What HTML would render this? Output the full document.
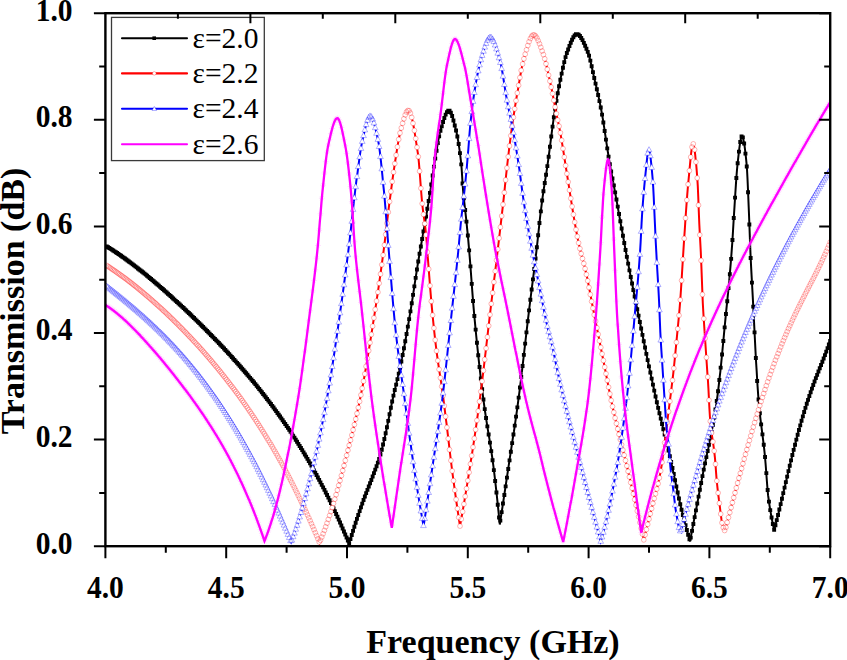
<!DOCTYPE html>
<html><head><meta charset="utf-8"><style>
html,body{margin:0;padding:0;background:#fff;}
body{width:847px;height:660px;overflow:hidden;font-family:"Liberation Serif",serif;}
svg{display:block;}
</style></head><body>
<svg width="847" height="660" viewBox="0 0 847 660">
<defs><clipPath id="c"><rect x="105.4" y="9.2" width="724.8" height="537.0"/></clipPath></defs>
<g clip-path="url(#c)">
<path d="M105.5,245.7 L106.0,246.0 L106.5,246.3 L107.0,246.6 L107.5,246.9 L108.0,247.2 L108.5,247.5 L109.0,247.8 L109.5,248.1 L110.0,248.4 L110.5,248.8 L111.0,249.1 L111.5,249.4 L112.0,249.7 L112.5,250.0 L113.0,250.4 L113.5,250.7 L114.0,251.0 L114.5,251.4 L115.0,251.7 L115.5,252.0 L116.0,252.4 L116.5,252.7 L117.0,253.0 L117.5,253.4 L118.0,253.7 L118.5,254.0 L119.0,254.4 L119.5,254.7 L120.0,255.1 L120.5,255.4 L121.0,255.8 L121.5,256.1 L122.0,256.5 L122.5,256.8 L123.0,257.2 L123.5,257.6 L124.0,257.9 L124.5,258.3 L125.0,258.6 L125.5,259.0 L126.1,259.4 L126.6,259.7 L127.1,260.1 L127.6,260.5 L128.1,260.8 L128.6,261.2 L129.1,261.6 L129.6,261.9 L130.1,262.3 L130.6,262.7 L131.1,263.1 L131.6,263.4 L132.1,263.8 L132.6,264.2 L133.1,264.6 L133.6,265.0 L134.1,265.4 L134.6,265.7 L135.1,266.1 L135.6,266.5 L136.1,266.9 L136.6,267.3 L137.1,267.7 L137.6,268.1 L138.1,268.5 L138.6,268.9 L139.1,269.3 L139.6,269.7 L140.1,270.1 L140.6,270.5 L141.1,270.9 L141.6,271.3 L142.1,271.7 L142.6,272.1 L143.1,272.5 L143.6,272.9 L144.1,273.3 L144.6,273.7 L145.1,274.1 L145.6,274.5 L146.1,274.9 L146.6,275.3 L147.1,275.7 L147.6,276.2 L148.1,276.6 L148.6,277.0 L149.1,277.4 L149.6,277.8 L150.1,278.2 L150.6,278.7 L151.1,279.1 L151.6,279.5 L152.1,279.9 L152.6,280.3 L153.1,280.8 L153.6,281.2 L154.1,281.6 L154.6,282.0 L155.1,282.5 L155.6,282.9 L156.1,283.3 L156.6,283.8 L157.1,284.2 L157.6,284.6 L158.1,285.1 L158.6,285.5 L159.1,285.9 L159.6,286.4 L160.1,286.8 L160.6,287.2 L161.1,287.7 L161.6,288.1 L162.1,288.6 L162.6,289.0 L163.1,289.4 L163.6,289.9 L164.1,290.3 L164.6,290.8 L165.1,291.2 L165.6,291.6 L166.1,292.1 L166.7,292.5 L167.2,293.0 L167.7,293.4 L168.2,293.9 L168.7,294.3 L169.2,294.8 L169.7,295.2 L170.2,295.7 L170.7,296.1 L171.2,296.6 L171.7,297.0 L172.2,297.5 L172.7,298.0 L173.2,298.4 L173.7,298.9 L174.2,299.3 L174.7,299.8 L175.2,300.3 L175.7,300.7 L176.2,301.2 L176.7,301.6 L177.2,302.1 L177.7,302.6 L178.2,303.0 L178.7,303.5 L179.2,304.0 L179.7,304.4 L180.2,304.9 L180.7,305.4 L181.2,305.8 L181.7,306.3 L182.2,306.8 L182.7,307.2 L183.2,307.7 L183.7,308.2 L184.2,308.6 L184.7,309.1 L185.2,309.6 L185.7,310.1 L186.2,310.5 L186.7,311.0 L187.2,311.5 L187.7,312.0 L188.2,312.4 L188.7,312.9 L189.2,313.4 L189.7,313.9 L190.2,314.4 L190.7,314.8 L191.2,315.3 L191.7,315.8 L192.2,316.3 L192.7,316.8 L193.2,317.3 L193.7,317.8 L194.2,318.2 L194.7,318.7 L195.2,319.2 L195.7,319.7 L196.2,320.2 L196.7,320.7 L197.2,321.2 L197.7,321.7 L198.2,322.2 L198.7,322.7 L199.2,323.1 L199.7,323.6 L200.2,324.1 L200.7,324.6 L201.2,325.1 L201.7,325.6 L202.2,326.1 L202.7,326.6 L203.2,327.1 L203.7,327.6 L204.2,328.1 L204.7,328.6 L205.2,329.1 L205.7,329.6 L206.2,330.1 L206.7,330.6 L207.3,331.1 L207.8,331.7 L208.3,332.2 L208.8,332.7 L209.3,333.2 L209.8,333.7 L210.3,334.2 L210.8,334.7 L211.3,335.2 L211.8,335.7 L212.3,336.3 L212.8,336.8 L213.3,337.3 L213.8,337.8 L214.3,338.3 L214.8,338.8 L215.3,339.4 L215.8,339.9 L216.3,340.4 L216.8,340.9 L217.3,341.4 L217.8,342.0 L218.3,342.5 L218.8,343.0 L219.3,343.5 L219.8,344.1 L220.3,344.6 L220.8,345.1 L221.3,345.6 L221.8,346.2 L222.3,346.7 L222.8,347.2 L223.3,347.8 L223.8,348.3 L224.3,348.8 L224.8,349.4 L225.3,349.9 L225.8,350.5 L226.3,351.0 L226.8,351.5 L227.3,352.1 L227.8,352.6 L228.3,353.2 L228.8,353.7 L229.3,354.3 L229.8,354.8 L230.3,355.3 L230.8,355.9 L231.3,356.4 L231.8,357.0 L232.3,357.5 L232.8,358.1 L233.3,358.7 L233.8,359.2 L234.3,359.8 L234.8,360.3 L235.3,360.9 L235.8,361.4 L236.3,362.0 L236.8,362.6 L237.3,363.1 L237.8,363.7 L238.3,364.2 L238.8,364.8 L239.3,365.4 L239.8,366.0 L240.3,366.5 L240.8,367.1 L241.3,367.7 L241.8,368.2 L242.3,368.8 L242.8,369.4 L243.3,370.0 L243.8,370.5 L244.3,371.1 L244.8,371.7 L245.3,372.3 L245.8,372.9 L246.3,373.5 L246.8,374.0 L247.3,374.6 L247.9,375.2 L248.4,375.8 L248.9,376.4 L249.4,377.0 L249.9,377.6 L250.4,378.2 L250.9,378.8 L251.4,379.4 L251.9,380.0 L252.4,380.6 L252.9,381.2 L253.4,381.8 L253.9,382.4 L254.4,383.0 L254.9,383.6 L255.4,384.2 L255.9,384.8 L256.4,385.5 L256.9,386.1 L257.4,386.7 L257.9,387.3 L258.4,387.9 L258.9,388.6 L259.4,389.2 L259.9,389.8 L260.4,390.4 L260.9,391.1 L261.4,391.7 L261.9,392.3 L262.4,393.0 L262.9,393.6 L263.4,394.2 L263.9,394.9 L264.4,395.5 L264.9,396.1 L265.4,396.8 L265.9,397.4 L266.4,398.1 L266.9,398.7 L267.4,399.4 L267.9,400.0 L268.4,400.7 L268.9,401.4 L269.4,402.0 L269.9,402.7 L270.4,403.3 L270.9,404.0 L271.4,404.7 L271.9,405.3 L272.4,406.0 L272.9,406.7 L273.4,407.4 L273.9,408.0 L274.4,408.7 L274.9,409.4 L275.4,410.1 L275.9,410.8 L276.4,411.5 L276.9,412.1 L277.4,412.8 L277.9,413.5 L278.4,414.2 L278.9,414.9 L279.4,415.6 L279.9,416.3 L280.4,417.0 L280.9,417.7 L281.4,418.5 L281.9,419.2 L282.4,419.9 L282.9,420.6 L283.4,421.3 L283.9,422.0 L284.4,422.8 L284.9,423.5 L285.4,424.2 L285.9,424.9 L286.4,425.7 L286.9,426.4 L287.4,427.2 L287.9,427.9 L288.5,428.6 L289.0,429.4 L289.5,430.1 L290.0,430.9 L290.5,431.6 L291.0,432.4 L291.5,433.2 L292.0,433.9 L292.5,434.7 L293.0,435.4 L293.5,436.2 L294.0,437.0 L294.5,437.8 L295.0,438.5 L295.5,439.3 L296.0,440.1 L296.5,440.9 L297.0,441.7 L297.5,442.5 L298.0,443.3 L298.5,444.1 L299.0,444.9 L299.5,445.7 L300.0,446.5 L300.5,447.3 L301.0,448.1 L301.5,448.9 L302.0,449.7 L302.5,450.6 L303.0,451.4 L303.5,452.2 L304.0,453.1 L304.5,453.9 L305.0,454.7 L305.5,455.6 L306.0,456.4 L306.5,457.3 L307.0,458.1 L307.5,459.0 L308.0,459.8 L308.5,460.7 L309.0,461.5 L309.5,462.4 L310.0,463.3 L310.5,464.2 L311.0,465.0 L311.5,465.9 L312.0,466.8 L312.5,467.7 L313.0,468.6 L313.5,469.5 L314.0,470.4 L314.5,471.3 L315.0,472.2 L315.5,473.1 L316.0,474.0 L316.5,474.9 L317.0,475.8 L317.5,476.8 L318.0,477.7 L318.5,478.6 L319.0,479.6 L319.5,480.5 L320.0,481.4 L320.5,482.4 L321.0,483.3 L321.5,484.3 L322.0,485.3 L322.5,486.2 L323.0,487.2 L323.5,488.2 L324.0,489.1 L324.5,490.1 L325.0,491.1 L325.5,492.1 L326.0,493.1 L326.5,494.1 L327.0,495.1 L327.5,496.1 L328.0,497.1 L328.5,498.1 L329.1,499.1 L329.6,500.1 L330.1,501.2 L330.6,502.2 L331.1,503.2 L331.6,504.3 L332.1,505.3 L332.6,506.4 L333.1,507.4 L333.6,508.5 L334.1,509.5 L334.6,510.6 L335.1,511.7 L335.6,512.7 L336.1,513.8 L336.6,514.9 L337.1,516.0 L337.6,517.1 L338.1,518.2 L338.6,519.3 L339.1,520.4 L339.6,521.5 L340.1,522.6 L340.6,523.7 L341.1,524.9 L341.6,526.0 L342.1,527.1 L342.6,528.3 L343.1,529.4 L343.6,530.6 L344.1,531.7 L344.6,532.9 L345.1,534.1 L345.6,535.2 L346.1,536.4 L346.6,537.6 L347.1,538.8 L347.6,540.0 L348.1,541.2 L348.6,542.4 L349.1,543.6 L349.6,542.0 L350.1,540.3 L350.6,538.7 L351.1,537.1 L351.6,535.5 L352.1,533.9 L352.6,532.3 L353.1,530.7 L353.6,529.1 L354.1,527.6 L354.6,526.0 L355.1,524.5 L355.6,522.9 L356.1,521.4 L356.6,519.9 L357.1,518.4 L357.6,516.9 L358.1,515.4 L358.6,513.9 L359.1,512.5 L359.6,511.0 L360.2,509.5 L360.7,508.1 L361.2,506.7 L361.7,505.2 L362.2,503.8 L362.7,502.4 L363.2,501.0 L363.7,499.6 L364.2,498.3 L364.7,496.9 L365.2,495.6 L365.7,494.3 L366.2,493.0 L366.7,491.7 L367.2,490.4 L367.7,489.2 L368.2,487.9 L368.7,486.6 L369.2,485.4 L369.7,484.1 L370.2,482.8 L370.7,481.6 L371.2,480.3 L371.7,479.0 L372.2,477.7 L372.7,476.4 L373.2,475.1 L373.7,473.7 L374.2,472.4 L374.7,471.0 L375.2,469.7 L375.7,468.4 L376.2,467.1 L376.7,465.8 L377.2,464.4 L377.7,463.0 L378.2,461.6 L378.7,460.1 L379.2,458.6 L379.7,457.0 L380.2,455.3 L380.7,453.5 L381.2,451.7 L381.8,449.8 L382.3,447.8 L382.8,445.7 L383.3,443.7 L383.8,441.5 L384.3,439.4 L384.8,437.2 L385.3,435.0 L385.8,432.8 L386.3,430.5 L386.8,428.2 L387.3,425.8 L387.8,423.3 L388.3,420.8 L388.8,418.3 L389.3,415.7 L389.8,413.2 L390.3,410.7 L390.8,408.2 L391.3,405.7 L391.8,403.3 L392.3,401.0 L392.8,398.7 L393.3,396.5 L393.8,394.3 L394.3,392.1 L394.8,390.0 L395.3,387.9 L395.8,385.8 L396.3,383.7 L396.8,381.6 L397.3,379.5 L397.8,377.4 L398.3,375.3 L398.8,373.1 L399.3,370.9 L399.8,368.6 L400.3,366.3 L400.8,363.9 L401.3,361.4 L401.8,359.0 L402.3,356.4 L402.8,353.9 L403.4,351.3 L403.9,348.6 L404.4,346.0 L404.9,343.2 L405.4,340.5 L405.9,337.7 L406.4,334.9 L406.9,332.1 L407.4,329.3 L407.9,326.4 L408.4,323.5 L408.9,320.6 L409.4,317.7 L409.9,314.7 L410.4,311.7 L410.9,308.6 L411.4,305.5 L411.9,302.3 L412.4,299.1 L412.9,295.9 L413.4,292.6 L413.9,289.3 L414.4,286.0 L414.9,282.7 L415.4,279.4 L415.9,276.2 L416.4,273.0 L416.9,269.8 L417.4,266.6 L417.9,263.5 L418.4,260.5 L418.9,257.5 L419.4,254.6 L419.9,251.7 L420.4,248.9 L420.9,246.0 L421.4,243.2 L421.9,240.4 L422.4,237.6 L422.9,234.7 L423.4,231.8 L423.9,228.9 L424.5,225.9 L425.0,223.0 L425.5,220.1 L426.0,217.2 L426.5,214.2 L427.0,211.3 L427.5,208.3 L428.0,205.3 L428.5,202.3 L429.0,199.2 L429.5,196.1 L430.0,193.0 L430.5,189.8 L431.0,186.6 L431.5,183.3 L432.0,179.8 L432.5,176.2 L433.0,172.7 L433.5,169.4 L434.0,166.1 L434.5,163.1 L435.0,160.0 L435.5,156.9 L436.0,153.8 L436.5,150.8 L437.0,147.8 L437.5,144.9 L438.0,142.1 L438.5,139.4 L439.0,136.9 L439.5,134.5 L440.0,132.3 L440.5,130.4 L441.0,128.7 L441.5,127.0 L442.0,125.4 L442.5,123.7 L443.0,122.1 L443.5,120.5 L444.0,119.0 L444.5,117.5 L445.0,116.1 L445.5,114.9 L446.1,113.8 L446.6,112.8 L447.1,111.9 L447.6,111.3 L448.1,110.8 L448.6,110.6 L449.1,110.5 L449.6,110.8 L450.1,111.3 L450.6,112.1 L451.1,113.2 L451.6,114.4 L452.1,115.8 L452.6,117.4 L453.1,119.1 L453.6,120.9 L454.1,122.8 L454.6,124.8 L455.1,126.7 L455.6,128.7 L456.1,130.7 L456.6,132.8 L457.1,135.2 L457.6,137.7 L458.1,140.5 L458.6,143.5 L459.1,146.8 L459.6,150.3 L460.1,154.2 L460.6,158.4 L461.1,162.8 L461.6,168.1 L462.1,175.8 L462.6,184.1 L463.1,190.5 L463.6,195.8 L464.1,200.6 L464.6,205.1 L465.1,209.4 L465.6,213.8 L466.1,218.3 L466.6,223.1 L467.1,228.4 L467.7,233.8 L468.2,239.4 L468.7,245.1 L469.2,251.0 L469.7,256.9 L470.2,263.2 L470.7,269.8 L471.2,276.5 L471.7,283.3 L472.2,290.0 L472.7,296.6 L473.2,303.0 L473.7,308.9 L474.2,314.5 L474.7,319.9 L475.2,325.2 L475.7,330.4 L476.2,335.5 L476.7,340.5 L477.2,345.4 L477.7,350.2 L478.2,354.9 L478.7,359.6 L479.2,364.1 L479.7,368.6 L480.2,373.0 L480.7,377.3 L481.2,381.6 L481.7,385.8 L482.2,389.9 L482.7,393.9 L483.2,397.9 L483.7,401.7 L484.2,405.5 L484.7,409.0 L485.2,412.5 L485.7,415.9 L486.2,419.2 L486.7,422.4 L487.2,425.6 L487.7,428.7 L488.2,431.9 L488.7,435.0 L489.3,438.1 L489.8,441.3 L490.3,444.5 L490.8,447.7 L491.3,451.1 L491.8,454.5 L492.3,458.0 L492.8,461.7 L493.3,465.4 L493.8,469.4 L494.3,473.4 L494.8,477.6 L495.3,481.9 L495.8,486.3 L496.3,490.8 L496.8,495.4 L497.3,500.1 L497.8,504.8 L498.3,509.7 L498.8,514.6 L499.3,519.5 L499.8,524.5 L500.3,521.2 L500.8,517.9 L501.3,514.7 L501.8,511.4 L502.3,508.1 L502.8,504.8 L503.3,501.5 L503.8,498.2 L504.3,494.8 L504.8,491.5 L505.3,488.2 L505.8,484.9 L506.3,481.5 L506.8,478.2 L507.3,474.8 L507.8,471.5 L508.3,468.1 L508.8,464.8 L509.3,461.5 L509.8,458.2 L510.3,454.9 L510.8,451.6 L511.3,448.3 L511.8,445.0 L512.3,441.7 L512.8,438.4 L513.3,435.0 L513.9,431.7 L514.4,428.3 L514.9,424.8 L515.4,421.4 L515.9,417.9 L516.4,414.3 L516.9,410.8 L517.4,407.1 L517.9,403.5 L518.4,399.7 L518.9,395.9 L519.4,392.1 L519.9,388.1 L520.4,384.1 L520.9,380.0 L521.4,375.9 L521.9,371.7 L522.4,367.4 L522.9,363.2 L523.4,358.9 L523.9,354.6 L524.4,350.2 L524.9,345.9 L525.4,341.6 L525.9,337.2 L526.4,332.9 L526.9,328.6 L527.4,324.3 L527.9,320.1 L528.4,315.8 L528.9,311.7 L529.4,307.5 L529.9,303.5 L530.4,299.5 L530.9,295.5 L531.4,291.5 L531.9,287.6 L532.4,283.7 L532.9,279.8 L533.4,275.8 L533.9,271.9 L534.4,267.9 L534.9,263.8 L535.4,259.7 L535.9,255.6 L536.4,251.3 L536.9,246.8 L537.4,242.3 L537.9,237.7 L538.4,233.0 L538.9,228.3 L539.4,223.6 L539.9,219.0 L540.4,214.4 L541.0,210.0 L541.5,205.8 L542.0,201.7 L542.5,197.9 L543.0,194.3 L543.5,190.9 L544.0,187.7 L544.5,184.5 L545.0,181.4 L545.5,178.2 L546.0,175.1 L546.5,171.9 L547.0,168.5 L547.5,165.1 L548.0,161.5 L548.5,157.8 L549.0,154.0 L549.5,150.2 L550.0,146.3 L550.5,142.4 L551.0,138.5 L551.5,134.6 L552.0,130.7 L552.5,127.0 L553.0,123.3 L553.5,119.6 L554.0,116.2 L554.5,112.8 L555.0,109.6 L555.5,106.5 L556.0,103.4 L556.5,100.4 L557.0,97.5 L557.5,94.6 L558.0,91.8 L558.5,89.1 L559.0,86.4 L559.5,83.9 L560.0,81.4 L560.5,79.0 L561.0,76.6 L561.5,74.3 L562.0,72.0 L562.5,69.7 L563.0,67.4 L563.5,65.2 L564.0,63.1 L564.5,61.1 L565.0,59.1 L565.5,57.3 L566.0,55.5 L566.5,53.9 L567.0,52.5 L567.5,51.1 L568.1,49.8 L568.6,48.5 L569.1,47.2 L569.6,45.9 L570.1,44.6 L570.6,43.3 L571.1,42.1 L571.6,40.9 L572.1,39.8 L572.6,38.8 L573.1,37.8 L573.6,37.0 L574.1,36.2 L574.6,35.5 L575.1,35.0 L575.6,34.5 L576.1,34.3 L576.6,34.1 L577.1,34.1 L577.6,34.2 L578.1,34.5 L578.6,34.8 L579.1,35.2 L579.6,35.7 L580.1,36.3 L580.6,37.0 L581.1,37.7 L581.6,38.5 L582.1,39.4 L582.6,40.4 L583.1,41.3 L583.6,42.4 L584.1,43.4 L584.6,44.6 L585.1,45.7 L585.6,46.8 L586.1,48.0 L586.6,49.2 L587.1,50.4 L587.6,51.6 L588.1,52.9 L588.6,54.4 L589.1,56.0 L589.6,57.8 L590.1,59.8 L590.6,61.8 L591.1,64.0 L591.6,66.2 L592.1,68.5 L592.6,70.8 L593.1,73.1 L593.6,75.3 L594.1,77.6 L594.6,79.7 L595.2,81.9 L595.7,84.0 L596.2,86.2 L596.7,88.4 L597.2,90.6 L597.7,92.8 L598.2,95.1 L598.7,97.4 L599.2,99.7 L599.7,102.1 L600.2,104.6 L600.7,107.1 L601.2,109.7 L601.7,112.4 L602.2,115.2 L602.7,118.2 L603.2,121.2 L603.7,124.4 L604.2,127.7 L604.7,131.0 L605.2,134.3 L605.7,137.7 L606.2,141.1 L606.7,144.4 L607.2,147.7 L607.7,151.0 L608.2,154.2 L608.7,157.3 L609.2,160.3 L609.7,163.2 L610.2,166.1 L610.7,168.9 L611.2,171.6 L611.7,174.3 L612.2,177.0 L612.7,179.6 L613.2,182.3 L613.7,184.9 L614.2,187.6 L614.7,190.3 L615.2,193.0 L615.7,195.7 L616.2,198.4 L616.7,201.2 L617.2,204.0 L617.7,206.8 L618.2,209.6 L618.7,212.4 L619.2,215.2 L619.7,218.0 L620.2,220.8 L620.7,223.6 L621.2,226.4 L621.7,229.2 L622.3,232.0 L622.8,234.8 L623.3,237.6 L623.8,240.3 L624.3,243.1 L624.8,245.8 L625.3,248.5 L625.8,251.2 L626.3,253.8 L626.8,256.5 L627.3,259.1 L627.8,261.7 L628.3,264.3 L628.8,266.9 L629.3,269.4 L629.8,272.0 L630.3,274.5 L630.8,277.1 L631.3,279.6 L631.8,282.1 L632.3,284.7 L632.8,287.2 L633.3,289.7 L633.8,292.2 L634.3,294.6 L634.8,297.1 L635.3,299.6 L635.8,302.1 L636.3,304.5 L636.8,307.0 L637.3,309.5 L637.8,311.9 L638.3,314.4 L638.8,316.9 L639.3,319.3 L639.8,321.8 L640.3,324.2 L640.8,326.7 L641.3,329.2 L641.8,331.6 L642.3,334.1 L642.8,336.5 L643.3,339.0 L643.8,341.4 L644.3,343.9 L644.8,346.3 L645.3,348.8 L645.8,351.2 L646.3,353.6 L646.8,356.0 L647.3,358.5 L647.8,360.9 L648.3,363.3 L648.8,365.7 L649.4,368.0 L649.9,370.4 L650.4,372.8 L650.9,375.1 L651.4,377.5 L651.9,379.8 L652.4,382.1 L652.9,384.4 L653.4,386.7 L653.9,389.0 L654.4,391.3 L654.9,393.6 L655.4,395.8 L655.9,398.1 L656.4,400.3 L656.9,402.5 L657.4,404.6 L657.9,406.8 L658.4,408.9 L658.9,411.0 L659.4,413.1 L659.9,415.2 L660.4,417.3 L660.9,419.3 L661.4,421.4 L661.9,423.4 L662.4,425.4 L662.9,427.4 L663.4,429.5 L663.9,431.5 L664.4,433.5 L664.9,435.5 L665.4,437.6 L665.9,439.6 L666.4,441.7 L666.9,443.7 L667.4,445.8 L667.9,447.9 L668.4,450.0 L668.9,452.2 L669.4,454.3 L669.9,456.5 L670.4,458.7 L670.9,460.9 L671.4,463.2 L671.9,465.5 L672.4,467.8 L672.9,470.2 L673.4,472.5 L673.9,474.9 L674.4,477.3 L674.9,479.7 L675.4,482.0 L675.9,484.4 L676.5,486.8 L677.0,489.2 L677.5,491.5 L678.0,493.8 L678.5,496.2 L679.0,498.4 L679.5,500.7 L680.0,502.9 L680.5,505.1 L681.0,507.2 L681.5,509.3 L682.0,511.3 L682.5,513.4 L683.0,515.4 L683.5,517.4 L684.0,519.3 L684.5,521.3 L685.0,523.2 L685.5,525.1 L686.0,527.0 L686.5,528.9 L687.0,530.7 L687.5,532.6 L688.0,534.4 L688.5,536.2 L689.0,537.9 L689.5,539.7 L690.0,541.4 L690.5,538.8 L691.0,536.1 L691.5,533.5 L692.0,530.8 L692.5,528.2 L693.0,525.5 L693.5,522.9 L694.0,520.3 L694.5,517.6 L695.0,515.0 L695.5,512.3 L696.1,509.7 L696.6,507.0 L697.1,504.4 L697.6,501.7 L698.1,499.1 L698.6,496.5 L699.1,493.8 L699.6,491.2 L700.1,488.5 L700.6,485.9 L701.1,483.2 L701.6,480.6 L702.1,477.9 L702.6,475.3 L703.1,472.8 L703.6,470.3 L704.1,467.8 L704.6,465.4 L705.1,463.0 L705.6,460.6 L706.1,458.2 L706.6,455.9 L707.1,453.5 L707.6,451.1 L708.2,448.7 L708.7,446.4 L709.2,443.9 L709.7,441.5 L710.2,439.0 L710.7,436.5 L711.2,434.0 L711.7,431.4 L712.2,428.7 L712.7,426.0 L713.2,423.2 L713.7,420.4 L714.2,417.4 L714.7,414.4 L715.2,411.3 L715.7,408.1 L716.2,404.8 L716.7,401.4 L717.2,397.9 L717.7,394.1 L718.2,390.1 L718.7,385.9 L719.2,381.4 L719.7,376.8 L720.3,372.0 L720.8,367.1 L721.3,362.1 L721.8,357.0 L722.3,351.8 L722.8,346.5 L723.3,341.3 L723.8,336.0 L724.3,330.7 L724.8,325.5 L725.3,320.3 L725.8,315.2 L726.3,310.2 L726.8,305.2 L727.3,300.3 L727.8,295.3 L728.3,290.2 L728.8,285.1 L729.3,279.7 L729.8,274.2 L730.3,268.4 L730.8,262.4 L731.3,256.0 L731.8,249.1 L732.4,241.2 L732.9,232.8 L733.4,224.2 L733.9,215.9 L734.4,208.2 L734.9,200.3 L735.4,192.3 L735.9,184.6 L736.4,177.3 L736.9,170.9 L737.4,165.5 L737.9,160.9 L738.4,156.4 L738.9,152.0 L739.4,147.9 L739.9,144.1 L740.4,141.0 L740.9,138.5 L741.4,136.8 L741.9,136.1 L742.4,136.4 L742.9,137.6 L743.4,139.6 L743.9,142.3 L744.5,145.5 L745.0,149.3 L745.5,153.6 L746.0,158.2 L746.5,163.2 L747.0,169.3 L747.5,178.7 L748.0,190.0 L748.5,202.4 L749.0,214.5 L749.5,227.7 L750.0,241.6 L750.5,254.1 L751.0,264.6 L751.5,274.1 L752.0,283.2 L752.5,292.2 L753.0,301.6 L753.5,311.3 L754.0,321.2 L754.5,331.3 L755.0,341.3 L755.5,351.2 L756.0,360.8 L756.6,370.0 L757.1,378.7 L757.6,386.7 L758.1,394.0 L758.6,400.3 L759.1,406.0 L759.6,411.1 L760.1,415.8 L760.6,420.1 L761.1,424.2 L761.6,428.1 L762.1,432.0 L762.6,435.8 L763.1,439.8 L763.6,443.9 L764.1,448.2 L764.6,452.9 L765.1,458.0 L765.6,464.0 L766.1,470.5 L766.6,477.4 L767.1,484.0 L767.6,490.2 L768.1,495.4 L768.7,499.5 L769.2,503.3 L769.7,506.7 L770.2,509.8 L770.7,512.7 L771.2,515.5 L771.7,518.2 L772.2,520.8 L772.7,523.3 L773.2,525.7 L773.7,527.9 L774.2,530.0 L774.7,528.1 L775.2,526.2 L775.7,524.2 L776.2,522.2 L776.7,520.2 L777.2,518.2 L777.8,516.2 L778.3,514.1 L778.8,512.0 L779.3,510.0 L779.8,507.9 L780.3,505.8 L780.8,503.6 L781.3,501.5 L781.8,499.4 L782.3,497.2 L782.8,495.1 L783.3,492.9 L783.8,490.8 L784.3,488.6 L784.9,486.5 L785.4,484.3 L785.9,482.2 L786.4,480.0 L786.9,477.9 L787.4,475.7 L787.9,473.6 L788.4,471.5 L788.9,469.4 L789.4,467.2 L789.9,465.1 L790.4,463.0 L790.9,461.0 L791.4,458.9 L792.0,456.8 L792.5,454.8 L793.0,452.7 L793.5,450.7 L794.0,448.7 L794.5,446.7 L795.0,444.7 L795.5,442.8 L796.0,440.8 L796.5,438.9 L797.0,437.0 L797.5,435.1 L798.0,433.2 L798.5,431.3 L799.1,429.5 L799.6,427.6 L800.1,425.8 L800.6,424.0 L801.1,422.3 L801.6,420.5 L802.1,418.8 L802.6,417.1 L803.1,415.4 L803.6,413.7 L804.1,412.0 L804.6,410.4 L805.1,408.7 L805.6,407.1 L806.2,405.6 L806.7,404.0 L807.2,402.4 L807.7,400.9 L808.2,399.4 L808.7,397.9 L809.2,396.4 L809.7,394.9 L810.2,393.5 L810.7,392.0 L811.2,390.6 L811.7,389.2 L812.2,387.8 L812.7,386.4 L813.3,385.1 L813.8,383.7 L814.3,382.4 L814.8,381.0 L815.3,379.7 L815.8,378.4 L816.3,377.1 L816.8,375.8 L817.3,374.5 L817.8,373.2 L818.3,371.9 L818.8,370.6 L819.3,369.4 L819.8,368.1 L820.4,366.8 L820.9,365.6 L821.4,364.3 L821.9,363.0 L822.4,361.7 L822.9,360.5 L823.4,359.2 L823.9,357.9 L824.4,356.6 L824.9,355.3 L825.4,354.0 L825.9,352.6 L826.4,351.3 L826.9,349.9 L827.5,348.6 L828.0,347.2 L828.5,345.8 L829.0,344.3 L829.5,342.9 L830.0,341.4 L830.2,339.9" fill="none" stroke="#000" stroke-width="2"/>
<path d="M104.8,244.5h3.9v3.9h-3.9zM106.1,245.3h3.9v3.9h-3.9zM107.4,246.1h3.9v3.9h-3.9zM108.7,246.9h3.9v3.9h-3.9zM110.0,247.7h3.9v3.9h-3.9zM111.3,248.6h3.9v3.9h-3.9zM112.6,249.4h3.9v3.9h-3.9zM113.9,250.3h3.9v3.9h-3.9zM115.2,251.1h3.9v3.9h-3.9zM116.5,252.0h3.9v3.9h-3.9zM117.8,252.9h3.9v3.9h-3.9zM119.1,253.8h3.9v3.9h-3.9zM120.4,254.8h3.9v3.9h-3.9zM121.7,255.7h3.9v3.9h-3.9zM123.0,256.6h3.9v3.9h-3.9zM124.3,257.6h3.9v3.9h-3.9zM125.6,258.5h3.9v3.9h-3.9zM126.9,259.5h3.9v3.9h-3.9zM128.2,260.4h3.9v3.9h-3.9zM129.5,261.4h3.9v3.9h-3.9zM130.8,262.4h3.9v3.9h-3.9zM132.1,263.4h3.9v3.9h-3.9zM133.4,264.4h3.9v3.9h-3.9zM134.7,265.4h3.9v3.9h-3.9zM136.0,266.5h3.9v3.9h-3.9zM137.3,267.5h3.9v3.9h-3.9zM138.6,268.5h3.9v3.9h-3.9zM140.0,269.6h3.9v3.9h-3.9zM141.3,270.6h3.9v3.9h-3.9zM142.6,271.7h3.9v3.9h-3.9zM143.9,272.7h3.9v3.9h-3.9zM145.2,273.8h3.9v3.9h-3.9zM146.5,274.9h3.9v3.9h-3.9zM147.8,276.0h3.9v3.9h-3.9zM149.1,277.1h3.9v3.9h-3.9zM150.4,278.2h3.9v3.9h-3.9zM151.7,279.3h3.9v3.9h-3.9zM153.0,280.4h3.9v3.9h-3.9zM154.3,281.5h3.9v3.9h-3.9zM155.6,282.6h3.9v3.9h-3.9zM156.9,283.7h3.9v3.9h-3.9zM158.2,284.9h3.9v3.9h-3.9zM159.5,286.0h3.9v3.9h-3.9zM160.8,287.1h3.9v3.9h-3.9zM162.1,288.3h3.9v3.9h-3.9zM163.4,289.4h3.9v3.9h-3.9zM164.7,290.6h3.9v3.9h-3.9zM166.0,291.8h3.9v3.9h-3.9zM167.3,292.9h3.9v3.9h-3.9zM168.6,294.1h3.9v3.9h-3.9zM169.9,295.3h3.9v3.9h-3.9zM171.2,296.5h3.9v3.9h-3.9zM172.5,297.7h3.9v3.9h-3.9zM173.8,298.9h3.9v3.9h-3.9zM175.1,300.1h3.9v3.9h-3.9zM176.5,301.3h3.9v3.9h-3.9zM177.8,302.5h3.9v3.9h-3.9zM179.1,303.7h3.9v3.9h-3.9zM180.4,304.9h3.9v3.9h-3.9zM181.7,306.1h3.9v3.9h-3.9zM183.0,307.4h3.9v3.9h-3.9zM184.3,308.6h3.9v3.9h-3.9zM185.6,309.9h3.9v3.9h-3.9zM186.9,311.1h3.9v3.9h-3.9zM188.2,312.3h3.9v3.9h-3.9zM189.5,313.6h3.9v3.9h-3.9zM190.8,314.9h3.9v3.9h-3.9zM192.1,316.1h3.9v3.9h-3.9zM193.4,317.4h3.9v3.9h-3.9zM194.7,318.7h3.9v3.9h-3.9zM196.0,319.9h3.9v3.9h-3.9zM197.3,321.2h3.9v3.9h-3.9zM198.6,322.5h3.9v3.9h-3.9zM199.9,323.8h3.9v3.9h-3.9zM201.2,325.1h3.9v3.9h-3.9zM202.5,326.4h3.9v3.9h-3.9zM203.8,327.7h3.9v3.9h-3.9zM205.1,329.0h3.9v3.9h-3.9zM206.4,330.3h3.9v3.9h-3.9zM207.7,331.7h3.9v3.9h-3.9zM209.0,333.0h3.9v3.9h-3.9zM210.3,334.3h3.9v3.9h-3.9zM211.6,335.7h3.9v3.9h-3.9zM213.0,337.0h3.9v3.9h-3.9zM214.3,338.4h3.9v3.9h-3.9zM215.6,339.7h3.9v3.9h-3.9zM216.9,341.1h3.9v3.9h-3.9zM218.2,342.5h3.9v3.9h-3.9zM219.5,343.8h3.9v3.9h-3.9zM220.8,345.2h3.9v3.9h-3.9zM222.1,346.6h3.9v3.9h-3.9zM223.4,348.0h3.9v3.9h-3.9zM224.7,349.4h3.9v3.9h-3.9zM226.0,350.8h3.9v3.9h-3.9zM227.3,352.2h3.9v3.9h-3.9zM228.6,353.7h3.9v3.9h-3.9zM229.9,355.1h3.9v3.9h-3.9zM231.2,356.5h3.9v3.9h-3.9zM232.5,358.0h3.9v3.9h-3.9zM233.8,359.4h3.9v3.9h-3.9zM235.1,360.9h3.9v3.9h-3.9zM236.4,362.3h3.9v3.9h-3.9zM237.7,363.8h3.9v3.9h-3.9zM239.0,365.3h3.9v3.9h-3.9zM240.3,366.8h3.9v3.9h-3.9zM241.6,368.3h3.9v3.9h-3.9zM242.9,369.8h3.9v3.9h-3.9zM244.2,371.3h3.9v3.9h-3.9zM245.5,372.8h3.9v3.9h-3.9zM246.8,374.4h3.9v3.9h-3.9zM248.1,375.9h3.9v3.9h-3.9zM249.5,377.5h3.9v3.9h-3.9zM250.8,379.1h3.9v3.9h-3.9zM252.1,380.6h3.9v3.9h-3.9zM253.4,382.2h3.9v3.9h-3.9zM254.7,383.8h3.9v3.9h-3.9zM256.0,385.4h3.9v3.9h-3.9zM257.3,387.0h3.9v3.9h-3.9zM258.6,388.7h3.9v3.9h-3.9zM259.9,390.3h3.9v3.9h-3.9zM261.2,392.0h3.9v3.9h-3.9zM262.5,393.6h3.9v3.9h-3.9zM263.8,395.3h3.9v3.9h-3.9zM265.1,397.0h3.9v3.9h-3.9zM266.4,398.7h3.9v3.9h-3.9zM267.7,400.4h3.9v3.9h-3.9zM269.0,402.1h3.9v3.9h-3.9zM270.3,403.9h3.9v3.9h-3.9zM271.6,405.6h3.9v3.9h-3.9zM272.9,407.4h3.9v3.9h-3.9zM274.2,409.2h3.9v3.9h-3.9zM275.5,411.0h3.9v3.9h-3.9zM276.8,412.8h3.9v3.9h-3.9zM278.1,414.6h3.9v3.9h-3.9zM279.4,416.4h3.9v3.9h-3.9zM280.7,418.3h3.9v3.9h-3.9zM282.0,420.2h3.9v3.9h-3.9zM283.3,422.0h3.9v3.9h-3.9zM284.7,424.0h3.9v3.9h-3.9zM286.0,425.9h3.9v3.9h-3.9zM287.3,427.8h3.9v3.9h-3.9zM288.6,429.8h3.9v3.9h-3.9zM289.9,431.7h3.9v3.9h-3.9zM291.2,433.7h3.9v3.9h-3.9zM292.5,435.7h3.9v3.9h-3.9zM293.8,437.8h3.9v3.9h-3.9zM295.1,439.8h3.9v3.9h-3.9zM296.4,441.9h3.9v3.9h-3.9zM297.7,444.0h3.9v3.9h-3.9zM299.0,446.1h3.9v3.9h-3.9zM300.3,448.2h3.9v3.9h-3.9zM301.6,450.4h3.9v3.9h-3.9zM302.9,452.5h3.9v3.9h-3.9zM304.2,454.7h3.9v3.9h-3.9zM305.5,456.9h3.9v3.9h-3.9zM306.8,459.2h3.9v3.9h-3.9zM308.1,461.4h3.9v3.9h-3.9zM309.4,463.7h3.9v3.9h-3.9zM310.7,466.0h3.9v3.9h-3.9zM312.0,468.4h3.9v3.9h-3.9zM313.3,470.7h3.9v3.9h-3.9zM314.6,473.1h3.9v3.9h-3.9zM315.9,475.5h3.9v3.9h-3.9zM317.2,477.9h3.9v3.9h-3.9zM318.5,480.4h3.9v3.9h-3.9zM319.8,482.9h3.9v3.9h-3.9zM321.2,485.4h3.9v3.9h-3.9zM322.5,487.9h3.9v3.9h-3.9zM323.8,490.5h3.9v3.9h-3.9zM325.1,493.1h3.9v3.9h-3.9zM326.4,495.7h3.9v3.9h-3.9zM327.7,498.3h3.9v3.9h-3.9zM329.0,501.0h3.9v3.9h-3.9zM330.3,503.7h3.9v3.9h-3.9zM331.6,506.4h3.9v3.9h-3.9zM332.9,509.2h3.9v3.9h-3.9zM334.2,512.0h3.9v3.9h-3.9zM335.5,514.8h3.9v3.9h-3.9zM336.8,517.7h3.9v3.9h-3.9zM338.1,520.6h3.9v3.9h-3.9zM339.4,523.5h3.9v3.9h-3.9zM340.7,526.5h3.9v3.9h-3.9zM342.0,529.5h3.9v3.9h-3.9zM343.3,532.5h3.9v3.9h-3.9zM344.6,535.6h3.9v3.9h-3.9zM345.9,538.7h3.9v3.9h-3.9zM347.2,541.4h3.9v3.9h-3.9zM348.5,537.2h3.9v3.9h-3.9zM349.8,533.0h3.9v3.9h-3.9zM351.1,528.9h3.9v3.9h-3.9zM352.4,524.8h3.9v3.9h-3.9zM353.7,520.8h3.9v3.9h-3.9zM355.0,516.9h3.9v3.9h-3.9zM356.3,513.0h3.9v3.9h-3.9zM357.7,509.2h3.9v3.9h-3.9zM359.0,505.4h3.9v3.9h-3.9zM360.3,501.7h3.9v3.9h-3.9zM361.6,498.1h3.9v3.9h-3.9zM362.9,494.6h3.9v3.9h-3.9zM364.2,491.2h3.9v3.9h-3.9zM365.5,487.9h3.9v3.9h-3.9zM366.8,484.6h3.9v3.9h-3.9zM368.1,481.3h3.9v3.9h-3.9zM369.4,478.0h3.9v3.9h-3.9zM370.7,474.6h3.9v3.9h-3.9zM372.0,471.2h3.9v3.9h-3.9zM373.3,467.7h3.9v3.9h-3.9zM374.6,464.3h3.9v3.9h-3.9zM375.9,460.7h3.9v3.9h-3.9zM377.2,456.9h3.9v3.9h-3.9zM378.5,452.6h3.9v3.9h-3.9zM379.8,447.8h3.9v3.9h-3.9zM381.1,442.5h3.9v3.9h-3.9zM382.4,437.0h3.9v3.9h-3.9zM383.7,431.3h3.9v3.9h-3.9zM385.0,425.3h3.9v3.9h-3.9zM386.3,418.9h3.9v3.9h-3.9zM387.6,412.3h3.9v3.9h-3.9zM388.9,405.8h3.9v3.9h-3.9zM390.2,399.6h3.9v3.9h-3.9zM391.5,393.7h3.9v3.9h-3.9zM392.8,388.1h3.9v3.9h-3.9zM394.2,382.7h3.9v3.9h-3.9zM395.5,377.2h3.9v3.9h-3.9zM396.8,371.7h3.9v3.9h-3.9zM398.1,365.8h3.9v3.9h-3.9zM399.4,359.6h3.9v3.9h-3.9zM400.7,353.1h3.9v3.9h-3.9zM402.0,346.3h3.9v3.9h-3.9zM403.3,339.3h3.9v3.9h-3.9zM404.6,332.1h3.9v3.9h-3.9zM405.9,324.7h3.9v3.9h-3.9zM407.2,317.2h3.9v3.9h-3.9zM408.5,309.4h3.9v3.9h-3.9zM409.8,301.3h3.9v3.9h-3.9zM411.1,292.9h3.9v3.9h-3.9zM412.4,284.4h3.9v3.9h-3.9zM413.7,275.9h3.9v3.9h-3.9zM415.0,267.5h3.9v3.9h-3.9zM416.3,259.5h3.9v3.9h-3.9zM417.6,251.8h3.9v3.9h-3.9zM418.9,244.5h3.9v3.9h-3.9zM420.2,237.1h3.9v3.9h-3.9zM421.5,229.6h3.9v3.9h-3.9zM422.8,222.1h3.9v3.9h-3.9zM424.1,214.5h3.9v3.9h-3.9zM425.4,206.8h3.9v3.9h-3.9zM426.7,199.0h3.9v3.9h-3.9zM428.0,190.9h3.9v3.9h-3.9zM429.3,182.6h3.9v3.9h-3.9zM430.7,173.5h3.9v3.9h-3.9zM432.0,164.7h3.9v3.9h-3.9zM433.3,156.7h3.9v3.9h-3.9zM434.6,148.8h3.9v3.9h-3.9zM435.9,141.2h3.9v3.9h-3.9zM437.2,134.4h3.9v3.9h-3.9zM438.5,128.8h3.9v3.9h-3.9zM439.8,124.4h3.9v3.9h-3.9zM441.1,120.1h3.9v3.9h-3.9zM442.4,116.1h3.9v3.9h-3.9zM443.7,112.7h3.9v3.9h-3.9zM445.0,110.2h3.9v3.9h-3.9zM446.3,108.7h3.9v3.9h-3.9zM447.6,108.8h3.9v3.9h-3.9zM448.9,110.7h3.9v3.9h-3.9zM450.2,114.1h3.9v3.9h-3.9zM451.5,118.5h3.9v3.9h-3.9zM452.8,123.5h3.9v3.9h-3.9zM454.1,128.6h3.9v3.9h-3.9zM455.4,134.6h3.9v3.9h-3.9zM456.7,142.0h3.9v3.9h-3.9zM458.0,151.2h3.9v3.9h-3.9zM459.3,162.4h3.9v3.9h-3.9zM460.6,181.5h3.9v3.9h-3.9zM461.9,196.4h3.9v3.9h-3.9zM463.2,208.0h3.9v3.9h-3.9zM464.5,219.7h3.9v3.9h-3.9zM465.9,233.5h3.9v3.9h-3.9zM467.2,248.4h3.9v3.9h-3.9zM468.5,264.4h3.9v3.9h-3.9zM469.8,281.9h3.9v3.9h-3.9zM471.1,299.0h3.9v3.9h-3.9zM472.4,314.0h3.9v3.9h-3.9zM473.7,327.7h3.9v3.9h-3.9zM475.0,340.8h3.9v3.9h-3.9zM476.3,353.3h3.9v3.9h-3.9zM477.6,365.1h3.9v3.9h-3.9zM478.9,376.5h3.9v3.9h-3.9zM480.2,387.3h3.9v3.9h-3.9zM481.5,397.6h3.9v3.9h-3.9zM482.8,407.2h3.9v3.9h-3.9zM484.1,416.0h3.9v3.9h-3.9zM485.4,424.4h3.9v3.9h-3.9zM486.7,432.5h3.9v3.9h-3.9zM488.0,440.7h3.9v3.9h-3.9zM489.3,449.2h3.9v3.9h-3.9zM490.6,458.3h3.9v3.9h-3.9zM491.9,468.2h3.9v3.9h-3.9zM493.2,479.0h3.9v3.9h-3.9zM494.5,490.6h3.9v3.9h-3.9zM495.8,502.8h3.9v3.9h-3.9zM497.1,515.5h3.9v3.9h-3.9zM498.4,518.7h3.9v3.9h-3.9zM499.7,510.2h3.9v3.9h-3.9zM501.0,501.6h3.9v3.9h-3.9zM502.4,493.0h3.9v3.9h-3.9zM503.7,484.4h3.9v3.9h-3.9zM505.0,475.7h3.9v3.9h-3.9zM506.3,467.0h3.9v3.9h-3.9zM507.6,458.4h3.9v3.9h-3.9zM508.9,449.8h3.9v3.9h-3.9zM510.2,441.2h3.9v3.9h-3.9zM511.5,432.6h3.9v3.9h-3.9zM512.8,423.7h3.9v3.9h-3.9zM514.1,414.7h3.9v3.9h-3.9zM515.4,405.4h3.9v3.9h-3.9zM516.7,395.7h3.9v3.9h-3.9zM518.0,385.6h3.9v3.9h-3.9zM519.3,375.0h3.9v3.9h-3.9zM520.6,364.1h3.9v3.9h-3.9zM521.9,352.9h3.9v3.9h-3.9zM523.2,341.7h3.9v3.9h-3.9zM524.5,330.4h3.9v3.9h-3.9zM525.8,319.3h3.9v3.9h-3.9zM527.1,308.4h3.9v3.9h-3.9zM528.4,297.8h3.9v3.9h-3.9zM529.7,287.6h3.9v3.9h-3.9zM531.0,277.4h3.9v3.9h-3.9zM532.3,267.1h3.9v3.9h-3.9zM533.6,256.5h3.9v3.9h-3.9zM534.9,245.3h3.9v3.9h-3.9zM536.2,233.3h3.9v3.9h-3.9zM537.5,221.1h3.9v3.9h-3.9zM538.9,209.4h3.9v3.9h-3.9zM540.2,198.6h3.9v3.9h-3.9zM541.5,189.3h3.9v3.9h-3.9zM542.8,181.0h3.9v3.9h-3.9zM544.1,172.8h3.9v3.9h-3.9zM545.4,164.2h3.9v3.9h-3.9zM546.7,154.8h3.9v3.9h-3.9zM548.0,144.8h3.9v3.9h-3.9zM549.3,134.6h3.9v3.9h-3.9zM550.6,124.7h3.9v3.9h-3.9zM551.9,115.3h3.9v3.9h-3.9zM553.2,106.8h3.9v3.9h-3.9zM554.5,98.9h3.9v3.9h-3.9zM555.8,91.3h3.9v3.9h-3.9zM557.1,84.3h3.9v3.9h-3.9zM558.4,77.8h3.9v3.9h-3.9zM559.7,71.7h3.9v3.9h-3.9zM561.0,65.8h3.9v3.9h-3.9zM562.3,60.2h3.9v3.9h-3.9zM563.6,55.2h3.9v3.9h-3.9zM564.9,51.0h3.9v3.9h-3.9zM566.2,47.5h3.9v3.9h-3.9zM567.5,44.1h3.9v3.9h-3.9zM568.8,40.8h3.9v3.9h-3.9zM570.1,37.8h3.9v3.9h-3.9zM571.4,35.3h3.9v3.9h-3.9zM572.7,33.4h3.9v3.9h-3.9zM574.0,32.3h3.9v3.9h-3.9zM575.4,32.2h3.9v3.9h-3.9zM576.7,32.8h3.9v3.9h-3.9zM578.0,34.1h3.9v3.9h-3.9zM579.3,36.0h3.9v3.9h-3.9zM580.6,38.2h3.9v3.9h-3.9zM581.9,40.9h3.9v3.9h-3.9zM583.2,43.8h3.9v3.9h-3.9zM584.5,46.8h3.9v3.9h-3.9zM585.8,49.9h3.9v3.9h-3.9zM587.1,53.7h3.9v3.9h-3.9zM588.4,58.7h3.9v3.9h-3.9zM589.7,64.3h3.9v3.9h-3.9zM591.0,70.2h3.9v3.9h-3.9zM592.3,76.1h3.9v3.9h-3.9zM593.6,81.7h3.9v3.9h-3.9zM594.9,87.3h3.9v3.9h-3.9zM596.2,93.1h3.9v3.9h-3.9zM597.5,99.2h3.9v3.9h-3.9zM598.8,105.6h3.9v3.9h-3.9zM600.1,112.7h3.9v3.9h-3.9zM601.4,120.5h3.9v3.9h-3.9zM602.7,129.0h3.9v3.9h-3.9zM604.0,137.7h3.9v3.9h-3.9zM605.3,146.4h3.9v3.9h-3.9zM606.6,154.7h3.9v3.9h-3.9zM607.9,162.3h3.9v3.9h-3.9zM609.2,169.6h3.9v3.9h-3.9zM610.5,176.5h3.9v3.9h-3.9zM611.9,183.4h3.9v3.9h-3.9zM613.2,190.4h3.9v3.9h-3.9zM614.5,197.5h3.9v3.9h-3.9zM615.8,204.7h3.9v3.9h-3.9zM617.1,212.0h3.9v3.9h-3.9zM618.4,219.3h3.9v3.9h-3.9zM619.7,226.6h3.9v3.9h-3.9zM621.0,233.8h3.9v3.9h-3.9zM622.3,241.0h3.9v3.9h-3.9zM623.6,248.0h3.9v3.9h-3.9zM624.9,254.9h3.9v3.9h-3.9zM626.2,261.7h3.9v3.9h-3.9zM627.5,268.4h3.9v3.9h-3.9zM628.8,275.0h3.9v3.9h-3.9zM630.1,281.5h3.9v3.9h-3.9zM631.4,288.0h3.9v3.9h-3.9zM632.7,294.5h3.9v3.9h-3.9zM634.0,300.9h3.9v3.9h-3.9zM635.3,307.3h3.9v3.9h-3.9zM636.6,313.7h3.9v3.9h-3.9zM637.9,320.1h3.9v3.9h-3.9zM639.2,326.5h3.9v3.9h-3.9zM640.5,332.9h3.9v3.9h-3.9zM641.8,339.3h3.9v3.9h-3.9zM643.1,345.6h3.9v3.9h-3.9zM644.4,351.9h3.9v3.9h-3.9zM645.7,358.2h3.9v3.9h-3.9zM647.0,364.4h3.9v3.9h-3.9zM648.4,370.6h3.9v3.9h-3.9zM649.7,376.7h3.9v3.9h-3.9zM651.0,382.7h3.9v3.9h-3.9zM652.3,388.7h3.9v3.9h-3.9zM653.6,394.5h3.9v3.9h-3.9zM654.9,400.3h3.9v3.9h-3.9zM656.2,405.9h3.9v3.9h-3.9zM657.5,411.3h3.9v3.9h-3.9zM658.8,416.7h3.9v3.9h-3.9zM660.1,422.0h3.9v3.9h-3.9zM661.4,427.3h3.9v3.9h-3.9zM662.7,432.5h3.9v3.9h-3.9zM664.0,437.8h3.9v3.9h-3.9zM665.3,443.2h3.9v3.9h-3.9zM666.6,448.6h3.9v3.9h-3.9zM667.9,454.2h3.9v3.9h-3.9zM669.2,460.0h3.9v3.9h-3.9zM670.5,466.0h3.9v3.9h-3.9zM671.8,472.1h3.9v3.9h-3.9zM673.1,478.3h3.9v3.9h-3.9zM674.4,484.5h3.9v3.9h-3.9zM675.7,490.6h3.9v3.9h-3.9zM677.0,496.6h3.9v3.9h-3.9zM678.3,502.3h3.9v3.9h-3.9zM679.6,507.8h3.9v3.9h-3.9zM680.9,513.1h3.9v3.9h-3.9zM682.2,518.2h3.9v3.9h-3.9zM683.6,523.2h3.9v3.9h-3.9zM684.9,528.1h3.9v3.9h-3.9zM686.2,532.8h3.9v3.9h-3.9zM687.5,537.4h3.9v3.9h-3.9zM688.8,535.7h3.9v3.9h-3.9zM690.1,528.9h3.9v3.9h-3.9zM691.4,522.0h3.9v3.9h-3.9zM692.7,515.2h3.9v3.9h-3.9zM694.0,508.4h3.9v3.9h-3.9zM695.3,501.5h3.9v3.9h-3.9zM696.6,494.7h3.9v3.9h-3.9zM697.9,487.8h3.9v3.9h-3.9zM699.2,481.0h3.9v3.9h-3.9zM700.5,474.2h3.9v3.9h-3.9zM701.8,467.7h3.9v3.9h-3.9zM703.1,461.4h3.9v3.9h-3.9zM704.4,455.2h3.9v3.9h-3.9zM705.7,449.1h3.9v3.9h-3.9zM707.0,442.9h3.9v3.9h-3.9zM708.3,436.6h3.9v3.9h-3.9zM709.6,430.0h3.9v3.9h-3.9zM710.9,423.0h3.9v3.9h-3.9zM712.2,415.6h3.9v3.9h-3.9zM713.5,407.6h3.9v3.9h-3.9zM714.8,399.0h3.9v3.9h-3.9zM716.1,389.3h3.9v3.9h-3.9zM717.4,378.1h3.9v3.9h-3.9zM718.7,365.7h3.9v3.9h-3.9zM720.1,352.6h3.9v3.9h-3.9zM721.4,339.0h3.9v3.9h-3.9zM722.7,325.4h3.9v3.9h-3.9zM724.0,312.1h3.9v3.9h-3.9zM725.3,299.3h3.9v3.9h-3.9zM726.6,286.2h3.9v3.9h-3.9zM727.9,272.3h3.9v3.9h-3.9zM729.2,256.9h3.9v3.9h-3.9zM730.5,238.0h3.9v3.9h-3.9zM731.8,216.1h3.9v3.9h-3.9zM733.1,195.7h3.9v3.9h-3.9zM734.4,176.0h3.9v3.9h-3.9zM735.7,161.3h3.9v3.9h-3.9zM737.0,149.7h3.9v3.9h-3.9zM738.3,140.0h3.9v3.9h-3.9zM739.6,134.6h3.9v3.9h-3.9zM740.9,135.4h3.9v3.9h-3.9zM742.2,141.6h3.9v3.9h-3.9zM743.5,151.7h3.9v3.9h-3.9zM744.8,164.5h3.9v3.9h-3.9zM746.1,190.3h3.9v3.9h-3.9zM747.4,222.5h3.9v3.9h-3.9zM748.7,256.0h3.9v3.9h-3.9zM750.0,280.7h3.9v3.9h-3.9zM751.3,304.7h3.9v3.9h-3.9zM752.6,330.4h3.9v3.9h-3.9zM753.9,356.0h3.9v3.9h-3.9zM755.2,379.1h3.9v3.9h-3.9zM756.6,397.6h3.9v3.9h-3.9zM757.9,411.3h3.9v3.9h-3.9zM759.2,422.4h3.9v3.9h-3.9zM760.5,432.4h3.9v3.9h-3.9zM761.8,442.8h3.9v3.9h-3.9zM763.1,455.0h3.9v3.9h-3.9zM764.4,471.2h3.9v3.9h-3.9zM765.7,488.0h3.9v3.9h-3.9zM767.0,499.7h3.9v3.9h-3.9zM768.3,508.2h3.9v3.9h-3.9zM769.6,515.5h3.9v3.9h-3.9zM770.9,522.1h3.9v3.9h-3.9zM772.2,527.8h3.9v3.9h-3.9zM773.5,523.3h3.9v3.9h-3.9zM774.8,518.2h3.9v3.9h-3.9zM776.1,513.0h3.9v3.9h-3.9zM777.4,507.6h3.9v3.9h-3.9zM778.7,502.2h3.9v3.9h-3.9zM780.0,496.8h3.9v3.9h-3.9zM781.3,491.2h3.9v3.9h-3.9zM782.6,485.7h3.9v3.9h-3.9zM783.9,480.2h3.9v3.9h-3.9zM785.2,474.7h3.9v3.9h-3.9zM786.5,469.2h3.9v3.9h-3.9zM787.8,463.8h3.9v3.9h-3.9zM789.1,458.4h3.9v3.9h-3.9zM790.4,453.1h3.9v3.9h-3.9zM791.7,447.9h3.9v3.9h-3.9zM793.1,442.8h3.9v3.9h-3.9zM794.4,437.7h3.9v3.9h-3.9zM795.7,432.8h3.9v3.9h-3.9zM797.0,428.0h3.9v3.9h-3.9zM798.3,423.4h3.9v3.9h-3.9zM799.6,418.8h3.9v3.9h-3.9zM800.9,414.4h3.9v3.9h-3.9zM802.2,410.1h3.9v3.9h-3.9zM803.5,405.9h3.9v3.9h-3.9zM804.8,401.8h3.9v3.9h-3.9zM806.1,397.9h3.9v3.9h-3.9zM807.4,394.0h3.9v3.9h-3.9zM808.7,390.3h3.9v3.9h-3.9zM810.0,386.7h3.9v3.9h-3.9zM811.3,383.1h3.9v3.9h-3.9zM812.6,379.6h3.9v3.9h-3.9zM813.9,376.2h3.9v3.9h-3.9zM815.2,372.9h3.9v3.9h-3.9zM816.5,369.6h3.9v3.9h-3.9zM817.8,366.3h3.9v3.9h-3.9zM819.1,363.1h3.9v3.9h-3.9zM820.4,359.8h3.9v3.9h-3.9zM821.7,356.5h3.9v3.9h-3.9zM823.0,353.2h3.9v3.9h-3.9zM824.3,349.7h3.9v3.9h-3.9zM825.6,346.2h3.9v3.9h-3.9zM826.9,342.6h3.9v3.9h-3.9zM828.2,338.9h3.9v3.9h-3.9z" fill="#000"/>
<path d="M105.5,264.8 L106.0,265.1 L106.5,265.4 L107.0,265.7 L107.5,266.1 L108.0,266.4 L108.5,266.7 L109.0,267.0 L109.5,267.4 L110.0,267.7 L110.5,268.0 L111.0,268.4 L111.5,268.7 L112.0,269.0 L112.5,269.4 L113.0,269.7 L113.5,270.1 L114.0,270.4 L114.5,270.7 L115.0,271.1 L115.5,271.4 L116.0,271.8 L116.5,272.1 L117.0,272.5 L117.5,272.8 L118.0,273.2 L118.5,273.5 L119.0,273.9 L119.5,274.3 L120.0,274.6 L120.5,275.0 L121.0,275.3 L121.5,275.7 L122.0,276.1 L122.5,276.4 L123.0,276.8 L123.5,277.2 L124.0,277.6 L124.5,277.9 L125.0,278.3 L125.5,278.7 L126.0,279.1 L126.5,279.4 L127.1,279.8 L127.6,280.2 L128.1,280.6 L128.6,281.0 L129.1,281.3 L129.6,281.7 L130.1,282.1 L130.6,282.5 L131.1,282.9 L131.6,283.3 L132.1,283.7 L132.6,284.1 L133.1,284.5 L133.6,284.8 L134.1,285.2 L134.6,285.6 L135.1,286.0 L135.6,286.4 L136.1,286.8 L136.6,287.2 L137.1,287.7 L137.6,288.1 L138.1,288.5 L138.6,288.9 L139.1,289.3 L139.6,289.7 L140.1,290.1 L140.6,290.5 L141.1,290.9 L141.6,291.3 L142.1,291.8 L142.6,292.2 L143.1,292.6 L143.6,293.0 L144.1,293.4 L144.6,293.9 L145.1,294.3 L145.6,294.7 L146.1,295.1 L146.6,295.6 L147.1,296.0 L147.6,296.4 L148.1,296.8 L148.6,297.3 L149.1,297.7 L149.6,298.1 L150.1,298.6 L150.6,299.0 L151.1,299.5 L151.6,299.9 L152.1,300.3 L152.6,300.8 L153.1,301.2 L153.6,301.7 L154.1,302.1 L154.6,302.6 L155.1,303.0 L155.6,303.4 L156.1,303.9 L156.6,304.3 L157.1,304.8 L157.6,305.2 L158.1,305.7 L158.6,306.2 L159.1,306.6 L159.6,307.1 L160.1,307.5 L160.6,308.0 L161.1,308.5 L161.6,308.9 L162.1,309.4 L162.6,309.8 L163.1,310.3 L163.6,310.8 L164.1,311.2 L164.6,311.7 L165.1,312.2 L165.6,312.6 L166.1,313.1 L166.6,313.6 L167.1,314.1 L167.6,314.5 L168.1,315.0 L168.6,315.5 L169.1,316.0 L169.6,316.5 L170.2,316.9 L170.7,317.4 L171.2,317.9 L171.7,318.4 L172.2,318.9 L172.7,319.4 L173.2,319.9 L173.7,320.3 L174.2,320.8 L174.7,321.3 L175.2,321.8 L175.7,322.3 L176.2,322.8 L176.7,323.3 L177.2,323.8 L177.7,324.3 L178.2,324.8 L178.7,325.3 L179.2,325.8 L179.7,326.3 L180.2,326.8 L180.7,327.3 L181.2,327.8 L181.7,328.4 L182.2,328.9 L182.7,329.4 L183.2,329.9 L183.7,330.4 L184.2,330.9 L184.7,331.4 L185.2,332.0 L185.7,332.5 L186.2,333.0 L186.7,333.5 L187.2,334.0 L187.7,334.6 L188.2,335.1 L188.7,335.6 L189.2,336.1 L189.7,336.7 L190.2,337.2 L190.7,337.7 L191.2,338.3 L191.7,338.8 L192.2,339.3 L192.7,339.9 L193.2,340.4 L193.7,341.0 L194.2,341.5 L194.7,342.0 L195.2,342.6 L195.7,343.1 L196.2,343.7 L196.7,344.2 L197.2,344.8 L197.7,345.3 L198.2,345.9 L198.7,346.4 L199.2,347.0 L199.7,347.5 L200.2,348.1 L200.7,348.7 L201.2,349.2 L201.7,349.8 L202.2,350.3 L202.7,350.9 L203.2,351.5 L203.7,352.0 L204.2,352.6 L204.7,353.2 L205.2,353.8 L205.7,354.3 L206.2,354.9 L206.7,355.5 L207.2,356.1 L207.7,356.6 L208.2,357.2 L208.7,357.8 L209.2,358.4 L209.7,359.0 L210.2,359.6 L210.7,360.1 L211.2,360.7 L211.7,361.3 L212.2,361.9 L212.8,362.5 L213.3,363.1 L213.8,363.7 L214.3,364.3 L214.8,364.9 L215.3,365.5 L215.8,366.1 L216.3,366.7 L216.8,367.3 L217.3,367.9 L217.8,368.5 L218.3,369.1 L218.8,369.8 L219.3,370.4 L219.8,371.0 L220.3,371.6 L220.8,372.2 L221.3,372.9 L221.8,373.5 L222.3,374.1 L222.8,374.7 L223.3,375.4 L223.8,376.0 L224.3,376.6 L224.8,377.3 L225.3,377.9 L225.8,378.5 L226.3,379.2 L226.8,379.8 L227.3,380.5 L227.8,381.1 L228.3,381.7 L228.8,382.4 L229.3,383.0 L229.8,383.7 L230.3,384.3 L230.8,385.0 L231.3,385.7 L231.8,386.3 L232.3,387.0 L232.8,387.6 L233.3,388.3 L233.8,389.0 L234.3,389.6 L234.8,390.3 L235.3,391.0 L235.8,391.7 L236.3,392.3 L236.8,393.0 L237.3,393.7 L237.8,394.4 L238.3,395.1 L238.8,395.8 L239.3,396.4 L239.8,397.1 L240.3,397.8 L240.8,398.5 L241.3,399.2 L241.8,399.9 L242.3,400.6 L242.8,401.3 L243.3,402.0 L243.8,402.7 L244.3,403.5 L244.8,404.2 L245.3,404.9 L245.8,405.6 L246.3,406.3 L246.8,407.0 L247.3,407.8 L247.8,408.5 L248.3,409.2 L248.8,409.9 L249.3,410.7 L249.8,411.4 L250.3,412.1 L250.8,412.9 L251.3,413.6 L251.8,414.4 L252.3,415.1 L252.8,415.9 L253.3,416.6 L253.8,417.4 L254.3,418.1 L254.8,418.9 L255.4,419.6 L255.9,420.4 L256.4,421.2 L256.9,421.9 L257.4,422.7 L257.9,423.5 L258.4,424.3 L258.9,425.0 L259.4,425.8 L259.9,426.6 L260.4,427.4 L260.9,428.2 L261.4,429.0 L261.9,429.8 L262.4,430.6 L262.9,431.4 L263.4,432.2 L263.9,433.0 L264.4,433.8 L264.9,434.6 L265.4,435.4 L265.9,436.2 L266.4,437.0 L266.9,437.8 L267.4,438.7 L267.9,439.5 L268.4,440.3 L268.9,441.2 L269.4,442.0 L269.9,442.8 L270.4,443.7 L270.9,444.5 L271.4,445.4 L271.9,446.2 L272.4,447.1 L272.9,447.9 L273.4,448.8 L273.9,449.6 L274.4,450.5 L274.9,451.4 L275.4,452.2 L275.9,453.1 L276.4,454.0 L276.9,454.9 L277.4,455.7 L277.9,456.6 L278.4,457.5 L278.9,458.4 L279.4,459.3 L279.9,460.2 L280.4,461.1 L280.9,462.0 L281.4,462.9 L281.9,463.8 L282.4,464.7 L282.9,465.7 L283.4,466.6 L283.9,467.5 L284.4,468.4 L284.9,469.4 L285.4,470.3 L285.9,471.2 L286.4,472.2 L286.9,473.1 L287.4,474.1 L287.9,475.0 L288.4,476.0 L288.9,476.9 L289.4,477.9 L289.9,478.8 L290.4,479.8 L290.9,480.8 L291.4,481.8 L291.9,482.7 L292.4,483.7 L292.9,484.7 L293.4,485.7 L293.9,486.7 L294.4,487.7 L294.9,488.7 L295.4,489.7 L295.9,490.7 L296.4,491.7 L296.9,492.7 L297.4,493.8 L297.9,494.8 L298.5,495.8 L299.0,496.8 L299.5,497.9 L300.0,498.9 L300.5,500.0 L301.0,501.0 L301.5,502.1 L302.0,503.1 L302.5,504.2 L303.0,505.2 L303.5,506.3 L304.0,507.4 L304.5,508.4 L305.0,509.5 L305.5,510.6 L306.0,511.7 L306.5,512.8 L307.0,513.9 L307.5,515.0 L308.0,516.1 L308.5,517.2 L309.0,518.3 L309.5,519.4 L310.0,520.5 L310.5,521.7 L311.0,522.8 L311.5,523.9 L312.0,525.1 L312.5,526.2 L313.0,527.4 L313.5,528.5 L314.0,529.7 L314.5,530.8 L315.0,532.0 L315.5,533.2 L316.0,534.3 L316.5,535.5 L317.0,536.7 L317.5,537.9 L318.0,539.1 L318.5,540.3 L319.0,541.5 L319.5,542.7 L320.0,541.5 L320.5,540.3 L321.0,539.1 L321.5,537.9 L322.0,536.6 L322.5,535.3 L323.0,534.0 L323.5,532.7 L324.0,531.4 L324.5,530.1 L325.0,528.7 L325.5,527.3 L326.0,525.9 L326.5,524.5 L327.0,523.1 L327.5,521.7 L328.0,520.2 L328.5,518.8 L329.0,517.3 L329.5,515.8 L330.0,514.3 L330.5,512.8 L331.0,511.2 L331.5,509.7 L332.0,508.1 L332.5,506.6 L333.0,505.0 L333.6,503.4 L334.1,501.8 L334.6,500.1 L335.1,498.4 L335.6,496.7 L336.1,495.0 L336.6,493.2 L337.1,491.5 L337.6,489.7 L338.1,487.9 L338.6,486.0 L339.1,484.2 L339.6,482.3 L340.1,480.5 L340.6,478.6 L341.1,476.7 L341.6,474.8 L342.1,472.8 L342.6,470.9 L343.1,469.0 L343.6,467.0 L344.1,465.1 L344.6,463.1 L345.1,461.2 L345.6,459.2 L346.1,457.3 L346.6,455.3 L347.1,453.3 L347.6,451.4 L348.1,449.4 L348.6,447.5 L349.1,445.5 L349.6,443.6 L350.1,441.7 L350.6,439.7 L351.1,437.7 L351.6,435.8 L352.1,433.8 L352.6,431.8 L353.1,429.8 L353.6,427.7 L354.1,425.7 L354.6,423.6 L355.1,421.5 L355.6,419.4 L356.1,417.2 L356.6,415.1 L357.1,412.8 L357.6,410.6 L358.1,408.3 L358.6,406.0 L359.1,403.7 L359.6,401.3 L360.1,398.8 L360.6,396.3 L361.1,393.8 L361.6,391.2 L362.2,388.6 L362.7,385.9 L363.2,383.2 L363.7,380.4 L364.2,377.6 L364.7,374.8 L365.2,371.9 L365.7,369.0 L366.2,366.1 L366.7,363.1 L367.2,360.1 L367.7,357.1 L368.2,354.1 L368.7,351.0 L369.2,347.9 L369.7,344.8 L370.2,341.7 L370.7,338.6 L371.2,335.4 L371.7,332.3 L372.2,329.1 L372.7,325.9 L373.2,322.7 L373.7,319.5 L374.2,316.3 L374.7,313.1 L375.2,309.8 L375.7,306.6 L376.2,303.3 L376.7,299.9 L377.2,296.6 L377.7,293.2 L378.2,289.8 L378.7,286.3 L379.2,282.9 L379.7,279.4 L380.2,275.8 L380.7,272.3 L381.2,268.6 L381.7,265.0 L382.2,261.3 L382.7,257.6 L383.2,253.9 L383.7,250.1 L384.2,246.2 L384.7,242.2 L385.2,238.1 L385.7,233.9 L386.2,229.7 L386.7,225.4 L387.2,221.1 L387.7,216.8 L388.2,212.5 L388.7,208.3 L389.2,204.3 L389.8,200.3 L390.3,196.4 L390.8,192.5 L391.3,188.6 L391.8,184.8 L392.3,181.1 L392.8,177.4 L393.3,173.8 L393.8,170.4 L394.3,167.1 L394.8,163.8 L395.3,160.5 L395.8,157.3 L396.3,154.0 L396.8,150.8 L397.3,147.7 L397.8,144.7 L398.3,141.8 L398.8,139.0 L399.3,136.5 L399.8,134.1 L400.3,131.9 L400.8,129.9 L401.3,128.1 L401.8,126.3 L402.3,124.5 L402.8,122.7 L403.3,120.9 L403.8,119.2 L404.3,117.6 L404.8,116.1 L405.3,114.7 L405.8,113.5 L406.3,112.5 L406.8,111.6 L407.3,110.9 L407.8,110.5 L408.3,110.3 L408.8,110.4 L409.3,110.9 L409.8,111.7 L410.3,112.8 L410.8,114.2 L411.3,115.8 L411.8,117.7 L412.3,119.9 L412.8,122.2 L413.3,124.8 L413.8,127.5 L414.3,130.4 L414.8,133.4 L415.3,136.6 L415.8,139.8 L416.3,143.1 L416.8,146.5 L417.3,149.9 L417.9,153.3 L418.4,157.5 L418.9,162.7 L419.4,168.6 L419.9,175.0 L420.4,181.6 L420.9,188.2 L421.4,194.5 L421.9,200.4 L422.4,205.4 L422.9,209.7 L423.4,213.6 L423.9,217.2 L424.4,220.7 L424.9,224.4 L425.4,228.4 L425.9,232.9 L426.4,238.3 L426.9,245.0 L427.4,252.1 L427.9,258.7 L428.4,265.2 L428.9,271.7 L429.4,278.1 L429.9,284.5 L430.4,290.7 L430.9,296.7 L431.4,302.4 L431.9,307.9 L432.4,313.1 L432.9,318.3 L433.4,323.3 L433.9,328.1 L434.4,332.8 L434.9,337.4 L435.4,341.8 L435.9,346.0 L436.4,350.1 L436.9,354.0 L437.4,357.7 L437.9,361.3 L438.4,364.7 L438.9,368.1 L439.4,371.3 L439.9,374.6 L440.4,377.8 L440.9,381.1 L441.4,384.4 L441.9,387.8 L442.4,391.4 L442.9,395.0 L443.4,398.8 L443.9,402.8 L444.4,406.7 L444.9,410.8 L445.4,414.9 L445.9,419.1 L446.5,423.3 L447.0,427.6 L447.5,431.9 L448.0,436.1 L448.5,440.4 L449.0,444.7 L449.5,448.9 L450.0,453.1 L450.5,457.3 L451.0,461.4 L451.5,465.5 L452.0,469.4 L452.5,473.3 L453.0,477.1 L453.5,480.8 L454.0,484.5 L454.5,488.2 L455.0,491.8 L455.5,495.4 L456.0,499.0 L456.5,502.5 L457.0,506.0 L457.5,509.4 L458.0,512.8 L458.5,516.2 L459.0,519.6 L459.5,522.9 L460.0,526.2 L460.5,523.4 L461.0,520.6 L461.5,517.8 L462.0,515.0 L462.5,512.1 L463.0,509.2 L463.5,506.3 L464.0,503.4 L464.5,500.4 L465.0,497.4 L465.5,494.4 L466.0,491.4 L466.5,488.4 L467.0,485.3 L467.5,482.2 L468.0,479.1 L468.5,476.0 L469.0,472.8 L469.5,469.6 L470.0,466.4 L470.5,463.2 L471.0,460.0 L471.6,456.8 L472.1,453.5 L472.6,450.2 L473.1,446.9 L473.6,443.6 L474.1,440.2 L474.6,436.8 L475.1,433.4 L475.6,429.9 L476.1,426.5 L476.6,422.9 L477.1,419.4 L477.6,415.8 L478.1,412.2 L478.6,408.5 L479.1,404.8 L479.6,401.1 L480.1,397.3 L480.6,393.5 L481.1,389.6 L481.6,385.6 L482.1,381.5 L482.6,377.4 L483.1,373.3 L483.6,369.1 L484.1,364.9 L484.6,360.7 L485.1,356.4 L485.6,352.1 L486.1,347.8 L486.6,343.4 L487.1,339.1 L487.6,334.8 L488.1,330.4 L488.6,326.1 L489.1,321.8 L489.6,317.5 L490.1,313.3 L490.6,309.0 L491.1,304.8 L491.6,300.6 L492.1,296.5 L492.6,292.3 L493.1,288.1 L493.6,283.9 L494.1,279.8 L494.7,275.6 L495.2,271.4 L495.7,267.2 L496.2,263.0 L496.7,258.8 L497.2,254.6 L497.7,250.3 L498.2,246.0 L498.7,241.8 L499.2,237.5 L499.7,233.3 L500.2,229.0 L500.7,224.7 L501.2,220.4 L501.7,216.1 L502.2,211.7 L502.7,207.3 L503.2,202.8 L503.7,198.3 L504.2,193.6 L504.7,188.8 L505.2,183.9 L505.7,179.1 L506.2,174.3 L506.7,169.8 L507.2,165.4 L507.7,161.0 L508.2,156.7 L508.7,152.5 L509.2,148.3 L509.7,144.3 L510.2,140.3 L510.7,136.4 L511.2,132.7 L511.7,129.1 L512.2,125.5 L512.7,122.0 L513.2,118.6 L513.7,115.3 L514.2,112.0 L514.7,108.8 L515.2,105.6 L515.7,102.5 L516.2,99.5 L516.7,96.5 L517.2,93.5 L517.8,90.6 L518.3,87.6 L518.8,84.6 L519.3,81.6 L519.8,78.6 L520.3,75.8 L520.8,73.0 L521.3,70.3 L521.8,67.7 L522.3,65.3 L522.8,63.0 L523.3,60.9 L523.8,59.0 L524.3,57.3 L524.8,55.6 L525.3,53.8 L525.8,52.1 L526.3,50.3 L526.8,48.6 L527.3,47.0 L527.8,45.4 L528.3,43.9 L528.8,42.4 L529.3,41.1 L529.8,39.8 L530.3,38.6 L530.8,37.6 L531.3,36.7 L531.8,36.0 L532.3,35.4 L532.8,35.0 L533.3,34.8 L533.8,34.8 L534.3,35.0 L534.8,35.3 L535.3,35.7 L535.8,36.3 L536.3,37.1 L536.8,37.9 L537.3,38.8 L537.8,39.9 L538.3,41.0 L538.8,42.2 L539.3,43.4 L539.8,44.7 L540.3,46.1 L540.9,47.5 L541.4,48.9 L541.9,50.3 L542.4,51.7 L542.9,53.1 L543.4,54.5 L543.9,55.9 L544.4,57.6 L544.9,59.4 L545.4,61.2 L545.9,63.2 L546.4,65.3 L546.9,67.4 L547.4,69.6 L547.9,71.8 L548.4,74.1 L548.9,76.4 L549.4,78.7 L549.9,80.9 L550.4,83.2 L550.9,85.5 L551.4,87.9 L551.9,90.4 L552.4,92.9 L552.9,95.5 L553.4,98.1 L553.9,100.7 L554.4,103.3 L554.9,105.9 L555.4,108.5 L555.9,111.1 L556.4,113.6 L556.9,116.1 L557.4,118.5 L557.9,120.9 L558.4,123.3 L558.9,125.6 L559.4,128.1 L559.9,130.6 L560.4,133.3 L560.9,136.1 L561.4,139.0 L561.9,142.1 L562.4,145.2 L562.9,148.5 L563.5,151.8 L564.0,155.1 L564.5,158.4 L565.0,161.7 L565.5,164.9 L566.0,168.0 L566.5,171.1 L567.0,174.3 L567.5,177.4 L568.0,180.6 L568.5,183.7 L569.0,186.9 L569.5,190.1 L570.0,193.3 L570.5,196.5 L571.0,199.6 L571.5,202.8 L572.0,205.9 L572.5,209.0 L573.0,212.1 L573.5,215.1 L574.0,218.1 L574.5,221.1 L575.0,224.0 L575.5,226.8 L576.0,229.6 L576.5,232.3 L577.0,235.0 L577.5,237.6 L578.0,240.1 L578.5,242.5 L579.0,244.8 L579.5,247.0 L580.0,249.1 L580.5,251.1 L581.0,253.0 L581.5,254.9 L582.0,256.8 L582.5,258.7 L583.0,260.6 L583.5,262.4 L584.0,264.4 L584.5,266.3 L585.0,268.4 L585.5,270.5 L586.0,272.7 L586.6,275.0 L587.1,277.4 L587.6,279.9 L588.1,282.5 L588.6,285.1 L589.1,287.7 L589.6,290.4 L590.1,293.0 L590.6,295.7 L591.1,298.4 L591.6,301.1 L592.1,303.7 L592.6,306.3 L593.1,308.9 L593.6,311.4 L594.1,314.0 L594.6,316.5 L595.1,319.0 L595.6,321.5 L596.1,324.0 L596.6,326.5 L597.1,329.0 L597.6,331.5 L598.1,334.0 L598.6,336.5 L599.1,339.0 L599.6,341.5 L600.1,344.0 L600.6,346.6 L601.1,349.1 L601.6,351.6 L602.1,354.2 L602.6,356.7 L603.1,359.2 L603.6,361.8 L604.1,364.3 L604.6,366.9 L605.1,369.4 L605.6,372.0 L606.1,374.5 L606.6,377.1 L607.1,379.7 L607.6,382.2 L608.1,384.8 L608.6,387.5 L609.1,390.1 L609.7,392.8 L610.2,395.3 L610.7,397.8 L611.2,400.2 L611.7,402.6 L612.2,404.9 L612.7,407.2 L613.2,409.5 L613.7,411.7 L614.2,413.9 L614.7,416.1 L615.2,418.3 L615.7,420.4 L616.2,422.5 L616.7,424.6 L617.2,426.7 L617.7,428.8 L618.2,430.9 L618.7,432.9 L619.2,435.0 L619.7,437.0 L620.2,439.0 L620.7,441.1 L621.2,443.1 L621.7,445.1 L622.2,447.1 L622.7,449.1 L623.2,451.1 L623.7,453.1 L624.2,455.2 L624.7,457.2 L625.2,459.2 L625.7,461.3 L626.2,463.4 L626.7,465.4 L627.2,467.5 L627.7,469.6 L628.2,471.7 L628.7,473.9 L629.2,476.0 L629.7,478.2 L630.2,480.3 L630.7,482.5 L631.2,484.7 L631.7,486.9 L632.2,489.0 L632.8,491.2 L633.3,493.4 L633.8,495.6 L634.3,497.8 L634.8,500.0 L635.3,502.2 L635.8,504.4 L636.3,506.6 L636.8,508.8 L637.3,511.0 L637.8,513.2 L638.3,515.4 L638.8,517.6 L639.3,519.9 L639.8,522.1 L640.3,524.3 L640.8,526.5 L641.3,528.8 L641.8,531.0 L642.3,533.3 L642.8,535.5 L643.3,537.8 L643.8,540.0 L644.3,538.0 L644.8,535.9 L645.3,533.9 L645.8,531.9 L646.3,529.8 L646.8,527.8 L647.3,525.8 L647.8,523.7 L648.3,521.7 L648.8,519.7 L649.3,517.7 L649.9,515.6 L650.4,513.6 L650.9,511.6 L651.4,509.6 L651.9,507.5 L652.4,505.5 L652.9,503.5 L653.4,501.6 L653.9,499.7 L654.4,497.8 L654.9,496.0 L655.4,494.2 L655.9,492.4 L656.4,490.5 L656.9,488.6 L657.4,486.6 L657.9,484.6 L658.4,482.5 L658.9,480.2 L659.4,477.8 L659.9,475.3 L660.4,472.6 L660.9,469.6 L661.5,466.3 L662.0,462.8 L662.5,459.2 L663.0,455.5 L663.5,451.7 L664.0,447.8 L664.5,443.9 L665.0,440.1 L665.5,436.3 L666.0,432.3 L666.5,428.3 L667.0,424.2 L667.5,420.1 L668.0,416.0 L668.5,411.9 L669.0,407.9 L669.5,403.9 L670.0,400.0 L670.5,396.1 L671.0,392.2 L671.5,388.1 L672.0,383.9 L672.5,379.6 L673.1,375.0 L673.6,370.4 L674.1,365.5 L674.6,360.6 L675.1,355.6 L675.6,350.5 L676.1,345.3 L676.6,340.1 L677.1,334.9 L677.6,329.7 L678.1,324.6 L678.6,319.4 L679.1,314.1 L679.6,308.4 L680.1,302.2 L680.6,295.3 L681.1,287.8 L681.6,279.9 L682.1,271.8 L682.6,263.6 L683.1,255.5 L683.6,247.6 L684.1,239.4 L684.7,231.1 L685.2,223.2 L685.7,215.8 L686.2,208.8 L686.7,201.9 L687.2,195.3 L687.7,189.2 L688.2,183.5 L688.7,178.3 L689.2,173.0 L689.7,167.6 L690.2,162.3 L690.7,157.2 L691.2,152.7 L691.7,148.8 L692.2,146.0 L692.7,144.2 L693.2,143.8 L693.7,144.9 L694.2,147.2 L694.7,150.6 L695.2,154.9 L695.7,160.0 L696.3,165.7 L696.8,171.9 L697.3,178.4 L697.8,186.4 L698.3,198.2 L698.8,211.5 L699.3,224.0 L699.8,233.9 L700.3,242.7 L700.8,252.4 L701.3,264.3 L701.8,277.2 L702.3,290.7 L702.8,303.0 L703.3,312.0 L703.8,319.7 L704.3,327.4 L704.8,334.9 L705.3,342.3 L705.8,349.8 L706.3,357.2 L706.8,364.5 L707.3,372.1 L707.9,379.9 L708.4,388.2 L708.9,398.1 L709.4,408.1 L709.9,416.5 L710.4,422.4 L710.9,427.2 L711.4,431.4 L711.9,435.2 L712.4,438.5 L712.9,441.8 L713.4,445.2 L713.9,448.8 L714.4,452.8 L714.9,457.4 L715.4,463.2 L715.9,470.1 L716.4,476.9 L716.9,482.4 L717.4,487.2 L717.9,491.6 L718.4,495.7 L718.9,499.7 L719.5,503.7 L720.0,507.9 L720.5,512.1 L721.0,516.1 L721.5,519.7 L722.0,522.7 L722.5,524.9 L723.0,526.6 L723.5,528.2 L724.0,529.5 L724.5,530.4 L725.0,530.8 L725.5,528.9 L726.0,527.0 L726.5,525.1 L727.0,523.2 L727.5,521.3 L728.0,519.4 L728.5,517.5 L729.0,515.6 L729.5,513.7 L730.0,511.7 L730.5,509.8 L731.0,507.9 L731.5,506.0 L732.0,504.1 L732.5,502.2 L733.0,500.3 L733.5,498.4 L734.0,496.5 L734.5,494.6 L735.0,492.7 L735.5,490.8 L736.1,489.0 L736.6,487.1 L737.1,485.2 L737.6,483.3 L738.1,481.4 L738.6,479.6 L739.1,477.7 L739.6,475.8 L740.1,474.0 L740.6,472.1 L741.1,470.3 L741.6,468.4 L742.1,466.6 L742.6,464.7 L743.1,462.9 L743.6,461.1 L744.1,459.3 L744.6,457.4 L745.1,455.6 L745.6,453.8 L746.1,452.0 L746.6,450.2 L747.1,448.5 L747.6,446.7 L748.1,444.9 L748.6,443.1 L749.1,441.4 L749.6,439.6 L750.1,437.9 L750.6,436.1 L751.1,434.4 L751.6,432.7 L752.1,431.0 L752.6,429.2 L753.1,427.5 L753.6,425.8 L754.1,424.2 L754.6,422.5 L755.1,420.8 L755.6,419.1 L756.1,417.5 L756.6,415.8 L757.2,414.2 L757.7,412.6 L758.2,410.9 L758.7,409.3 L759.2,407.7 L759.7,406.1 L760.2,404.5 L760.7,402.9 L761.2,401.3 L761.7,399.8 L762.2,398.2 L762.7,396.7 L763.2,395.1 L763.7,393.6 L764.2,392.1 L764.7,390.6 L765.2,389.1 L765.7,387.6 L766.2,386.1 L766.7,384.6 L767.2,383.1 L767.7,381.7 L768.2,380.2 L768.7,378.8 L769.2,377.3 L769.7,375.9 L770.2,374.5 L770.7,373.1 L771.2,371.7 L771.7,370.3 L772.2,368.9 L772.7,367.5 L773.2,366.2 L773.7,364.8 L774.2,363.5 L774.7,362.1 L775.2,360.8 L775.7,359.5 L776.2,358.2 L776.7,356.8 L777.2,355.6 L777.8,354.3 L778.3,353.0 L778.8,351.7 L779.3,350.5 L779.8,349.2 L780.3,348.0 L780.8,346.7 L781.3,345.5 L781.8,344.3 L782.3,343.0 L782.8,341.8 L783.3,340.6 L783.8,339.5 L784.3,338.3 L784.8,337.1 L785.3,335.9 L785.8,334.8 L786.3,333.6 L786.8,332.5 L787.3,331.3 L787.8,330.2 L788.3,329.1 L788.8,327.9 L789.3,326.8 L789.8,325.7 L790.3,324.6 L790.8,323.5 L791.3,322.4 L791.8,321.4 L792.3,320.3 L792.8,319.2 L793.3,318.1 L793.8,317.1 L794.3,316.0 L794.8,315.0 L795.3,313.9 L795.8,312.9 L796.3,311.9 L796.8,310.8 L797.3,309.8 L797.8,308.8 L798.3,307.8 L798.9,306.8 L799.4,305.7 L799.9,304.7 L800.4,303.7 L800.9,302.7 L801.4,301.7 L801.9,300.7 L802.4,299.8 L802.9,298.8 L803.4,297.8 L803.9,296.8 L804.4,295.8 L804.9,294.8 L805.4,293.8 L805.9,292.9 L806.4,291.9 L806.9,290.9 L807.4,289.9 L807.9,289.0 L808.4,288.0 L808.9,287.0 L809.4,286.0 L809.9,285.1 L810.4,284.1 L810.9,283.1 L811.4,282.1 L811.9,281.1 L812.4,280.2 L812.9,279.2 L813.4,278.2 L813.9,277.2 L814.4,276.2 L814.9,275.2 L815.4,274.2 L815.9,273.2 L816.4,272.2 L816.9,271.2 L817.4,270.2 L817.9,269.2 L818.4,268.2 L818.9,267.1 L819.4,266.1 L820.0,265.1 L820.5,264.0 L821.0,263.0 L821.5,261.9 L822.0,260.8 L822.5,259.8 L823.0,258.7 L823.5,257.6 L824.0,256.5 L824.5,255.4 L825.0,254.3 L825.5,253.2 L826.0,252.0 L826.5,250.9 L827.0,249.8 L827.5,248.6 L828.0,247.4 L828.5,246.2 L829.0,245.0 L829.5,243.8 L830.0,242.6 L830.2,241.4" fill="none" stroke="#f00" stroke-width="2"/>
<path d="M104.3,265.5a2.4,2.4 0 1,0 4.8,0a2.4,2.4 0 1,0 -4.8,0zM105.6,266.4a2.4,2.4 0 1,0 4.8,0a2.4,2.4 0 1,0 -4.8,0zM106.9,267.2a2.4,2.4 0 1,0 4.8,0a2.4,2.4 0 1,0 -4.8,0zM108.2,268.1a2.4,2.4 0 1,0 4.8,0a2.4,2.4 0 1,0 -4.8,0zM109.5,269.0a2.4,2.4 0 1,0 4.8,0a2.4,2.4 0 1,0 -4.8,0zM110.8,269.9a2.4,2.4 0 1,0 4.8,0a2.4,2.4 0 1,0 -4.8,0zM112.1,270.7a2.4,2.4 0 1,0 4.8,0a2.4,2.4 0 1,0 -4.8,0zM113.4,271.6a2.4,2.4 0 1,0 4.8,0a2.4,2.4 0 1,0 -4.8,0zM114.7,272.6a2.4,2.4 0 1,0 4.8,0a2.4,2.4 0 1,0 -4.8,0zM116.0,273.5a2.4,2.4 0 1,0 4.8,0a2.4,2.4 0 1,0 -4.8,0zM117.3,274.4a2.4,2.4 0 1,0 4.8,0a2.4,2.4 0 1,0 -4.8,0zM118.6,275.4a2.4,2.4 0 1,0 4.8,0a2.4,2.4 0 1,0 -4.8,0zM119.9,276.3a2.4,2.4 0 1,0 4.8,0a2.4,2.4 0 1,0 -4.8,0zM121.3,277.3a2.4,2.4 0 1,0 4.8,0a2.4,2.4 0 1,0 -4.8,0zM122.6,278.2a2.4,2.4 0 1,0 4.8,0a2.4,2.4 0 1,0 -4.8,0zM123.9,279.2a2.4,2.4 0 1,0 4.8,0a2.4,2.4 0 1,0 -4.8,0zM125.2,280.2a2.4,2.4 0 1,0 4.8,0a2.4,2.4 0 1,0 -4.8,0zM126.5,281.2a2.4,2.4 0 1,0 4.8,0a2.4,2.4 0 1,0 -4.8,0zM127.8,282.2a2.4,2.4 0 1,0 4.8,0a2.4,2.4 0 1,0 -4.8,0zM129.1,283.2a2.4,2.4 0 1,0 4.8,0a2.4,2.4 0 1,0 -4.8,0zM130.4,284.2a2.4,2.4 0 1,0 4.8,0a2.4,2.4 0 1,0 -4.8,0zM131.7,285.3a2.4,2.4 0 1,0 4.8,0a2.4,2.4 0 1,0 -4.8,0zM133.0,286.3a2.4,2.4 0 1,0 4.8,0a2.4,2.4 0 1,0 -4.8,0zM134.3,287.3a2.4,2.4 0 1,0 4.8,0a2.4,2.4 0 1,0 -4.8,0zM135.6,288.4a2.4,2.4 0 1,0 4.8,0a2.4,2.4 0 1,0 -4.8,0zM136.9,289.5a2.4,2.4 0 1,0 4.8,0a2.4,2.4 0 1,0 -4.8,0zM138.2,290.5a2.4,2.4 0 1,0 4.8,0a2.4,2.4 0 1,0 -4.8,0zM139.5,291.6a2.4,2.4 0 1,0 4.8,0a2.4,2.4 0 1,0 -4.8,0zM140.8,292.7a2.4,2.4 0 1,0 4.8,0a2.4,2.4 0 1,0 -4.8,0zM142.1,293.8a2.4,2.4 0 1,0 4.8,0a2.4,2.4 0 1,0 -4.8,0zM143.4,294.9a2.4,2.4 0 1,0 4.8,0a2.4,2.4 0 1,0 -4.8,0zM144.7,296.0a2.4,2.4 0 1,0 4.8,0a2.4,2.4 0 1,0 -4.8,0zM146.0,297.1a2.4,2.4 0 1,0 4.8,0a2.4,2.4 0 1,0 -4.8,0zM147.3,298.2a2.4,2.4 0 1,0 4.8,0a2.4,2.4 0 1,0 -4.8,0zM148.6,299.4a2.4,2.4 0 1,0 4.8,0a2.4,2.4 0 1,0 -4.8,0zM149.9,300.5a2.4,2.4 0 1,0 4.8,0a2.4,2.4 0 1,0 -4.8,0zM151.2,301.7a2.4,2.4 0 1,0 4.8,0a2.4,2.4 0 1,0 -4.8,0zM152.5,302.8a2.4,2.4 0 1,0 4.8,0a2.4,2.4 0 1,0 -4.8,0zM153.8,304.0a2.4,2.4 0 1,0 4.8,0a2.4,2.4 0 1,0 -4.8,0zM155.1,305.2a2.4,2.4 0 1,0 4.8,0a2.4,2.4 0 1,0 -4.8,0zM156.4,306.4a2.4,2.4 0 1,0 4.8,0a2.4,2.4 0 1,0 -4.8,0zM157.8,307.6a2.4,2.4 0 1,0 4.8,0a2.4,2.4 0 1,0 -4.8,0zM159.1,308.7a2.4,2.4 0 1,0 4.8,0a2.4,2.4 0 1,0 -4.8,0zM160.4,310.0a2.4,2.4 0 1,0 4.8,0a2.4,2.4 0 1,0 -4.8,0zM161.7,311.2a2.4,2.4 0 1,0 4.8,0a2.4,2.4 0 1,0 -4.8,0zM163.0,312.4a2.4,2.4 0 1,0 4.8,0a2.4,2.4 0 1,0 -4.8,0zM164.3,313.6a2.4,2.4 0 1,0 4.8,0a2.4,2.4 0 1,0 -4.8,0zM165.6,314.9a2.4,2.4 0 1,0 4.8,0a2.4,2.4 0 1,0 -4.8,0zM166.9,316.1a2.4,2.4 0 1,0 4.8,0a2.4,2.4 0 1,0 -4.8,0zM168.2,317.4a2.4,2.4 0 1,0 4.8,0a2.4,2.4 0 1,0 -4.8,0zM169.5,318.6a2.4,2.4 0 1,0 4.8,0a2.4,2.4 0 1,0 -4.8,0zM170.8,319.9a2.4,2.4 0 1,0 4.8,0a2.4,2.4 0 1,0 -4.8,0zM172.1,321.2a2.4,2.4 0 1,0 4.8,0a2.4,2.4 0 1,0 -4.8,0zM173.4,322.5a2.4,2.4 0 1,0 4.8,0a2.4,2.4 0 1,0 -4.8,0zM174.7,323.7a2.4,2.4 0 1,0 4.8,0a2.4,2.4 0 1,0 -4.8,0zM176.0,325.0a2.4,2.4 0 1,0 4.8,0a2.4,2.4 0 1,0 -4.8,0zM177.3,326.4a2.4,2.4 0 1,0 4.8,0a2.4,2.4 0 1,0 -4.8,0zM178.6,327.7a2.4,2.4 0 1,0 4.8,0a2.4,2.4 0 1,0 -4.8,0zM179.9,329.0a2.4,2.4 0 1,0 4.8,0a2.4,2.4 0 1,0 -4.8,0zM181.2,330.3a2.4,2.4 0 1,0 4.8,0a2.4,2.4 0 1,0 -4.8,0zM182.5,331.7a2.4,2.4 0 1,0 4.8,0a2.4,2.4 0 1,0 -4.8,0zM183.8,333.0a2.4,2.4 0 1,0 4.8,0a2.4,2.4 0 1,0 -4.8,0zM185.1,334.4a2.4,2.4 0 1,0 4.8,0a2.4,2.4 0 1,0 -4.8,0zM186.4,335.8a2.4,2.4 0 1,0 4.8,0a2.4,2.4 0 1,0 -4.8,0zM187.7,337.1a2.4,2.4 0 1,0 4.8,0a2.4,2.4 0 1,0 -4.8,0zM189.0,338.5a2.4,2.4 0 1,0 4.8,0a2.4,2.4 0 1,0 -4.8,0zM190.3,339.9a2.4,2.4 0 1,0 4.8,0a2.4,2.4 0 1,0 -4.8,0zM191.6,341.3a2.4,2.4 0 1,0 4.8,0a2.4,2.4 0 1,0 -4.8,0zM192.9,342.7a2.4,2.4 0 1,0 4.8,0a2.4,2.4 0 1,0 -4.8,0zM194.3,344.2a2.4,2.4 0 1,0 4.8,0a2.4,2.4 0 1,0 -4.8,0zM195.6,345.6a2.4,2.4 0 1,0 4.8,0a2.4,2.4 0 1,0 -4.8,0zM196.9,347.0a2.4,2.4 0 1,0 4.8,0a2.4,2.4 0 1,0 -4.8,0zM198.2,348.5a2.4,2.4 0 1,0 4.8,0a2.4,2.4 0 1,0 -4.8,0zM199.5,349.9a2.4,2.4 0 1,0 4.8,0a2.4,2.4 0 1,0 -4.8,0zM200.8,351.4a2.4,2.4 0 1,0 4.8,0a2.4,2.4 0 1,0 -4.8,0zM202.1,352.9a2.4,2.4 0 1,0 4.8,0a2.4,2.4 0 1,0 -4.8,0zM203.4,354.4a2.4,2.4 0 1,0 4.8,0a2.4,2.4 0 1,0 -4.8,0zM204.7,355.9a2.4,2.4 0 1,0 4.8,0a2.4,2.4 0 1,0 -4.8,0zM206.0,357.4a2.4,2.4 0 1,0 4.8,0a2.4,2.4 0 1,0 -4.8,0zM207.3,358.9a2.4,2.4 0 1,0 4.8,0a2.4,2.4 0 1,0 -4.8,0zM208.6,360.4a2.4,2.4 0 1,0 4.8,0a2.4,2.4 0 1,0 -4.8,0zM209.9,362.0a2.4,2.4 0 1,0 4.8,0a2.4,2.4 0 1,0 -4.8,0zM211.2,363.5a2.4,2.4 0 1,0 4.8,0a2.4,2.4 0 1,0 -4.8,0zM212.5,365.1a2.4,2.4 0 1,0 4.8,0a2.4,2.4 0 1,0 -4.8,0zM213.8,366.6a2.4,2.4 0 1,0 4.8,0a2.4,2.4 0 1,0 -4.8,0zM215.1,368.2a2.4,2.4 0 1,0 4.8,0a2.4,2.4 0 1,0 -4.8,0zM216.4,369.8a2.4,2.4 0 1,0 4.8,0a2.4,2.4 0 1,0 -4.8,0zM217.7,371.4a2.4,2.4 0 1,0 4.8,0a2.4,2.4 0 1,0 -4.8,0zM219.0,373.0a2.4,2.4 0 1,0 4.8,0a2.4,2.4 0 1,0 -4.8,0zM220.3,374.7a2.4,2.4 0 1,0 4.8,0a2.4,2.4 0 1,0 -4.8,0zM221.6,376.3a2.4,2.4 0 1,0 4.8,0a2.4,2.4 0 1,0 -4.8,0zM222.9,378.0a2.4,2.4 0 1,0 4.8,0a2.4,2.4 0 1,0 -4.8,0zM224.2,379.6a2.4,2.4 0 1,0 4.8,0a2.4,2.4 0 1,0 -4.8,0zM225.5,381.3a2.4,2.4 0 1,0 4.8,0a2.4,2.4 0 1,0 -4.8,0zM226.8,383.0a2.4,2.4 0 1,0 4.8,0a2.4,2.4 0 1,0 -4.8,0zM228.1,384.7a2.4,2.4 0 1,0 4.8,0a2.4,2.4 0 1,0 -4.8,0zM229.4,386.4a2.4,2.4 0 1,0 4.8,0a2.4,2.4 0 1,0 -4.8,0zM230.8,388.1a2.4,2.4 0 1,0 4.8,0a2.4,2.4 0 1,0 -4.8,0zM232.1,389.9a2.4,2.4 0 1,0 4.8,0a2.4,2.4 0 1,0 -4.8,0zM233.4,391.6a2.4,2.4 0 1,0 4.8,0a2.4,2.4 0 1,0 -4.8,0zM234.7,393.4a2.4,2.4 0 1,0 4.8,0a2.4,2.4 0 1,0 -4.8,0zM236.0,395.1a2.4,2.4 0 1,0 4.8,0a2.4,2.4 0 1,0 -4.8,0zM237.3,396.9a2.4,2.4 0 1,0 4.8,0a2.4,2.4 0 1,0 -4.8,0zM238.6,398.7a2.4,2.4 0 1,0 4.8,0a2.4,2.4 0 1,0 -4.8,0zM239.9,400.6a2.4,2.4 0 1,0 4.8,0a2.4,2.4 0 1,0 -4.8,0zM241.2,402.4a2.4,2.4 0 1,0 4.8,0a2.4,2.4 0 1,0 -4.8,0zM242.5,404.3a2.4,2.4 0 1,0 4.8,0a2.4,2.4 0 1,0 -4.8,0zM243.8,406.1a2.4,2.4 0 1,0 4.8,0a2.4,2.4 0 1,0 -4.8,0zM245.1,408.0a2.4,2.4 0 1,0 4.8,0a2.4,2.4 0 1,0 -4.8,0zM246.4,409.9a2.4,2.4 0 1,0 4.8,0a2.4,2.4 0 1,0 -4.8,0zM247.7,411.8a2.4,2.4 0 1,0 4.8,0a2.4,2.4 0 1,0 -4.8,0zM249.0,413.7a2.4,2.4 0 1,0 4.8,0a2.4,2.4 0 1,0 -4.8,0zM250.3,415.7a2.4,2.4 0 1,0 4.8,0a2.4,2.4 0 1,0 -4.8,0zM251.6,417.6a2.4,2.4 0 1,0 4.8,0a2.4,2.4 0 1,0 -4.8,0zM252.9,419.6a2.4,2.4 0 1,0 4.8,0a2.4,2.4 0 1,0 -4.8,0zM254.2,421.6a2.4,2.4 0 1,0 4.8,0a2.4,2.4 0 1,0 -4.8,0zM255.5,423.6a2.4,2.4 0 1,0 4.8,0a2.4,2.4 0 1,0 -4.8,0zM256.8,425.6a2.4,2.4 0 1,0 4.8,0a2.4,2.4 0 1,0 -4.8,0zM258.1,427.7a2.4,2.4 0 1,0 4.8,0a2.4,2.4 0 1,0 -4.8,0zM259.4,429.7a2.4,2.4 0 1,0 4.8,0a2.4,2.4 0 1,0 -4.8,0zM260.7,431.8a2.4,2.4 0 1,0 4.8,0a2.4,2.4 0 1,0 -4.8,0zM262.0,433.9a2.4,2.4 0 1,0 4.8,0a2.4,2.4 0 1,0 -4.8,0zM263.3,436.0a2.4,2.4 0 1,0 4.8,0a2.4,2.4 0 1,0 -4.8,0zM264.6,438.1a2.4,2.4 0 1,0 4.8,0a2.4,2.4 0 1,0 -4.8,0zM265.9,440.3a2.4,2.4 0 1,0 4.8,0a2.4,2.4 0 1,0 -4.8,0zM267.3,442.4a2.4,2.4 0 1,0 4.8,0a2.4,2.4 0 1,0 -4.8,0zM268.6,444.6a2.4,2.4 0 1,0 4.8,0a2.4,2.4 0 1,0 -4.8,0zM269.9,446.8a2.4,2.4 0 1,0 4.8,0a2.4,2.4 0 1,0 -4.8,0zM271.2,449.1a2.4,2.4 0 1,0 4.8,0a2.4,2.4 0 1,0 -4.8,0zM272.5,451.3a2.4,2.4 0 1,0 4.8,0a2.4,2.4 0 1,0 -4.8,0zM273.8,453.6a2.4,2.4 0 1,0 4.8,0a2.4,2.4 0 1,0 -4.8,0zM275.1,455.9a2.4,2.4 0 1,0 4.8,0a2.4,2.4 0 1,0 -4.8,0zM276.4,458.2a2.4,2.4 0 1,0 4.8,0a2.4,2.4 0 1,0 -4.8,0zM277.7,460.5a2.4,2.4 0 1,0 4.8,0a2.4,2.4 0 1,0 -4.8,0zM279.0,462.9a2.4,2.4 0 1,0 4.8,0a2.4,2.4 0 1,0 -4.8,0zM280.3,465.2a2.4,2.4 0 1,0 4.8,0a2.4,2.4 0 1,0 -4.8,0zM281.6,467.6a2.4,2.4 0 1,0 4.8,0a2.4,2.4 0 1,0 -4.8,0zM282.9,470.1a2.4,2.4 0 1,0 4.8,0a2.4,2.4 0 1,0 -4.8,0zM284.2,472.5a2.4,2.4 0 1,0 4.8,0a2.4,2.4 0 1,0 -4.8,0zM285.5,475.0a2.4,2.4 0 1,0 4.8,0a2.4,2.4 0 1,0 -4.8,0zM286.8,477.5a2.4,2.4 0 1,0 4.8,0a2.4,2.4 0 1,0 -4.8,0zM288.1,480.0a2.4,2.4 0 1,0 4.8,0a2.4,2.4 0 1,0 -4.8,0zM289.4,482.5a2.4,2.4 0 1,0 4.8,0a2.4,2.4 0 1,0 -4.8,0zM290.7,485.1a2.4,2.4 0 1,0 4.8,0a2.4,2.4 0 1,0 -4.8,0zM292.0,487.7a2.4,2.4 0 1,0 4.8,0a2.4,2.4 0 1,0 -4.8,0zM293.3,490.3a2.4,2.4 0 1,0 4.8,0a2.4,2.4 0 1,0 -4.8,0zM294.6,492.9a2.4,2.4 0 1,0 4.8,0a2.4,2.4 0 1,0 -4.8,0zM295.9,495.6a2.4,2.4 0 1,0 4.8,0a2.4,2.4 0 1,0 -4.8,0zM297.2,498.3a2.4,2.4 0 1,0 4.8,0a2.4,2.4 0 1,0 -4.8,0zM298.5,501.0a2.4,2.4 0 1,0 4.8,0a2.4,2.4 0 1,0 -4.8,0zM299.8,503.7a2.4,2.4 0 1,0 4.8,0a2.4,2.4 0 1,0 -4.8,0zM301.1,506.5a2.4,2.4 0 1,0 4.8,0a2.4,2.4 0 1,0 -4.8,0zM302.5,509.3a2.4,2.4 0 1,0 4.8,0a2.4,2.4 0 1,0 -4.8,0zM303.8,512.1a2.4,2.4 0 1,0 4.8,0a2.4,2.4 0 1,0 -4.8,0zM305.1,515.0a2.4,2.4 0 1,0 4.8,0a2.4,2.4 0 1,0 -4.8,0zM306.4,517.8a2.4,2.4 0 1,0 4.8,0a2.4,2.4 0 1,0 -4.8,0zM307.7,520.7a2.4,2.4 0 1,0 4.8,0a2.4,2.4 0 1,0 -4.8,0zM309.0,523.7a2.4,2.4 0 1,0 4.8,0a2.4,2.4 0 1,0 -4.8,0zM310.3,526.6a2.4,2.4 0 1,0 4.8,0a2.4,2.4 0 1,0 -4.8,0zM311.6,529.6a2.4,2.4 0 1,0 4.8,0a2.4,2.4 0 1,0 -4.8,0zM312.9,532.7a2.4,2.4 0 1,0 4.8,0a2.4,2.4 0 1,0 -4.8,0zM314.2,535.7a2.4,2.4 0 1,0 4.8,0a2.4,2.4 0 1,0 -4.8,0zM315.5,538.8a2.4,2.4 0 1,0 4.8,0a2.4,2.4 0 1,0 -4.8,0zM316.8,542.0a2.4,2.4 0 1,0 4.8,0a2.4,2.4 0 1,0 -4.8,0zM318.1,540.3a2.4,2.4 0 1,0 4.8,0a2.4,2.4 0 1,0 -4.8,0zM319.4,537.1a2.4,2.4 0 1,0 4.8,0a2.4,2.4 0 1,0 -4.8,0zM320.7,533.8a2.4,2.4 0 1,0 4.8,0a2.4,2.4 0 1,0 -4.8,0zM322.0,530.4a2.4,2.4 0 1,0 4.8,0a2.4,2.4 0 1,0 -4.8,0zM323.3,526.8a2.4,2.4 0 1,0 4.8,0a2.4,2.4 0 1,0 -4.8,0zM324.6,523.2a2.4,2.4 0 1,0 4.8,0a2.4,2.4 0 1,0 -4.8,0zM325.9,519.4a2.4,2.4 0 1,0 4.8,0a2.4,2.4 0 1,0 -4.8,0zM327.2,515.5a2.4,2.4 0 1,0 4.8,0a2.4,2.4 0 1,0 -4.8,0zM328.5,511.6a2.4,2.4 0 1,0 4.8,0a2.4,2.4 0 1,0 -4.8,0zM329.8,507.6a2.4,2.4 0 1,0 4.8,0a2.4,2.4 0 1,0 -4.8,0zM331.1,503.4a2.4,2.4 0 1,0 4.8,0a2.4,2.4 0 1,0 -4.8,0zM332.4,499.2a2.4,2.4 0 1,0 4.8,0a2.4,2.4 0 1,0 -4.8,0zM333.7,494.7a2.4,2.4 0 1,0 4.8,0a2.4,2.4 0 1,0 -4.8,0zM335.0,490.1a2.4,2.4 0 1,0 4.8,0a2.4,2.4 0 1,0 -4.8,0zM336.3,485.4a2.4,2.4 0 1,0 4.8,0a2.4,2.4 0 1,0 -4.8,0zM337.6,480.6a2.4,2.4 0 1,0 4.8,0a2.4,2.4 0 1,0 -4.8,0zM339.0,475.6a2.4,2.4 0 1,0 4.8,0a2.4,2.4 0 1,0 -4.8,0zM340.3,470.6a2.4,2.4 0 1,0 4.8,0a2.4,2.4 0 1,0 -4.8,0zM341.6,465.6a2.4,2.4 0 1,0 4.8,0a2.4,2.4 0 1,0 -4.8,0zM342.9,460.5a2.4,2.4 0 1,0 4.8,0a2.4,2.4 0 1,0 -4.8,0zM344.2,455.4a2.4,2.4 0 1,0 4.8,0a2.4,2.4 0 1,0 -4.8,0zM345.5,450.3a2.4,2.4 0 1,0 4.8,0a2.4,2.4 0 1,0 -4.8,0zM346.8,445.3a2.4,2.4 0 1,0 4.8,0a2.4,2.4 0 1,0 -4.8,0zM348.1,440.2a2.4,2.4 0 1,0 4.8,0a2.4,2.4 0 1,0 -4.8,0zM349.4,435.1a2.4,2.4 0 1,0 4.8,0a2.4,2.4 0 1,0 -4.8,0zM350.7,429.9a2.4,2.4 0 1,0 4.8,0a2.4,2.4 0 1,0 -4.8,0zM352.0,424.6a2.4,2.4 0 1,0 4.8,0a2.4,2.4 0 1,0 -4.8,0zM353.3,419.1a2.4,2.4 0 1,0 4.8,0a2.4,2.4 0 1,0 -4.8,0zM354.6,413.5a2.4,2.4 0 1,0 4.8,0a2.4,2.4 0 1,0 -4.8,0zM355.9,407.6a2.4,2.4 0 1,0 4.8,0a2.4,2.4 0 1,0 -4.8,0zM357.2,401.5a2.4,2.4 0 1,0 4.8,0a2.4,2.4 0 1,0 -4.8,0zM358.5,395.0a2.4,2.4 0 1,0 4.8,0a2.4,2.4 0 1,0 -4.8,0zM359.8,388.3a2.4,2.4 0 1,0 4.8,0a2.4,2.4 0 1,0 -4.8,0zM361.1,381.2a2.4,2.4 0 1,0 4.8,0a2.4,2.4 0 1,0 -4.8,0zM362.4,373.9a2.4,2.4 0 1,0 4.8,0a2.4,2.4 0 1,0 -4.8,0zM363.7,366.4a2.4,2.4 0 1,0 4.8,0a2.4,2.4 0 1,0 -4.8,0zM365.0,358.6a2.4,2.4 0 1,0 4.8,0a2.4,2.4 0 1,0 -4.8,0zM366.3,350.7a2.4,2.4 0 1,0 4.8,0a2.4,2.4 0 1,0 -4.8,0zM367.6,342.7a2.4,2.4 0 1,0 4.8,0a2.4,2.4 0 1,0 -4.8,0zM368.9,334.5a2.4,2.4 0 1,0 4.8,0a2.4,2.4 0 1,0 -4.8,0zM370.2,326.2a2.4,2.4 0 1,0 4.8,0a2.4,2.4 0 1,0 -4.8,0zM371.5,317.9a2.4,2.4 0 1,0 4.8,0a2.4,2.4 0 1,0 -4.8,0zM372.8,309.5a2.4,2.4 0 1,0 4.8,0a2.4,2.4 0 1,0 -4.8,0zM374.1,301.0a2.4,2.4 0 1,0 4.8,0a2.4,2.4 0 1,0 -4.8,0zM375.5,292.2a2.4,2.4 0 1,0 4.8,0a2.4,2.4 0 1,0 -4.8,0zM376.8,283.3a2.4,2.4 0 1,0 4.8,0a2.4,2.4 0 1,0 -4.8,0zM378.1,274.1a2.4,2.4 0 1,0 4.8,0a2.4,2.4 0 1,0 -4.8,0zM379.4,264.7a2.4,2.4 0 1,0 4.8,0a2.4,2.4 0 1,0 -4.8,0zM380.7,255.1a2.4,2.4 0 1,0 4.8,0a2.4,2.4 0 1,0 -4.8,0zM382.0,245.1a2.4,2.4 0 1,0 4.8,0a2.4,2.4 0 1,0 -4.8,0zM383.3,234.5a2.4,2.4 0 1,0 4.8,0a2.4,2.4 0 1,0 -4.8,0zM384.6,223.3a2.4,2.4 0 1,0 4.8,0a2.4,2.4 0 1,0 -4.8,0zM385.9,212.2a2.4,2.4 0 1,0 4.8,0a2.4,2.4 0 1,0 -4.8,0zM387.2,201.6a2.4,2.4 0 1,0 4.8,0a2.4,2.4 0 1,0 -4.8,0zM388.5,191.5a2.4,2.4 0 1,0 4.8,0a2.4,2.4 0 1,0 -4.8,0zM389.8,181.6a2.4,2.4 0 1,0 4.8,0a2.4,2.4 0 1,0 -4.8,0zM391.1,172.2a2.4,2.4 0 1,0 4.8,0a2.4,2.4 0 1,0 -4.8,0zM392.4,163.6a2.4,2.4 0 1,0 4.8,0a2.4,2.4 0 1,0 -4.8,0zM393.7,155.1a2.4,2.4 0 1,0 4.8,0a2.4,2.4 0 1,0 -4.8,0zM395.0,146.9a2.4,2.4 0 1,0 4.8,0a2.4,2.4 0 1,0 -4.8,0zM396.3,139.4a2.4,2.4 0 1,0 4.8,0a2.4,2.4 0 1,0 -4.8,0zM397.6,133.0a2.4,2.4 0 1,0 4.8,0a2.4,2.4 0 1,0 -4.8,0zM398.9,128.0a2.4,2.4 0 1,0 4.8,0a2.4,2.4 0 1,0 -4.8,0zM400.2,123.3a2.4,2.4 0 1,0 4.8,0a2.4,2.4 0 1,0 -4.8,0zM401.5,118.8a2.4,2.4 0 1,0 4.8,0a2.4,2.4 0 1,0 -4.8,0zM402.8,114.9a2.4,2.4 0 1,0 4.8,0a2.4,2.4 0 1,0 -4.8,0zM404.1,112.0a2.4,2.4 0 1,0 4.8,0a2.4,2.4 0 1,0 -4.8,0zM405.4,110.5a2.4,2.4 0 1,0 4.8,0a2.4,2.4 0 1,0 -4.8,0zM406.7,110.7a2.4,2.4 0 1,0 4.8,0a2.4,2.4 0 1,0 -4.8,0zM408.0,113.1a2.4,2.4 0 1,0 4.8,0a2.4,2.4 0 1,0 -4.8,0zM409.3,117.4a2.4,2.4 0 1,0 4.8,0a2.4,2.4 0 1,0 -4.8,0zM410.6,123.3a2.4,2.4 0 1,0 4.8,0a2.4,2.4 0 1,0 -4.8,0zM412.0,130.5a2.4,2.4 0 1,0 4.8,0a2.4,2.4 0 1,0 -4.8,0zM413.3,138.6a2.4,2.4 0 1,0 4.8,0a2.4,2.4 0 1,0 -4.8,0zM414.6,147.3a2.4,2.4 0 1,0 4.8,0a2.4,2.4 0 1,0 -4.8,0zM415.9,156.7a2.4,2.4 0 1,0 4.8,0a2.4,2.4 0 1,0 -4.8,0zM417.2,171.2a2.4,2.4 0 1,0 4.8,0a2.4,2.4 0 1,0 -4.8,0zM418.5,188.3a2.4,2.4 0 1,0 4.8,0a2.4,2.4 0 1,0 -4.8,0zM419.8,203.6a2.4,2.4 0 1,0 4.8,0a2.4,2.4 0 1,0 -4.8,0zM421.1,214.4a2.4,2.4 0 1,0 4.8,0a2.4,2.4 0 1,0 -4.8,0zM422.4,223.7a2.4,2.4 0 1,0 4.8,0a2.4,2.4 0 1,0 -4.8,0zM423.7,234.9a2.4,2.4 0 1,0 4.8,0a2.4,2.4 0 1,0 -4.8,0zM425.0,252.2a2.4,2.4 0 1,0 4.8,0a2.4,2.4 0 1,0 -4.8,0zM426.3,269.1a2.4,2.4 0 1,0 4.8,0a2.4,2.4 0 1,0 -4.8,0zM427.6,285.7a2.4,2.4 0 1,0 4.8,0a2.4,2.4 0 1,0 -4.8,0zM428.9,301.3a2.4,2.4 0 1,0 4.8,0a2.4,2.4 0 1,0 -4.8,0zM430.2,315.2a2.4,2.4 0 1,0 4.8,0a2.4,2.4 0 1,0 -4.8,0zM431.5,328.1a2.4,2.4 0 1,0 4.8,0a2.4,2.4 0 1,0 -4.8,0zM432.8,340.0a2.4,2.4 0 1,0 4.8,0a2.4,2.4 0 1,0 -4.8,0zM434.1,350.9a2.4,2.4 0 1,0 4.8,0a2.4,2.4 0 1,0 -4.8,0zM435.4,360.6a2.4,2.4 0 1,0 4.8,0a2.4,2.4 0 1,0 -4.8,0zM436.7,369.4a2.4,2.4 0 1,0 4.8,0a2.4,2.4 0 1,0 -4.8,0zM438.0,377.8a2.4,2.4 0 1,0 4.8,0a2.4,2.4 0 1,0 -4.8,0zM439.3,386.4a2.4,2.4 0 1,0 4.8,0a2.4,2.4 0 1,0 -4.8,0zM440.6,395.7a2.4,2.4 0 1,0 4.8,0a2.4,2.4 0 1,0 -4.8,0zM441.9,405.9a2.4,2.4 0 1,0 4.8,0a2.4,2.4 0 1,0 -4.8,0zM443.2,416.5a2.4,2.4 0 1,0 4.8,0a2.4,2.4 0 1,0 -4.8,0zM444.5,427.5a2.4,2.4 0 1,0 4.8,0a2.4,2.4 0 1,0 -4.8,0zM445.8,438.6a2.4,2.4 0 1,0 4.8,0a2.4,2.4 0 1,0 -4.8,0zM447.1,449.7a2.4,2.4 0 1,0 4.8,0a2.4,2.4 0 1,0 -4.8,0zM448.5,460.5a2.4,2.4 0 1,0 4.8,0a2.4,2.4 0 1,0 -4.8,0zM449.8,470.9a2.4,2.4 0 1,0 4.8,0a2.4,2.4 0 1,0 -4.8,0zM451.1,480.7a2.4,2.4 0 1,0 4.8,0a2.4,2.4 0 1,0 -4.8,0zM452.4,490.2a2.4,2.4 0 1,0 4.8,0a2.4,2.4 0 1,0 -4.8,0zM453.7,499.5a2.4,2.4 0 1,0 4.8,0a2.4,2.4 0 1,0 -4.8,0zM455.0,508.6a2.4,2.4 0 1,0 4.8,0a2.4,2.4 0 1,0 -4.8,0zM456.3,517.4a2.4,2.4 0 1,0 4.8,0a2.4,2.4 0 1,0 -4.8,0zM457.6,526.1a2.4,2.4 0 1,0 4.8,0a2.4,2.4 0 1,0 -4.8,0zM458.9,519.1a2.4,2.4 0 1,0 4.8,0a2.4,2.4 0 1,0 -4.8,0zM460.2,511.7a2.4,2.4 0 1,0 4.8,0a2.4,2.4 0 1,0 -4.8,0zM461.5,504.1a2.4,2.4 0 1,0 4.8,0a2.4,2.4 0 1,0 -4.8,0zM462.8,496.4a2.4,2.4 0 1,0 4.8,0a2.4,2.4 0 1,0 -4.8,0zM464.1,488.6a2.4,2.4 0 1,0 4.8,0a2.4,2.4 0 1,0 -4.8,0zM465.4,480.6a2.4,2.4 0 1,0 4.8,0a2.4,2.4 0 1,0 -4.8,0zM466.7,472.4a2.4,2.4 0 1,0 4.8,0a2.4,2.4 0 1,0 -4.8,0zM468.0,464.1a2.4,2.4 0 1,0 4.8,0a2.4,2.4 0 1,0 -4.8,0zM469.3,455.7a2.4,2.4 0 1,0 4.8,0a2.4,2.4 0 1,0 -4.8,0zM470.6,447.2a2.4,2.4 0 1,0 4.8,0a2.4,2.4 0 1,0 -4.8,0zM471.9,438.5a2.4,2.4 0 1,0 4.8,0a2.4,2.4 0 1,0 -4.8,0zM473.2,429.6a2.4,2.4 0 1,0 4.8,0a2.4,2.4 0 1,0 -4.8,0zM474.5,420.4a2.4,2.4 0 1,0 4.8,0a2.4,2.4 0 1,0 -4.8,0zM475.8,411.1a2.4,2.4 0 1,0 4.8,0a2.4,2.4 0 1,0 -4.8,0zM477.1,401.5a2.4,2.4 0 1,0 4.8,0a2.4,2.4 0 1,0 -4.8,0zM478.4,391.6a2.4,2.4 0 1,0 4.8,0a2.4,2.4 0 1,0 -4.8,0zM479.7,381.2a2.4,2.4 0 1,0 4.8,0a2.4,2.4 0 1,0 -4.8,0zM481.0,370.5a2.4,2.4 0 1,0 4.8,0a2.4,2.4 0 1,0 -4.8,0zM482.3,359.5a2.4,2.4 0 1,0 4.8,0a2.4,2.4 0 1,0 -4.8,0zM483.7,348.3a2.4,2.4 0 1,0 4.8,0a2.4,2.4 0 1,0 -4.8,0zM485.0,337.1a2.4,2.4 0 1,0 4.8,0a2.4,2.4 0 1,0 -4.8,0zM486.3,325.8a2.4,2.4 0 1,0 4.8,0a2.4,2.4 0 1,0 -4.8,0zM487.6,314.7a2.4,2.4 0 1,0 4.8,0a2.4,2.4 0 1,0 -4.8,0zM488.9,303.8a2.4,2.4 0 1,0 4.8,0a2.4,2.4 0 1,0 -4.8,0zM490.2,292.9a2.4,2.4 0 1,0 4.8,0a2.4,2.4 0 1,0 -4.8,0zM491.5,282.1a2.4,2.4 0 1,0 4.8,0a2.4,2.4 0 1,0 -4.8,0zM492.8,271.2a2.4,2.4 0 1,0 4.8,0a2.4,2.4 0 1,0 -4.8,0zM494.1,260.3a2.4,2.4 0 1,0 4.8,0a2.4,2.4 0 1,0 -4.8,0zM495.4,249.3a2.4,2.4 0 1,0 4.8,0a2.4,2.4 0 1,0 -4.8,0zM496.7,238.2a2.4,2.4 0 1,0 4.8,0a2.4,2.4 0 1,0 -4.8,0zM498.0,227.2a2.4,2.4 0 1,0 4.8,0a2.4,2.4 0 1,0 -4.8,0zM499.3,216.0a2.4,2.4 0 1,0 4.8,0a2.4,2.4 0 1,0 -4.8,0zM500.6,204.5a2.4,2.4 0 1,0 4.8,0a2.4,2.4 0 1,0 -4.8,0zM501.9,192.6a2.4,2.4 0 1,0 4.8,0a2.4,2.4 0 1,0 -4.8,0zM503.2,180.0a2.4,2.4 0 1,0 4.8,0a2.4,2.4 0 1,0 -4.8,0zM504.5,168.0a2.4,2.4 0 1,0 4.8,0a2.4,2.4 0 1,0 -4.8,0zM505.8,156.7a2.4,2.4 0 1,0 4.8,0a2.4,2.4 0 1,0 -4.8,0zM507.1,145.9a2.4,2.4 0 1,0 4.8,0a2.4,2.4 0 1,0 -4.8,0zM508.4,135.7a2.4,2.4 0 1,0 4.8,0a2.4,2.4 0 1,0 -4.8,0zM509.7,126.2a2.4,2.4 0 1,0 4.8,0a2.4,2.4 0 1,0 -4.8,0zM511.0,117.3a2.4,2.4 0 1,0 4.8,0a2.4,2.4 0 1,0 -4.8,0zM512.3,108.8a2.4,2.4 0 1,0 4.8,0a2.4,2.4 0 1,0 -4.8,0zM513.6,100.7a2.4,2.4 0 1,0 4.8,0a2.4,2.4 0 1,0 -4.8,0zM514.9,93.0a2.4,2.4 0 1,0 4.8,0a2.4,2.4 0 1,0 -4.8,0zM516.2,85.3a2.4,2.4 0 1,0 4.8,0a2.4,2.4 0 1,0 -4.8,0zM517.5,77.6a2.4,2.4 0 1,0 4.8,0a2.4,2.4 0 1,0 -4.8,0zM518.8,70.4a2.4,2.4 0 1,0 4.8,0a2.4,2.4 0 1,0 -4.8,0zM520.2,64.0a2.4,2.4 0 1,0 4.8,0a2.4,2.4 0 1,0 -4.8,0zM521.5,58.8a2.4,2.4 0 1,0 4.8,0a2.4,2.4 0 1,0 -4.8,0zM522.8,54.2a2.4,2.4 0 1,0 4.8,0a2.4,2.4 0 1,0 -4.8,0zM524.1,49.8a2.4,2.4 0 1,0 4.8,0a2.4,2.4 0 1,0 -4.8,0zM525.4,45.5a2.4,2.4 0 1,0 4.8,0a2.4,2.4 0 1,0 -4.8,0zM526.7,41.7a2.4,2.4 0 1,0 4.8,0a2.4,2.4 0 1,0 -4.8,0zM528.0,38.5a2.4,2.4 0 1,0 4.8,0a2.4,2.4 0 1,0 -4.8,0zM529.3,36.2a2.4,2.4 0 1,0 4.8,0a2.4,2.4 0 1,0 -4.8,0zM530.6,35.0a2.4,2.4 0 1,0 4.8,0a2.4,2.4 0 1,0 -4.8,0zM531.9,35.0a2.4,2.4 0 1,0 4.8,0a2.4,2.4 0 1,0 -4.8,0zM533.2,36.0a2.4,2.4 0 1,0 4.8,0a2.4,2.4 0 1,0 -4.8,0zM534.5,38.0a2.4,2.4 0 1,0 4.8,0a2.4,2.4 0 1,0 -4.8,0zM535.8,40.7a2.4,2.4 0 1,0 4.8,0a2.4,2.4 0 1,0 -4.8,0zM537.1,43.8a2.4,2.4 0 1,0 4.8,0a2.4,2.4 0 1,0 -4.8,0zM538.4,47.3a2.4,2.4 0 1,0 4.8,0a2.4,2.4 0 1,0 -4.8,0zM539.7,51.0a2.4,2.4 0 1,0 4.8,0a2.4,2.4 0 1,0 -4.8,0zM541.0,54.6a2.4,2.4 0 1,0 4.8,0a2.4,2.4 0 1,0 -4.8,0zM542.3,58.8a2.4,2.4 0 1,0 4.8,0a2.4,2.4 0 1,0 -4.8,0zM543.6,63.8a2.4,2.4 0 1,0 4.8,0a2.4,2.4 0 1,0 -4.8,0zM544.9,69.3a2.4,2.4 0 1,0 4.8,0a2.4,2.4 0 1,0 -4.8,0zM546.2,75.2a2.4,2.4 0 1,0 4.8,0a2.4,2.4 0 1,0 -4.8,0zM547.5,81.1a2.4,2.4 0 1,0 4.8,0a2.4,2.4 0 1,0 -4.8,0zM548.8,87.1a2.4,2.4 0 1,0 4.8,0a2.4,2.4 0 1,0 -4.8,0zM550.1,93.6a2.4,2.4 0 1,0 4.8,0a2.4,2.4 0 1,0 -4.8,0zM551.4,100.3a2.4,2.4 0 1,0 4.8,0a2.4,2.4 0 1,0 -4.8,0zM552.7,107.1a2.4,2.4 0 1,0 4.8,0a2.4,2.4 0 1,0 -4.8,0zM554.0,113.7a2.4,2.4 0 1,0 4.8,0a2.4,2.4 0 1,0 -4.8,0zM555.3,120.1a2.4,2.4 0 1,0 4.8,0a2.4,2.4 0 1,0 -4.8,0zM556.7,126.2a2.4,2.4 0 1,0 4.8,0a2.4,2.4 0 1,0 -4.8,0zM558.0,132.8a2.4,2.4 0 1,0 4.8,0a2.4,2.4 0 1,0 -4.8,0zM559.3,140.3a2.4,2.4 0 1,0 4.8,0a2.4,2.4 0 1,0 -4.8,0zM560.6,148.6a2.4,2.4 0 1,0 4.8,0a2.4,2.4 0 1,0 -4.8,0zM561.9,157.1a2.4,2.4 0 1,0 4.8,0a2.4,2.4 0 1,0 -4.8,0zM563.2,165.6a2.4,2.4 0 1,0 4.8,0a2.4,2.4 0 1,0 -4.8,0zM564.5,173.7a2.4,2.4 0 1,0 4.8,0a2.4,2.4 0 1,0 -4.8,0zM565.8,181.9a2.4,2.4 0 1,0 4.8,0a2.4,2.4 0 1,0 -4.8,0zM567.1,190.1a2.4,2.4 0 1,0 4.8,0a2.4,2.4 0 1,0 -4.8,0zM568.4,198.4a2.4,2.4 0 1,0 4.8,0a2.4,2.4 0 1,0 -4.8,0zM569.7,206.5a2.4,2.4 0 1,0 4.8,0a2.4,2.4 0 1,0 -4.8,0zM571.0,214.5a2.4,2.4 0 1,0 4.8,0a2.4,2.4 0 1,0 -4.8,0zM572.3,222.2a2.4,2.4 0 1,0 4.8,0a2.4,2.4 0 1,0 -4.8,0zM573.6,229.6a2.4,2.4 0 1,0 4.8,0a2.4,2.4 0 1,0 -4.8,0zM574.9,236.5a2.4,2.4 0 1,0 4.8,0a2.4,2.4 0 1,0 -4.8,0zM576.2,242.9a2.4,2.4 0 1,0 4.8,0a2.4,2.4 0 1,0 -4.8,0zM577.5,248.6a2.4,2.4 0 1,0 4.8,0a2.4,2.4 0 1,0 -4.8,0zM578.8,253.7a2.4,2.4 0 1,0 4.8,0a2.4,2.4 0 1,0 -4.8,0zM580.1,258.6a2.4,2.4 0 1,0 4.8,0a2.4,2.4 0 1,0 -4.8,0zM581.4,263.5a2.4,2.4 0 1,0 4.8,0a2.4,2.4 0 1,0 -4.8,0zM582.7,268.7a2.4,2.4 0 1,0 4.8,0a2.4,2.4 0 1,0 -4.8,0zM584.0,274.5a2.4,2.4 0 1,0 4.8,0a2.4,2.4 0 1,0 -4.8,0zM585.3,280.8a2.4,2.4 0 1,0 4.8,0a2.4,2.4 0 1,0 -4.8,0zM586.6,287.5a2.4,2.4 0 1,0 4.8,0a2.4,2.4 0 1,0 -4.8,0zM587.9,294.5a2.4,2.4 0 1,0 4.8,0a2.4,2.4 0 1,0 -4.8,0zM589.2,301.4a2.4,2.4 0 1,0 4.8,0a2.4,2.4 0 1,0 -4.8,0zM590.5,308.2a2.4,2.4 0 1,0 4.8,0a2.4,2.4 0 1,0 -4.8,0zM591.8,314.8a2.4,2.4 0 1,0 4.8,0a2.4,2.4 0 1,0 -4.8,0zM593.2,321.3a2.4,2.4 0 1,0 4.8,0a2.4,2.4 0 1,0 -4.8,0zM594.5,327.8a2.4,2.4 0 1,0 4.8,0a2.4,2.4 0 1,0 -4.8,0zM595.8,334.3a2.4,2.4 0 1,0 4.8,0a2.4,2.4 0 1,0 -4.8,0zM597.1,340.8a2.4,2.4 0 1,0 4.8,0a2.4,2.4 0 1,0 -4.8,0zM598.4,347.4a2.4,2.4 0 1,0 4.8,0a2.4,2.4 0 1,0 -4.8,0zM599.7,353.9a2.4,2.4 0 1,0 4.8,0a2.4,2.4 0 1,0 -4.8,0zM601.0,360.5a2.4,2.4 0 1,0 4.8,0a2.4,2.4 0 1,0 -4.8,0zM602.3,367.1a2.4,2.4 0 1,0 4.8,0a2.4,2.4 0 1,0 -4.8,0zM603.6,373.7a2.4,2.4 0 1,0 4.8,0a2.4,2.4 0 1,0 -4.8,0zM604.9,380.4a2.4,2.4 0 1,0 4.8,0a2.4,2.4 0 1,0 -4.8,0zM606.2,387.2a2.4,2.4 0 1,0 4.8,0a2.4,2.4 0 1,0 -4.8,0zM607.5,394.0a2.4,2.4 0 1,0 4.8,0a2.4,2.4 0 1,0 -4.8,0zM608.8,400.4a2.4,2.4 0 1,0 4.8,0a2.4,2.4 0 1,0 -4.8,0zM610.1,406.5a2.4,2.4 0 1,0 4.8,0a2.4,2.4 0 1,0 -4.8,0zM611.4,412.3a2.4,2.4 0 1,0 4.8,0a2.4,2.4 0 1,0 -4.8,0zM612.7,418.0a2.4,2.4 0 1,0 4.8,0a2.4,2.4 0 1,0 -4.8,0zM614.0,423.5a2.4,2.4 0 1,0 4.8,0a2.4,2.4 0 1,0 -4.8,0zM615.3,428.9a2.4,2.4 0 1,0 4.8,0a2.4,2.4 0 1,0 -4.8,0zM616.6,434.3a2.4,2.4 0 1,0 4.8,0a2.4,2.4 0 1,0 -4.8,0zM617.9,439.5a2.4,2.4 0 1,0 4.8,0a2.4,2.4 0 1,0 -4.8,0zM619.2,444.8a2.4,2.4 0 1,0 4.8,0a2.4,2.4 0 1,0 -4.8,0zM620.5,450.0a2.4,2.4 0 1,0 4.8,0a2.4,2.4 0 1,0 -4.8,0zM621.8,455.2a2.4,2.4 0 1,0 4.8,0a2.4,2.4 0 1,0 -4.8,0zM623.1,460.5a2.4,2.4 0 1,0 4.8,0a2.4,2.4 0 1,0 -4.8,0zM624.4,465.9a2.4,2.4 0 1,0 4.8,0a2.4,2.4 0 1,0 -4.8,0zM625.7,471.3a2.4,2.4 0 1,0 4.8,0a2.4,2.4 0 1,0 -4.8,0zM627.0,476.9a2.4,2.4 0 1,0 4.8,0a2.4,2.4 0 1,0 -4.8,0zM628.3,482.5a2.4,2.4 0 1,0 4.8,0a2.4,2.4 0 1,0 -4.8,0zM629.7,488.2a2.4,2.4 0 1,0 4.8,0a2.4,2.4 0 1,0 -4.8,0zM631.0,493.8a2.4,2.4 0 1,0 4.8,0a2.4,2.4 0 1,0 -4.8,0zM632.3,499.5a2.4,2.4 0 1,0 4.8,0a2.4,2.4 0 1,0 -4.8,0zM633.6,505.2a2.4,2.4 0 1,0 4.8,0a2.4,2.4 0 1,0 -4.8,0zM634.9,511.0a2.4,2.4 0 1,0 4.8,0a2.4,2.4 0 1,0 -4.8,0zM636.2,516.7a2.4,2.4 0 1,0 4.8,0a2.4,2.4 0 1,0 -4.8,0zM637.5,522.5a2.4,2.4 0 1,0 4.8,0a2.4,2.4 0 1,0 -4.8,0zM638.8,528.3a2.4,2.4 0 1,0 4.8,0a2.4,2.4 0 1,0 -4.8,0zM640.1,534.1a2.4,2.4 0 1,0 4.8,0a2.4,2.4 0 1,0 -4.8,0zM641.4,539.9a2.4,2.4 0 1,0 4.8,0a2.4,2.4 0 1,0 -4.8,0zM642.7,534.8a2.4,2.4 0 1,0 4.8,0a2.4,2.4 0 1,0 -4.8,0zM644.0,529.5a2.4,2.4 0 1,0 4.8,0a2.4,2.4 0 1,0 -4.8,0zM645.3,524.3a2.4,2.4 0 1,0 4.8,0a2.4,2.4 0 1,0 -4.8,0zM646.6,519.1a2.4,2.4 0 1,0 4.8,0a2.4,2.4 0 1,0 -4.8,0zM647.9,513.8a2.4,2.4 0 1,0 4.8,0a2.4,2.4 0 1,0 -4.8,0zM649.2,508.6a2.4,2.4 0 1,0 4.8,0a2.4,2.4 0 1,0 -4.8,0zM650.5,503.4a2.4,2.4 0 1,0 4.8,0a2.4,2.4 0 1,0 -4.8,0zM651.8,498.5a2.4,2.4 0 1,0 4.8,0a2.4,2.4 0 1,0 -4.8,0zM653.1,493.8a2.4,2.4 0 1,0 4.8,0a2.4,2.4 0 1,0 -4.8,0zM654.4,489.0a2.4,2.4 0 1,0 4.8,0a2.4,2.4 0 1,0 -4.8,0zM655.7,483.7a2.4,2.4 0 1,0 4.8,0a2.4,2.4 0 1,0 -4.8,0zM657.0,477.9a2.4,2.4 0 1,0 4.8,0a2.4,2.4 0 1,0 -4.8,0zM658.3,470.9a2.4,2.4 0 1,0 4.8,0a2.4,2.4 0 1,0 -4.8,0zM659.6,462.3a2.4,2.4 0 1,0 4.8,0a2.4,2.4 0 1,0 -4.8,0zM660.9,452.7a2.4,2.4 0 1,0 4.8,0a2.4,2.4 0 1,0 -4.8,0zM662.2,442.7a2.4,2.4 0 1,0 4.8,0a2.4,2.4 0 1,0 -4.8,0zM663.5,432.7a2.4,2.4 0 1,0 4.8,0a2.4,2.4 0 1,0 -4.8,0zM664.9,422.2a2.4,2.4 0 1,0 4.8,0a2.4,2.4 0 1,0 -4.8,0zM666.2,411.6a2.4,2.4 0 1,0 4.8,0a2.4,2.4 0 1,0 -4.8,0zM667.5,401.3a2.4,2.4 0 1,0 4.8,0a2.4,2.4 0 1,0 -4.8,0zM668.8,391.1a2.4,2.4 0 1,0 4.8,0a2.4,2.4 0 1,0 -4.8,0zM670.1,380.3a2.4,2.4 0 1,0 4.8,0a2.4,2.4 0 1,0 -4.8,0zM671.4,368.3a2.4,2.4 0 1,0 4.8,0a2.4,2.4 0 1,0 -4.8,0zM672.7,355.6a2.4,2.4 0 1,0 4.8,0a2.4,2.4 0 1,0 -4.8,0zM674.0,342.3a2.4,2.4 0 1,0 4.8,0a2.4,2.4 0 1,0 -4.8,0zM675.3,328.8a2.4,2.4 0 1,0 4.8,0a2.4,2.4 0 1,0 -4.8,0zM676.6,315.4a2.4,2.4 0 1,0 4.8,0a2.4,2.4 0 1,0 -4.8,0zM677.9,299.9a2.4,2.4 0 1,0 4.8,0a2.4,2.4 0 1,0 -4.8,0zM679.2,280.5a2.4,2.4 0 1,0 4.8,0a2.4,2.4 0 1,0 -4.8,0zM680.5,259.4a2.4,2.4 0 1,0 4.8,0a2.4,2.4 0 1,0 -4.8,0zM681.8,238.5a2.4,2.4 0 1,0 4.8,0a2.4,2.4 0 1,0 -4.8,0zM683.1,218.1a2.4,2.4 0 1,0 4.8,0a2.4,2.4 0 1,0 -4.8,0zM684.4,200.1a2.4,2.4 0 1,0 4.8,0a2.4,2.4 0 1,0 -4.8,0zM685.7,184.3a2.4,2.4 0 1,0 4.8,0a2.4,2.4 0 1,0 -4.8,0zM687.0,170.7a2.4,2.4 0 1,0 4.8,0a2.4,2.4 0 1,0 -4.8,0zM688.3,157.1a2.4,2.4 0 1,0 4.8,0a2.4,2.4 0 1,0 -4.8,0zM689.6,147.0a2.4,2.4 0 1,0 4.8,0a2.4,2.4 0 1,0 -4.8,0zM690.9,143.9a2.4,2.4 0 1,0 4.8,0a2.4,2.4 0 1,0 -4.8,0zM692.2,149.7a2.4,2.4 0 1,0 4.8,0a2.4,2.4 0 1,0 -4.8,0zM693.5,162.0a2.4,2.4 0 1,0 4.8,0a2.4,2.4 0 1,0 -4.8,0zM694.8,178.0a2.4,2.4 0 1,0 4.8,0a2.4,2.4 0 1,0 -4.8,0zM696.1,205.2a2.4,2.4 0 1,0 4.8,0a2.4,2.4 0 1,0 -4.8,0zM697.4,234.9a2.4,2.4 0 1,0 4.8,0a2.4,2.4 0 1,0 -4.8,0zM698.7,260.5a2.4,2.4 0 1,0 4.8,0a2.4,2.4 0 1,0 -4.8,0zM700.0,294.5a2.4,2.4 0 1,0 4.8,0a2.4,2.4 0 1,0 -4.8,0zM701.4,318.7a2.4,2.4 0 1,0 4.8,0a2.4,2.4 0 1,0 -4.8,0zM702.7,338.3a2.4,2.4 0 1,0 4.8,0a2.4,2.4 0 1,0 -4.8,0zM704.0,357.5a2.4,2.4 0 1,0 4.8,0a2.4,2.4 0 1,0 -4.8,0zM705.3,376.9a2.4,2.4 0 1,0 4.8,0a2.4,2.4 0 1,0 -4.8,0zM706.6,400.2a2.4,2.4 0 1,0 4.8,0a2.4,2.4 0 1,0 -4.8,0zM707.9,421.2a2.4,2.4 0 1,0 4.8,0a2.4,2.4 0 1,0 -4.8,0zM709.2,432.9a2.4,2.4 0 1,0 4.8,0a2.4,2.4 0 1,0 -4.8,0zM710.5,441.7a2.4,2.4 0 1,0 4.8,0a2.4,2.4 0 1,0 -4.8,0zM711.8,450.9a2.4,2.4 0 1,0 4.8,0a2.4,2.4 0 1,0 -4.8,0zM713.1,464.1a2.4,2.4 0 1,0 4.8,0a2.4,2.4 0 1,0 -4.8,0zM714.4,480.9a2.4,2.4 0 1,0 4.8,0a2.4,2.4 0 1,0 -4.8,0zM715.7,492.9a2.4,2.4 0 1,0 4.8,0a2.4,2.4 0 1,0 -4.8,0zM717.0,503.2a2.4,2.4 0 1,0 4.8,0a2.4,2.4 0 1,0 -4.8,0zM718.3,514.0a2.4,2.4 0 1,0 4.8,0a2.4,2.4 0 1,0 -4.8,0zM719.6,522.8a2.4,2.4 0 1,0 4.8,0a2.4,2.4 0 1,0 -4.8,0zM720.9,527.6a2.4,2.4 0 1,0 4.8,0a2.4,2.4 0 1,0 -4.8,0zM722.2,530.5a2.4,2.4 0 1,0 4.8,0a2.4,2.4 0 1,0 -4.8,0zM723.5,527.3a2.4,2.4 0 1,0 4.8,0a2.4,2.4 0 1,0 -4.8,0zM724.8,522.4a2.4,2.4 0 1,0 4.8,0a2.4,2.4 0 1,0 -4.8,0zM726.1,517.5a2.4,2.4 0 1,0 4.8,0a2.4,2.4 0 1,0 -4.8,0zM727.4,512.5a2.4,2.4 0 1,0 4.8,0a2.4,2.4 0 1,0 -4.8,0zM728.7,507.6a2.4,2.4 0 1,0 4.8,0a2.4,2.4 0 1,0 -4.8,0zM730.0,502.6a2.4,2.4 0 1,0 4.8,0a2.4,2.4 0 1,0 -4.8,0zM731.3,497.7a2.4,2.4 0 1,0 4.8,0a2.4,2.4 0 1,0 -4.8,0zM732.6,492.8a2.4,2.4 0 1,0 4.8,0a2.4,2.4 0 1,0 -4.8,0zM733.9,487.9a2.4,2.4 0 1,0 4.8,0a2.4,2.4 0 1,0 -4.8,0zM735.2,483.0a2.4,2.4 0 1,0 4.8,0a2.4,2.4 0 1,0 -4.8,0zM736.5,478.1a2.4,2.4 0 1,0 4.8,0a2.4,2.4 0 1,0 -4.8,0zM737.9,473.3a2.4,2.4 0 1,0 4.8,0a2.4,2.4 0 1,0 -4.8,0zM739.2,468.5a2.4,2.4 0 1,0 4.8,0a2.4,2.4 0 1,0 -4.8,0zM740.5,463.7a2.4,2.4 0 1,0 4.8,0a2.4,2.4 0 1,0 -4.8,0zM741.8,459.0a2.4,2.4 0 1,0 4.8,0a2.4,2.4 0 1,0 -4.8,0zM743.1,454.3a2.4,2.4 0 1,0 4.8,0a2.4,2.4 0 1,0 -4.8,0zM744.4,449.6a2.4,2.4 0 1,0 4.8,0a2.4,2.4 0 1,0 -4.8,0zM745.7,445.0a2.4,2.4 0 1,0 4.8,0a2.4,2.4 0 1,0 -4.8,0zM747.0,440.5a2.4,2.4 0 1,0 4.8,0a2.4,2.4 0 1,0 -4.8,0zM748.3,435.9a2.4,2.4 0 1,0 4.8,0a2.4,2.4 0 1,0 -4.8,0zM749.6,431.4a2.4,2.4 0 1,0 4.8,0a2.4,2.4 0 1,0 -4.8,0zM750.9,427.0a2.4,2.4 0 1,0 4.8,0a2.4,2.4 0 1,0 -4.8,0zM752.2,422.6a2.4,2.4 0 1,0 4.8,0a2.4,2.4 0 1,0 -4.8,0zM753.5,418.3a2.4,2.4 0 1,0 4.8,0a2.4,2.4 0 1,0 -4.8,0zM754.8,414.0a2.4,2.4 0 1,0 4.8,0a2.4,2.4 0 1,0 -4.8,0zM756.1,409.8a2.4,2.4 0 1,0 4.8,0a2.4,2.4 0 1,0 -4.8,0zM757.4,405.6a2.4,2.4 0 1,0 4.8,0a2.4,2.4 0 1,0 -4.8,0zM758.7,401.5a2.4,2.4 0 1,0 4.8,0a2.4,2.4 0 1,0 -4.8,0zM760.0,397.5a2.4,2.4 0 1,0 4.8,0a2.4,2.4 0 1,0 -4.8,0zM761.3,393.5a2.4,2.4 0 1,0 4.8,0a2.4,2.4 0 1,0 -4.8,0zM762.6,389.6a2.4,2.4 0 1,0 4.8,0a2.4,2.4 0 1,0 -4.8,0zM763.9,385.7a2.4,2.4 0 1,0 4.8,0a2.4,2.4 0 1,0 -4.8,0zM765.2,381.9a2.4,2.4 0 1,0 4.8,0a2.4,2.4 0 1,0 -4.8,0zM766.5,378.1a2.4,2.4 0 1,0 4.8,0a2.4,2.4 0 1,0 -4.8,0zM767.8,374.4a2.4,2.4 0 1,0 4.8,0a2.4,2.4 0 1,0 -4.8,0zM769.1,370.8a2.4,2.4 0 1,0 4.8,0a2.4,2.4 0 1,0 -4.8,0zM770.4,367.2a2.4,2.4 0 1,0 4.8,0a2.4,2.4 0 1,0 -4.8,0zM771.7,363.7a2.4,2.4 0 1,0 4.8,0a2.4,2.4 0 1,0 -4.8,0zM773.0,360.2a2.4,2.4 0 1,0 4.8,0a2.4,2.4 0 1,0 -4.8,0zM774.4,356.8a2.4,2.4 0 1,0 4.8,0a2.4,2.4 0 1,0 -4.8,0zM775.7,353.5a2.4,2.4 0 1,0 4.8,0a2.4,2.4 0 1,0 -4.8,0zM777.0,350.2a2.4,2.4 0 1,0 4.8,0a2.4,2.4 0 1,0 -4.8,0zM778.3,347.0a2.4,2.4 0 1,0 4.8,0a2.4,2.4 0 1,0 -4.8,0zM779.6,343.8a2.4,2.4 0 1,0 4.8,0a2.4,2.4 0 1,0 -4.8,0zM780.9,340.7a2.4,2.4 0 1,0 4.8,0a2.4,2.4 0 1,0 -4.8,0zM782.2,337.6a2.4,2.4 0 1,0 4.8,0a2.4,2.4 0 1,0 -4.8,0zM783.5,334.6a2.4,2.4 0 1,0 4.8,0a2.4,2.4 0 1,0 -4.8,0zM784.8,331.6a2.4,2.4 0 1,0 4.8,0a2.4,2.4 0 1,0 -4.8,0zM786.1,328.6a2.4,2.4 0 1,0 4.8,0a2.4,2.4 0 1,0 -4.8,0zM787.4,325.8a2.4,2.4 0 1,0 4.8,0a2.4,2.4 0 1,0 -4.8,0zM788.7,322.9a2.4,2.4 0 1,0 4.8,0a2.4,2.4 0 1,0 -4.8,0zM790.0,320.1a2.4,2.4 0 1,0 4.8,0a2.4,2.4 0 1,0 -4.8,0zM791.3,317.4a2.4,2.4 0 1,0 4.8,0a2.4,2.4 0 1,0 -4.8,0zM792.6,314.6a2.4,2.4 0 1,0 4.8,0a2.4,2.4 0 1,0 -4.8,0zM793.9,311.9a2.4,2.4 0 1,0 4.8,0a2.4,2.4 0 1,0 -4.8,0zM795.2,309.3a2.4,2.4 0 1,0 4.8,0a2.4,2.4 0 1,0 -4.8,0zM796.5,306.6a2.4,2.4 0 1,0 4.8,0a2.4,2.4 0 1,0 -4.8,0zM797.8,304.0a2.4,2.4 0 1,0 4.8,0a2.4,2.4 0 1,0 -4.8,0zM799.1,301.4a2.4,2.4 0 1,0 4.8,0a2.4,2.4 0 1,0 -4.8,0zM800.4,298.8a2.4,2.4 0 1,0 4.8,0a2.4,2.4 0 1,0 -4.8,0zM801.7,296.3a2.4,2.4 0 1,0 4.8,0a2.4,2.4 0 1,0 -4.8,0zM803.0,293.7a2.4,2.4 0 1,0 4.8,0a2.4,2.4 0 1,0 -4.8,0zM804.3,291.2a2.4,2.4 0 1,0 4.8,0a2.4,2.4 0 1,0 -4.8,0zM805.6,288.7a2.4,2.4 0 1,0 4.8,0a2.4,2.4 0 1,0 -4.8,0zM806.9,286.1a2.4,2.4 0 1,0 4.8,0a2.4,2.4 0 1,0 -4.8,0zM808.2,283.6a2.4,2.4 0 1,0 4.8,0a2.4,2.4 0 1,0 -4.8,0zM809.5,281.1a2.4,2.4 0 1,0 4.8,0a2.4,2.4 0 1,0 -4.8,0zM810.9,278.5a2.4,2.4 0 1,0 4.8,0a2.4,2.4 0 1,0 -4.8,0zM812.2,275.9a2.4,2.4 0 1,0 4.8,0a2.4,2.4 0 1,0 -4.8,0zM813.5,273.4a2.4,2.4 0 1,0 4.8,0a2.4,2.4 0 1,0 -4.8,0zM814.8,270.7a2.4,2.4 0 1,0 4.8,0a2.4,2.4 0 1,0 -4.8,0zM816.1,268.1a2.4,2.4 0 1,0 4.8,0a2.4,2.4 0 1,0 -4.8,0zM817.4,265.4a2.4,2.4 0 1,0 4.8,0a2.4,2.4 0 1,0 -4.8,0zM818.7,262.7a2.4,2.4 0 1,0 4.8,0a2.4,2.4 0 1,0 -4.8,0zM820.0,259.9a2.4,2.4 0 1,0 4.8,0a2.4,2.4 0 1,0 -4.8,0zM821.3,257.1a2.4,2.4 0 1,0 4.8,0a2.4,2.4 0 1,0 -4.8,0zM822.6,254.3a2.4,2.4 0 1,0 4.8,0a2.4,2.4 0 1,0 -4.8,0zM823.9,251.3a2.4,2.4 0 1,0 4.8,0a2.4,2.4 0 1,0 -4.8,0zM825.2,248.3a2.4,2.4 0 1,0 4.8,0a2.4,2.4 0 1,0 -4.8,0zM826.5,245.3a2.4,2.4 0 1,0 4.8,0a2.4,2.4 0 1,0 -4.8,0zM827.8,242.1a2.4,2.4 0 1,0 4.8,0a2.4,2.4 0 1,0 -4.8,0z" fill="#fff" stroke="#f00" stroke-width="0.3"/>
<path d="M105.5,285.1 L106.0,285.5 L106.5,285.9 L107.0,286.2 L107.5,286.6 L108.0,287.0 L108.5,287.4 L109.0,287.8 L109.5,288.2 L110.0,288.6 L110.5,289.0 L111.0,289.4 L111.5,289.8 L112.0,290.2 L112.5,290.6 L113.0,291.0 L113.5,291.4 L114.0,291.8 L114.5,292.2 L115.0,292.6 L115.5,293.0 L116.0,293.4 L116.5,293.8 L117.0,294.2 L117.5,294.6 L118.0,295.0 L118.5,295.4 L119.0,295.8 L119.5,296.2 L120.0,296.6 L120.5,297.1 L121.1,297.5 L121.6,297.9 L122.1,298.3 L122.6,298.7 L123.1,299.1 L123.6,299.5 L124.1,299.9 L124.6,300.3 L125.1,300.7 L125.6,301.2 L126.1,301.6 L126.6,302.0 L127.1,302.4 L127.6,302.8 L128.1,303.2 L128.6,303.7 L129.1,304.1 L129.6,304.5 L130.1,304.9 L130.6,305.3 L131.1,305.8 L131.6,306.2 L132.1,306.6 L132.6,307.0 L133.1,307.5 L133.6,307.9 L134.1,308.3 L134.6,308.7 L135.1,309.2 L135.6,309.6 L136.1,310.0 L136.6,310.5 L137.1,310.9 L137.6,311.3 L138.1,311.8 L138.6,312.2 L139.1,312.6 L139.6,313.1 L140.1,313.5 L140.6,313.9 L141.1,314.4 L141.6,314.8 L142.1,315.3 L142.6,315.7 L143.1,316.2 L143.6,316.6 L144.1,317.1 L144.6,317.5 L145.1,318.0 L145.6,318.4 L146.1,318.9 L146.6,319.3 L147.1,319.8 L147.6,320.2 L148.1,320.7 L148.6,321.1 L149.1,321.6 L149.6,322.1 L150.1,322.5 L150.6,323.0 L151.1,323.5 L151.6,323.9 L152.2,324.4 L152.7,324.9 L153.2,325.3 L153.7,325.8 L154.2,326.3 L154.7,326.7 L155.2,327.2 L155.7,327.7 L156.2,328.2 L156.7,328.7 L157.2,329.1 L157.7,329.6 L158.2,330.1 L158.7,330.6 L159.2,331.1 L159.7,331.6 L160.2,332.1 L160.7,332.5 L161.2,333.0 L161.7,333.5 L162.2,334.0 L162.7,334.5 L163.2,335.0 L163.7,335.5 L164.2,336.0 L164.7,336.5 L165.2,337.0 L165.7,337.5 L166.2,338.1 L166.7,338.6 L167.2,339.1 L167.7,339.6 L168.2,340.1 L168.7,340.6 L169.2,341.1 L169.7,341.7 L170.2,342.2 L170.7,342.7 L171.2,343.2 L171.7,343.8 L172.2,344.3 L172.7,344.8 L173.2,345.4 L173.7,345.9 L174.2,346.4 L174.7,347.0 L175.2,347.5 L175.7,348.0 L176.2,348.6 L176.7,349.1 L177.2,349.7 L177.7,350.2 L178.2,350.8 L178.7,351.3 L179.2,351.9 L179.7,352.4 L180.2,353.0 L180.7,353.6 L181.2,354.1 L181.7,354.7 L182.2,355.3 L182.7,355.8 L183.3,356.4 L183.8,357.0 L184.3,357.5 L184.8,358.1 L185.3,358.7 L185.8,359.3 L186.3,359.9 L186.8,360.5 L187.3,361.0 L187.8,361.6 L188.3,362.2 L188.8,362.8 L189.3,363.4 L189.8,364.0 L190.3,364.6 L190.8,365.2 L191.3,365.8 L191.8,366.4 L192.3,367.0 L192.8,367.6 L193.3,368.2 L193.8,368.9 L194.3,369.5 L194.8,370.1 L195.3,370.7 L195.8,371.3 L196.3,372.0 L196.8,372.6 L197.3,373.2 L197.8,373.9 L198.3,374.5 L198.8,375.1 L199.3,375.8 L199.8,376.4 L200.3,377.1 L200.8,377.7 L201.3,378.3 L201.8,379.0 L202.3,379.7 L202.8,380.3 L203.3,381.0 L203.8,381.6 L204.3,382.3 L204.8,383.0 L205.3,383.6 L205.8,384.3 L206.3,385.0 L206.8,385.6 L207.3,386.3 L207.8,387.0 L208.3,387.7 L208.8,388.4 L209.3,389.1 L209.8,389.8 L210.3,390.4 L210.8,391.1 L211.3,391.8 L211.8,392.5 L212.3,393.2 L212.8,393.9 L213.3,394.7 L213.9,395.4 L214.4,396.1 L214.9,396.8 L215.4,397.5 L215.9,398.2 L216.4,399.0 L216.9,399.7 L217.4,400.4 L217.9,401.2 L218.4,401.9 L218.9,402.6 L219.4,403.4 L219.9,404.1 L220.4,404.9 L220.9,405.6 L221.4,406.4 L221.9,407.1 L222.4,407.9 L222.9,408.6 L223.4,409.4 L223.9,410.2 L224.4,410.9 L224.9,411.7 L225.4,412.5 L225.9,413.2 L226.4,414.0 L226.9,414.8 L227.4,415.6 L227.9,416.4 L228.4,417.2 L228.9,418.0 L229.4,418.8 L229.9,419.6 L230.4,420.4 L230.9,421.2 L231.4,422.0 L231.9,422.8 L232.4,423.6 L232.9,424.4 L233.4,425.2 L233.9,426.1 L234.4,426.9 L234.9,427.7 L235.4,428.6 L235.9,429.4 L236.4,430.2 L236.9,431.1 L237.4,431.9 L237.9,432.8 L238.4,433.6 L238.9,434.5 L239.4,435.3 L239.9,436.2 L240.4,437.1 L240.9,437.9 L241.4,438.8 L241.9,439.7 L242.4,440.5 L242.9,441.4 L243.4,442.3 L243.9,443.2 L244.4,444.1 L245.0,445.0 L245.5,445.9 L246.0,446.8 L246.5,447.7 L247.0,448.6 L247.5,449.5 L248.0,450.4 L248.5,451.3 L249.0,452.2 L249.5,453.1 L250.0,454.1 L250.5,455.0 L251.0,455.9 L251.5,456.9 L252.0,457.8 L252.5,458.7 L253.0,459.7 L253.5,460.6 L254.0,461.6 L254.5,462.5 L255.0,463.5 L255.5,464.5 L256.0,465.4 L256.5,466.4 L257.0,467.4 L257.5,468.3 L258.0,469.3 L258.5,470.3 L259.0,471.3 L259.5,472.3 L260.0,473.3 L260.5,474.3 L261.0,475.3 L261.5,476.3 L262.0,477.3 L262.5,478.3 L263.0,479.3 L263.5,480.3 L264.0,481.3 L264.5,482.4 L265.0,483.4 L265.5,484.4 L266.0,485.5 L266.5,486.5 L267.0,487.5 L267.5,488.6 L268.0,489.6 L268.5,490.7 L269.0,491.8 L269.5,492.8 L270.0,493.9 L270.5,494.9 L271.0,496.0 L271.5,497.1 L272.0,498.2 L272.5,499.3 L273.0,500.3 L273.5,501.4 L274.0,502.5 L274.5,503.6 L275.0,504.7 L275.5,505.8 L276.1,506.9 L276.6,508.0 L277.1,509.2 L277.6,510.3 L278.1,511.4 L278.6,512.5 L279.1,513.7 L279.6,514.8 L280.1,515.9 L280.6,517.1 L281.1,518.2 L281.6,519.4 L282.1,520.5 L282.6,521.7 L283.1,522.9 L283.6,524.0 L284.1,525.2 L284.6,526.4 L285.1,527.6 L285.6,528.7 L286.1,529.9 L286.6,531.1 L287.1,532.3 L287.6,533.5 L288.1,534.7 L288.6,535.9 L289.1,537.1 L289.6,538.3 L290.1,539.6 L290.6,540.8 L291.1,542.0 L291.6,540.7 L292.1,539.4 L292.6,538.0 L293.1,536.7 L293.6,535.3 L294.1,533.8 L294.6,532.4 L295.1,530.9 L295.6,529.5 L296.1,527.9 L296.6,526.4 L297.1,524.9 L297.6,523.3 L298.1,521.7 L298.6,520.1 L299.1,518.4 L299.6,516.8 L300.1,515.1 L300.6,513.4 L301.1,511.7 L301.6,510.0 L302.1,508.2 L302.6,506.5 L303.1,504.7 L303.6,502.9 L304.1,501.1 L304.7,499.2 L305.2,497.4 L305.7,495.5 L306.2,493.7 L306.7,491.8 L307.2,489.9 L307.7,487.9 L308.2,486.0 L308.7,484.1 L309.2,482.1 L309.7,480.1 L310.2,478.2 L310.7,476.2 L311.2,474.2 L311.7,472.1 L312.2,470.1 L312.7,468.1 L313.2,466.0 L313.7,463.9 L314.2,461.8 L314.7,459.7 L315.2,457.5 L315.7,455.3 L316.2,453.1 L316.7,450.8 L317.2,448.5 L317.7,446.2 L318.2,443.8 L318.7,441.5 L319.2,439.1 L319.7,436.6 L320.2,434.2 L320.7,431.7 L321.2,429.2 L321.7,426.6 L322.2,424.1 L322.7,421.5 L323.2,418.9 L323.7,416.2 L324.2,413.6 L324.7,410.9 L325.2,408.2 L325.7,405.4 L326.2,402.7 L326.7,399.9 L327.2,397.0 L327.7,394.2 L328.2,391.2 L328.7,388.3 L329.2,385.3 L329.7,382.2 L330.2,379.1 L330.7,375.9 L331.3,372.8 L331.8,369.6 L332.3,366.3 L332.8,363.0 L333.3,359.7 L333.8,356.4 L334.3,353.0 L334.8,349.6 L335.3,346.2 L335.8,342.7 L336.3,339.3 L336.8,335.8 L337.3,332.3 L337.8,328.8 L338.3,325.3 L338.8,321.8 L339.3,318.2 L339.8,314.7 L340.3,311.1 L340.8,307.6 L341.3,304.0 L341.8,300.5 L342.3,296.8 L342.8,293.2 L343.3,289.5 L343.8,285.8 L344.3,282.1 L344.8,278.3 L345.3,274.6 L345.8,270.7 L346.3,266.9 L346.8,263.0 L347.3,259.1 L347.8,255.1 L348.3,251.1 L348.8,247.0 L349.3,242.9 L349.8,238.6 L350.3,234.2 L350.8,229.8 L351.3,225.3 L351.8,220.7 L352.3,216.2 L352.8,211.6 L353.3,207.0 L353.8,202.5 L354.3,198.1 L354.8,193.8 L355.3,189.5 L355.8,185.4 L356.3,181.4 L356.8,177.6 L357.4,173.8 L357.9,169.9 L358.4,166.1 L358.9,162.3 L359.4,158.6 L359.9,155.1 L360.4,151.7 L360.9,148.5 L361.4,145.6 L361.9,142.9 L362.4,140.6 L362.9,138.4 L363.4,136.1 L363.9,133.9 L364.4,131.7 L364.9,129.5 L365.4,127.4 L365.9,125.4 L366.4,123.6 L366.9,121.9 L367.4,120.3 L367.9,119.0 L368.4,117.8 L368.9,116.9 L369.4,116.3 L369.9,116.0 L370.4,115.9 L370.9,116.2 L371.4,116.7 L371.9,117.5 L372.4,118.5 L372.9,119.7 L373.4,121.1 L373.9,122.7 L374.4,124.4 L374.9,126.3 L375.4,128.3 L375.9,130.4 L376.4,132.7 L376.9,134.9 L377.4,137.3 L377.9,139.6 L378.4,142.0 L378.9,144.9 L379.4,148.3 L379.9,152.2 L380.4,156.4 L380.9,160.9 L381.4,165.6 L381.9,170.6 L382.4,175.7 L382.9,181.0 L383.4,186.2 L384.0,191.4 L384.5,196.9 L385.0,202.8 L385.5,208.9 L386.0,215.3 L386.5,221.9 L387.0,228.4 L387.5,235.0 L388.0,241.4 L388.5,247.6 L389.0,253.7 L389.5,259.9 L390.0,266.1 L390.5,272.3 L391.0,278.6 L391.5,284.8 L392.0,290.9 L392.5,297.0 L393.0,302.9 L393.5,308.6 L394.0,314.2 L394.5,319.5 L395.0,324.6 L395.5,329.4 L396.0,334.0 L396.5,338.4 L397.0,342.7 L397.5,346.8 L398.0,350.8 L398.5,354.7 L399.0,358.5 L399.5,362.3 L400.0,365.9 L400.5,369.5 L401.0,373.1 L401.5,376.7 L402.0,380.2 L402.5,383.7 L403.0,387.3 L403.5,390.9 L404.0,394.5 L404.5,398.2 L405.0,402.0 L405.5,405.8 L406.0,409.6 L406.5,413.4 L407.0,417.2 L407.5,421.0 L408.0,424.8 L408.5,428.6 L409.0,432.4 L409.5,436.2 L410.0,439.9 L410.6,443.7 L411.1,447.3 L411.6,451.0 L412.1,454.6 L412.6,458.1 L413.1,461.6 L413.6,465.1 L414.1,468.4 L414.6,471.7 L415.1,475.0 L415.6,478.3 L416.1,481.5 L416.6,484.8 L417.1,487.9 L417.6,491.1 L418.1,494.2 L418.6,497.3 L419.1,500.3 L419.6,503.3 L420.1,506.3 L420.6,509.3 L421.1,512.2 L421.6,515.1 L422.1,517.9 L422.6,520.7 L423.1,523.5 L423.6,526.2 L424.1,522.9 L424.6,519.6 L425.1,516.3 L425.6,512.9 L426.1,509.6 L426.6,506.3 L427.1,502.9 L427.6,499.6 L428.1,496.2 L428.6,492.9 L429.1,489.5 L429.6,486.1 L430.1,482.7 L430.6,479.4 L431.1,476.0 L431.6,472.6 L432.1,469.2 L432.6,465.8 L433.1,462.4 L433.6,459.0 L434.1,455.7 L434.6,452.4 L435.1,449.1 L435.6,445.8 L436.1,442.5 L436.6,439.1 L437.1,435.8 L437.6,432.4 L438.1,429.0 L438.7,425.6 L439.2,422.1 L439.7,418.5 L440.2,414.9 L440.7,411.3 L441.2,407.5 L441.7,403.7 L442.2,399.8 L442.7,395.8 L443.2,391.7 L443.7,387.4 L444.2,383.1 L444.7,378.7 L445.2,374.2 L445.7,369.6 L446.2,364.9 L446.7,360.2 L447.2,355.5 L447.7,350.7 L448.2,345.9 L448.7,341.1 L449.2,336.3 L449.7,331.5 L450.2,326.7 L450.7,321.9 L451.2,317.1 L451.7,312.4 L452.2,307.8 L452.7,303.1 L453.2,298.6 L453.7,294.0 L454.2,289.5 L454.7,285.0 L455.2,280.4 L455.7,275.9 L456.2,271.2 L456.7,266.5 L457.2,261.7 L457.7,256.8 L458.2,251.8 L458.7,246.5 L459.2,240.9 L459.7,235.3 L460.2,229.8 L460.7,224.5 L461.2,219.6 L461.7,214.9 L462.2,210.5 L462.7,206.1 L463.2,201.8 L463.7,197.5 L464.2,193.0 L464.7,188.4 L465.2,183.6 L465.7,178.6 L466.2,173.6 L466.7,168.3 L467.2,162.7 L467.7,156.5 L468.3,149.9 L468.8,143.2 L469.3,136.6 L469.8,130.3 L470.3,124.7 L470.8,119.9 L471.3,115.3 L471.8,111.0 L472.3,107.0 L472.8,103.1 L473.3,99.4 L473.8,96.0 L474.3,92.7 L474.8,89.5 L475.3,86.6 L475.8,83.7 L476.3,80.9 L476.8,78.2 L477.3,75.5 L477.8,73.0 L478.3,70.5 L478.8,68.2 L479.3,65.9 L479.8,63.8 L480.3,61.7 L480.8,59.8 L481.3,58.0 L481.8,56.4 L482.3,54.8 L482.8,53.2 L483.3,51.6 L483.8,50.0 L484.3,48.4 L484.8,46.8 L485.3,45.3 L485.8,43.9 L486.3,42.6 L486.8,41.4 L487.3,40.3 L487.8,39.3 L488.3,38.5 L488.8,37.8 L489.3,37.3 L489.8,37.1 L490.3,37.0 L490.8,37.2 L491.3,37.5 L491.8,38.0 L492.3,38.6 L492.8,39.4 L493.3,40.4 L493.8,41.5 L494.3,42.7 L494.8,44.0 L495.3,45.4 L495.8,46.8 L496.3,48.4 L496.8,50.0 L497.3,51.7 L497.9,53.4 L498.4,55.1 L498.9,56.9 L499.4,58.6 L499.9,60.4 L500.4,62.2 L500.9,64.4 L501.4,66.8 L501.9,69.5 L502.4,72.3 L502.9,75.3 L503.4,78.5 L503.9,81.6 L504.4,84.9 L504.9,88.1 L505.4,91.2 L505.9,94.3 L506.4,97.2 L506.9,99.9 L507.4,102.6 L507.9,105.1 L508.4,107.6 L508.9,110.0 L509.4,112.5 L509.9,114.9 L510.4,117.3 L510.9,119.7 L511.4,122.2 L511.9,124.6 L512.4,127.2 L512.9,129.8 L513.4,132.5 L513.9,135.3 L514.4,138.2 L514.9,141.1 L515.4,144.1 L515.9,147.1 L516.4,150.2 L516.9,153.3 L517.4,156.5 L517.9,159.7 L518.4,163.0 L518.9,166.4 L519.4,169.7 L519.9,173.3 L520.4,177.0 L520.9,180.8 L521.4,184.7 L521.9,188.5 L522.4,192.3 L522.9,195.9 L523.4,199.4 L523.9,202.7 L524.4,205.9 L524.9,209.1 L525.4,212.3 L525.9,215.4 L526.4,218.4 L527.0,221.4 L527.5,224.4 L528.0,227.4 L528.5,230.3 L529.0,233.2 L529.5,236.0 L530.0,238.8 L530.5,241.6 L531.0,244.3 L531.5,247.1 L532.0,249.8 L532.5,252.5 L533.0,255.1 L533.5,257.7 L534.0,260.2 L534.5,262.6 L535.0,265.1 L535.5,267.5 L536.0,269.9 L536.5,272.4 L537.0,274.8 L537.5,277.3 L538.0,279.8 L538.5,282.4 L539.0,284.9 L539.5,287.5 L540.0,290.0 L540.5,292.5 L541.0,295.1 L541.5,297.6 L542.0,300.1 L542.5,302.6 L543.0,305.2 L543.5,307.7 L544.0,310.3 L544.5,312.8 L545.0,315.3 L545.5,317.8 L546.0,320.2 L546.5,322.6 L547.0,324.9 L547.5,327.1 L548.0,329.2 L548.5,331.2 L549.0,333.2 L549.5,335.1 L550.0,337.1 L550.5,339.0 L551.0,340.9 L551.5,342.9 L552.0,345.0 L552.5,347.1 L553.0,349.3 L553.5,351.6 L554.0,354.0 L554.5,356.5 L555.0,359.0 L555.5,361.6 L556.0,364.2 L556.6,366.7 L557.1,369.2 L557.6,371.7 L558.1,374.0 L558.6,376.3 L559.1,378.6 L559.6,380.8 L560.1,383.0 L560.6,385.1 L561.1,387.3 L561.6,389.4 L562.1,391.5 L562.6,393.6 L563.1,395.7 L563.6,397.8 L564.1,399.9 L564.6,402.0 L565.1,404.0 L565.6,406.1 L566.1,408.1 L566.6,410.1 L567.1,412.2 L567.6,414.2 L568.1,416.2 L568.6,418.2 L569.1,420.2 L569.6,422.2 L570.1,424.2 L570.6,426.1 L571.1,428.1 L571.6,430.1 L572.1,432.0 L572.6,434.0 L573.1,435.9 L573.6,437.9 L574.1,439.8 L574.6,441.8 L575.1,443.7 L575.6,445.7 L576.1,447.6 L576.6,449.5 L577.1,451.5 L577.6,453.4 L578.1,455.4 L578.6,457.3 L579.1,459.2 L579.6,461.2 L580.1,463.1 L580.6,465.0 L581.1,467.0 L581.6,468.9 L582.1,470.9 L582.6,472.8 L583.1,474.7 L583.6,476.7 L584.1,478.6 L584.6,480.5 L585.1,482.5 L585.6,484.4 L586.2,486.3 L586.7,488.2 L587.2,490.2 L587.7,492.1 L588.2,494.0 L588.7,495.9 L589.2,497.8 L589.7,499.7 L590.2,501.7 L590.7,503.6 L591.2,505.5 L591.7,507.4 L592.2,509.3 L592.7,511.2 L593.2,513.1 L593.7,515.0 L594.2,516.9 L594.7,518.8 L595.2,520.7 L595.7,522.6 L596.2,524.5 L596.7,526.4 L597.2,528.2 L597.7,530.1 L598.2,532.0 L598.7,533.9 L599.2,535.8 L599.7,537.7 L600.2,539.5 L600.7,541.4 L601.2,539.8 L601.7,538.1 L602.2,536.4 L602.7,534.6 L603.2,532.7 L603.7,530.8 L604.2,528.9 L604.7,526.9 L605.2,524.8 L605.8,522.7 L606.3,520.6 L606.8,518.4 L607.3,516.2 L607.8,513.9 L608.3,511.6 L608.8,509.3 L609.3,506.9 L609.8,504.5 L610.3,502.0 L610.8,499.6 L611.3,497.0 L611.8,494.5 L612.3,491.9 L612.8,489.3 L613.3,486.7 L613.8,484.0 L614.3,481.3 L614.8,478.6 L615.3,475.8 L615.9,473.1 L616.4,470.2 L616.9,467.4 L617.4,464.4 L617.9,461.4 L618.4,458.4 L618.9,455.3 L619.4,452.1 L619.9,448.9 L620.4,445.5 L620.9,442.2 L621.4,438.8 L621.9,435.3 L622.4,431.7 L622.9,428.1 L623.4,424.4 L623.9,420.6 L624.4,416.8 L624.9,412.9 L625.4,408.9 L626.0,404.8 L626.5,400.7 L627.0,396.5 L627.5,392.0 L628.0,387.5 L628.5,382.7 L629.0,377.8 L629.5,372.8 L630.0,367.6 L630.5,362.4 L631.0,357.0 L631.5,351.6 L632.0,346.0 L632.5,340.4 L633.0,334.8 L633.5,329.1 L634.0,323.4 L634.5,317.7 L635.0,312.0 L635.5,306.3 L636.1,300.6 L636.6,295.0 L637.1,289.4 L637.6,283.7 L638.1,277.8 L638.6,271.7 L639.1,265.2 L639.6,258.4 L640.1,251.1 L640.6,242.6 L641.1,232.7 L641.6,222.8 L642.1,214.1 L642.6,206.9 L643.1,200.2 L643.6,194.0 L644.1,188.3 L644.6,182.9 L645.1,177.8 L645.6,172.8 L646.2,167.4 L646.7,162.1 L647.2,157.3 L647.7,153.3 L648.2,150.6 L648.7,149.5 L649.2,150.1 L649.7,152.0 L650.2,154.9 L650.7,158.8 L651.2,163.3 L651.7,168.4 L652.2,173.9 L652.7,179.5 L653.2,186.9 L653.7,196.6 L654.2,207.7 L654.7,219.0 L655.2,229.9 L655.7,241.3 L656.3,252.1 L656.8,261.5 L657.3,270.2 L657.8,278.5 L658.3,287.0 L658.8,296.2 L659.3,306.4 L659.8,319.6 L660.3,331.9 L660.8,341.1 L661.3,349.2 L661.8,356.7 L662.3,364.3 L662.8,372.1 L663.3,379.9 L663.8,387.5 L664.3,395.1 L664.8,402.6 L665.3,410.6 L665.8,418.5 L666.4,425.7 L666.9,431.5 L667.4,435.5 L667.9,438.9 L668.4,442.5 L668.9,447.5 L669.4,454.0 L669.9,461.0 L670.4,467.1 L670.9,471.8 L671.4,475.9 L671.9,479.6 L672.4,483.2 L672.9,486.8 L673.4,490.8 L673.9,495.1 L674.4,499.5 L674.9,503.8 L675.4,507.8 L675.9,511.2 L676.5,514.4 L677.0,517.5 L677.5,520.4 L678.0,523.1 L678.5,525.5 L679.0,527.5 L679.5,529.1 L680.0,530.2 L680.5,531.2 L681.0,531.8 L681.5,529.8 L682.0,527.8 L682.5,525.8 L683.0,523.9 L683.5,521.9 L684.0,519.9 L684.5,518.0 L685.0,516.1 L685.5,514.1 L686.0,512.2 L686.5,510.3 L687.0,508.4 L687.5,506.5 L688.0,504.6 L688.5,502.7 L689.0,500.8 L689.5,499.0 L690.0,497.1 L690.5,495.3 L691.0,493.4 L691.5,491.6 L692.0,489.8 L692.5,488.0 L693.0,486.2 L693.5,484.4 L694.0,482.6 L694.5,480.8 L695.0,479.0 L695.5,477.2 L696.1,475.5 L696.6,473.7 L697.1,472.0 L697.6,470.2 L698.1,468.5 L698.6,466.8 L699.1,465.0 L699.6,463.3 L700.1,461.6 L700.6,459.9 L701.1,458.2 L701.6,456.6 L702.1,454.9 L702.6,453.2 L703.1,451.6 L703.6,449.9 L704.1,448.3 L704.6,446.6 L705.1,445.0 L705.6,443.3 L706.1,441.7 L706.6,440.1 L707.1,438.5 L707.6,436.9 L708.1,435.3 L708.6,433.7 L709.1,432.1 L709.6,430.6 L710.1,429.0 L710.6,427.4 L711.1,425.9 L711.6,424.3 L712.1,422.8 L712.6,421.3 L713.1,419.7 L713.6,418.2 L714.1,416.7 L714.6,415.2 L715.1,413.7 L715.6,412.2 L716.1,410.7 L716.6,409.2 L717.1,407.7 L717.6,406.2 L718.1,404.7 L718.6,403.3 L719.1,401.8 L719.6,400.4 L720.1,398.9 L720.6,397.5 L721.1,396.0 L721.6,394.6 L722.1,393.2 L722.6,391.8 L723.1,390.3 L723.6,388.9 L724.1,387.5 L724.6,386.1 L725.1,384.7 L725.6,383.4 L726.2,382.0 L726.7,380.6 L727.2,379.2 L727.7,377.9 L728.2,376.5 L728.7,375.1 L729.2,373.8 L729.7,372.4 L730.2,371.1 L730.7,369.8 L731.2,368.4 L731.7,367.1 L732.2,365.8 L732.7,364.5 L733.2,363.2 L733.7,361.9 L734.2,360.6 L734.7,359.3 L735.2,358.0 L735.7,356.7 L736.2,355.4 L736.7,354.1 L737.2,352.8 L737.7,351.6 L738.2,350.3 L738.7,349.0 L739.2,347.8 L739.7,346.5 L740.2,345.3 L740.7,344.0 L741.2,342.8 L741.7,341.6 L742.2,340.3 L742.7,339.1 L743.2,337.9 L743.7,336.7 L744.2,335.5 L744.7,334.3 L745.2,333.0 L745.7,331.8 L746.2,330.7 L746.7,329.5 L747.2,328.3 L747.7,327.1 L748.2,325.9 L748.7,324.7 L749.2,323.6 L749.7,322.4 L750.2,321.2 L750.7,320.1 L751.2,318.9 L751.7,317.7 L752.2,316.6 L752.7,315.4 L753.2,314.3 L753.7,313.2 L754.2,312.0 L754.7,310.9 L755.2,309.8 L755.8,308.6 L756.3,307.5 L756.8,306.4 L757.3,305.3 L757.8,304.2 L758.3,303.1 L758.8,302.0 L759.3,300.9 L759.8,299.8 L760.3,298.7 L760.8,297.6 L761.3,296.5 L761.8,295.4 L762.3,294.3 L762.8,293.3 L763.3,292.2 L763.8,291.1 L764.3,290.0 L764.8,289.0 L765.3,287.9 L765.8,286.9 L766.3,285.8 L766.8,284.7 L767.3,283.7 L767.8,282.6 L768.3,281.6 L768.8,280.6 L769.3,279.5 L769.8,278.5 L770.3,277.5 L770.8,276.4 L771.3,275.4 L771.8,274.4 L772.3,273.4 L772.8,272.3 L773.3,271.3 L773.8,270.3 L774.3,269.3 L774.8,268.3 L775.3,267.3 L775.8,266.3 L776.3,265.3 L776.8,264.3 L777.3,263.3 L777.8,262.3 L778.3,261.3 L778.8,260.3 L779.3,259.3 L779.8,258.4 L780.3,257.4 L780.8,256.4 L781.3,255.4 L781.8,254.4 L782.3,253.5 L782.8,252.5 L783.3,251.5 L783.8,250.6 L784.3,249.6 L784.8,248.7 L785.3,247.7 L785.9,246.7 L786.4,245.8 L786.9,244.8 L787.4,243.9 L787.9,243.0 L788.4,242.0 L788.9,241.1 L789.4,240.1 L789.9,239.2 L790.4,238.3 L790.9,237.3 L791.4,236.4 L791.9,235.5 L792.4,234.5 L792.9,233.6 L793.4,232.7 L793.9,231.8 L794.4,230.9 L794.9,229.9 L795.4,229.0 L795.9,228.1 L796.4,227.2 L796.9,226.3 L797.4,225.4 L797.9,224.5 L798.4,223.6 L798.9,222.7 L799.4,221.8 L799.9,220.9 L800.4,220.0 L800.9,219.1 L801.4,218.2 L801.9,217.3 L802.4,216.4 L802.9,215.5 L803.4,214.6 L803.9,213.7 L804.4,212.9 L804.9,212.0 L805.4,211.1 L805.9,210.2 L806.4,209.4 L806.9,208.5 L807.4,207.6 L807.9,206.7 L808.4,205.9 L808.9,205.0 L809.4,204.1 L809.9,203.3 L810.4,202.4 L810.9,201.5 L811.4,200.7 L811.9,199.8 L812.4,199.0 L812.9,198.1 L813.4,197.2 L813.9,196.4 L814.4,195.5 L814.9,194.7 L815.4,193.8 L816.0,193.0 L816.5,192.2 L817.0,191.3 L817.5,190.5 L818.0,189.6 L818.5,188.8 L819.0,187.9 L819.5,187.1 L820.0,186.3 L820.5,185.4 L821.0,184.6 L821.5,183.8 L822.0,182.9 L822.5,182.1 L823.0,181.3 L823.5,180.4 L824.0,179.6 L824.5,178.8 L825.0,178.0 L825.5,177.2 L826.0,176.3 L826.5,175.5 L827.0,174.7 L827.5,173.9 L828.0,173.1 L828.5,172.2 L829.0,171.4 L829.5,170.6 L830.0,169.8 L830.2,169.0" fill="none" stroke="#00f" stroke-width="2"/>
<path d="M106.7,283.0L109.6,288.1L103.9,288.1zM108.0,284.0L110.9,289.1L105.2,289.1zM109.3,285.1L112.2,290.2L106.5,290.2zM110.6,286.1L113.5,291.2L107.8,291.2zM111.9,287.1L114.8,292.2L109.1,292.2zM113.2,288.2L116.1,293.3L110.4,293.3zM114.5,289.2L117.4,294.3L111.7,294.3zM115.8,290.3L118.7,295.4L113.0,295.4zM117.1,291.3L120.0,296.4L114.3,296.4zM118.4,292.3L121.3,297.4L115.6,297.4zM119.7,293.4L122.6,298.5L116.9,298.5zM121.0,294.5L123.9,299.6L118.2,299.6zM122.3,295.5L125.2,300.6L119.5,300.6zM123.7,296.6L126.5,301.7L120.8,301.7zM125.0,297.7L127.8,302.8L122.1,302.8zM126.3,298.7L129.1,303.8L123.4,303.8zM127.6,299.8L130.4,304.9L124.7,304.9zM128.9,300.9L131.7,306.0L126.0,306.0zM130.2,302.0L133.0,307.1L127.3,307.1zM131.5,303.1L134.3,308.2L128.6,308.2zM132.8,304.2L135.6,309.3L129.9,309.3zM134.1,305.3L136.9,310.4L131.2,310.4zM135.4,306.4L138.2,311.5L132.5,311.5zM136.7,307.5L139.5,312.6L133.8,312.6zM138.0,308.7L140.8,313.8L135.1,313.8zM139.3,309.8L142.1,314.9L136.4,314.9zM140.6,310.9L143.4,316.0L137.7,316.0zM141.9,312.1L144.8,317.2L139.1,317.2zM143.2,313.2L146.1,318.3L140.4,318.3zM144.5,314.4L147.4,319.5L141.7,319.5zM145.8,315.6L148.7,320.7L143.0,320.7zM147.1,316.8L150.0,321.9L144.3,321.9zM148.4,317.9L151.3,323.0L145.6,323.0zM149.7,319.1L152.6,324.2L146.9,324.2zM151.0,320.3L153.9,325.4L148.2,325.4zM152.3,321.6L155.2,326.7L149.5,326.7zM153.6,322.8L156.5,327.9L150.8,327.9zM154.9,324.0L157.8,329.1L152.1,329.1zM156.2,325.2L159.1,330.3L153.4,330.3zM157.5,326.5L160.4,331.6L154.7,331.6zM158.8,327.8L161.7,332.9L156.0,332.9zM160.2,329.0L163.0,334.1L157.3,334.1zM161.5,330.3L164.3,335.4L158.6,335.4zM162.8,331.6L165.6,336.7L159.9,336.7zM164.1,332.9L166.9,338.0L161.2,338.0zM165.4,334.2L168.2,339.3L162.5,339.3zM166.7,335.5L169.5,340.6L163.8,340.6zM168.0,336.9L170.8,342.0L165.1,342.0zM169.3,338.2L172.1,343.3L166.4,343.3zM170.6,339.6L173.4,344.7L167.7,344.7zM171.9,340.9L174.7,346.0L169.0,346.0zM173.2,342.3L176.0,347.4L170.3,347.4zM174.5,343.7L177.3,348.8L171.6,348.8zM175.8,345.1L178.6,350.2L172.9,350.2zM177.1,346.5L179.9,351.6L174.2,351.6zM178.4,348.0L181.3,353.1L175.6,353.1zM179.7,349.4L182.6,354.5L176.9,354.5zM181.0,350.9L183.9,356.0L178.2,356.0zM182.3,352.3L185.2,357.4L179.5,357.4zM183.6,353.8L186.5,358.9L180.8,358.9zM184.9,355.3L187.8,360.4L182.1,360.4zM186.2,356.8L189.1,361.9L183.4,361.9zM187.5,358.3L190.4,363.4L184.7,363.4zM188.8,359.9L191.7,365.0L186.0,365.0zM190.1,361.4L193.0,366.5L187.3,366.5zM191.4,363.0L194.3,368.1L188.6,368.1zM192.7,364.6L195.6,369.7L189.9,369.7zM194.0,366.2L196.9,371.3L191.2,371.3zM195.3,367.8L198.2,372.9L192.5,372.9zM196.7,369.4L199.5,374.5L193.8,374.5zM198.0,371.1L200.8,376.2L195.1,376.2zM199.3,372.7L202.1,377.8L196.4,377.8zM200.6,374.4L203.4,379.5L197.7,379.5zM201.9,376.1L204.7,381.2L199.0,381.2zM203.2,377.8L206.0,382.9L200.3,382.9zM204.5,379.5L207.3,384.6L201.6,384.6zM205.8,381.2L208.6,386.3L202.9,386.3zM207.1,383.0L209.9,388.1L204.2,388.1zM208.4,384.8L211.2,389.9L205.5,389.9zM209.7,386.5L212.5,391.6L206.8,391.6zM211.0,388.4L213.8,393.5L208.1,393.5zM212.3,390.2L215.1,395.3L209.4,395.3zM213.6,392.0L216.4,397.1L210.7,397.1zM214.9,393.9L217.8,399.0L212.1,399.0zM216.2,395.7L219.1,400.8L213.4,400.8zM217.5,397.6L220.4,402.7L214.7,402.7zM218.8,399.5L221.7,404.6L216.0,404.6zM220.1,401.5L223.0,406.6L217.3,406.6zM221.4,403.4L224.3,408.5L218.6,408.5zM222.7,405.4L225.6,410.5L219.9,410.5zM224.0,407.4L226.9,412.5L221.2,412.5zM225.3,409.4L228.2,414.5L222.5,414.5zM226.6,411.4L229.5,416.5L223.8,416.5zM227.9,413.5L230.8,418.6L225.1,418.6zM229.2,415.5L232.1,420.6L226.4,420.6zM230.5,417.6L233.4,422.7L227.7,422.7zM231.8,419.7L234.7,424.8L229.0,424.8zM233.2,421.8L236.0,426.9L230.3,426.9zM234.5,424.0L237.3,429.1L231.6,429.1zM235.8,426.1L238.6,431.2L232.9,431.2zM237.1,428.3L239.9,433.4L234.2,433.4zM238.4,430.5L241.2,435.6L235.5,435.6zM239.7,432.7L242.5,437.8L236.8,437.8zM241.0,435.0L243.8,440.1L238.1,440.1zM242.3,437.3L245.1,442.4L239.4,442.4zM243.6,439.5L246.4,444.6L240.7,444.6zM244.9,441.9L247.7,447.0L242.0,447.0zM246.2,444.2L249.0,449.3L243.3,449.3zM247.5,446.5L250.3,451.6L244.6,451.6zM248.8,448.9L251.6,454.0L245.9,454.0zM250.1,451.3L252.9,456.4L247.2,456.4zM251.4,453.7L254.3,458.8L248.6,458.8zM252.7,456.2L255.6,461.3L249.9,461.3zM254.0,458.6L256.9,463.7L251.2,463.7zM255.3,461.1L258.2,466.2L252.5,466.2zM256.6,463.6L259.5,468.7L253.8,468.7zM257.9,466.2L260.8,471.3L255.1,471.3zM259.2,468.7L262.1,473.8L256.4,473.8zM260.5,471.3L263.4,476.4L257.7,476.4zM261.8,473.9L264.7,479.0L259.0,479.0zM263.1,476.6L266.0,481.7L260.3,481.7zM264.4,479.2L267.3,484.3L261.6,484.3zM265.7,481.9L268.6,487.0L262.9,487.0zM267.0,484.6L269.9,489.7L264.2,489.7zM268.3,487.3L271.2,492.4L265.5,492.4zM269.7,490.1L272.5,495.2L266.8,495.2zM271.0,492.8L273.8,497.9L268.1,497.9zM272.3,495.6L275.1,500.7L269.4,500.7zM273.6,498.5L276.4,503.6L270.7,503.6zM274.9,501.3L277.7,506.4L272.0,506.4zM276.2,504.2L279.0,509.3L273.3,509.3zM277.5,507.1L280.3,512.2L274.6,512.2zM278.8,510.0L281.6,515.1L275.9,515.1zM280.1,513.0L282.9,518.1L277.2,518.1zM281.4,516.0L284.2,521.1L278.5,521.1zM282.7,519.0L285.5,524.1L279.8,524.1zM284.0,522.0L286.8,527.1L281.1,527.1zM285.3,525.1L288.1,530.2L282.4,530.2zM286.6,528.1L289.5,533.2L283.8,533.2zM287.9,531.3L290.8,536.4L285.1,536.4zM289.2,534.4L292.1,539.5L286.4,539.5zM290.5,537.6L293.4,542.7L287.7,542.7zM291.8,537.1L294.7,542.2L289.0,542.2zM293.1,533.6L296.0,538.7L290.3,538.7zM294.4,530.0L297.3,535.1L291.6,535.1zM295.7,526.1L298.6,531.2L292.9,531.2zM297.0,522.2L299.9,527.3L294.2,527.3zM298.3,518.0L301.2,523.1L295.5,523.1zM299.6,513.8L302.5,518.9L296.8,518.9zM300.9,509.4L303.8,514.5L298.1,514.5zM302.2,504.9L305.1,510.0L299.4,510.0zM303.5,500.2L306.4,505.3L300.7,505.3zM304.9,495.5L307.7,500.6L302.0,500.6zM306.2,490.7L309.0,495.8L303.3,495.8zM307.5,485.7L310.3,490.8L304.6,490.8zM308.8,480.7L311.6,485.8L305.9,485.8zM310.1,475.6L312.9,480.7L307.2,480.7zM311.4,470.4L314.2,475.5L308.5,475.5zM312.7,465.1L315.5,470.2L309.8,470.2zM314.0,459.7L316.8,464.8L311.1,464.8zM315.3,454.1L318.1,459.2L312.4,459.2zM316.6,448.3L319.4,453.4L313.7,453.4zM317.9,442.3L320.7,447.4L315.0,447.4zM319.2,436.1L322.0,441.2L316.3,441.2zM320.5,429.8L323.3,434.9L317.6,434.9zM321.8,423.2L324.6,428.3L318.9,428.3zM323.1,416.5L326.0,421.6L320.3,421.6zM324.4,409.6L327.3,414.7L321.6,414.7zM325.7,402.5L328.6,407.6L322.9,407.6zM327.0,395.3L329.9,400.4L324.2,400.4zM328.3,387.8L331.2,392.9L325.5,392.9zM329.6,380.0L332.5,385.1L326.8,385.1zM330.9,371.9L333.8,377.0L328.1,377.0zM332.2,363.5L335.1,368.6L329.4,368.6zM333.5,354.9L336.4,360.0L330.7,360.0zM334.8,346.1L337.7,351.2L332.0,351.2zM336.1,337.2L339.0,342.3L333.3,342.3zM337.4,328.2L340.3,333.3L334.6,333.3zM338.7,319.0L341.6,324.1L335.9,324.1zM340.0,309.8L342.9,314.9L337.2,314.9zM341.4,300.6L344.2,305.7L338.5,305.7zM342.7,291.2L345.5,296.3L339.8,296.3zM344.0,281.7L346.8,286.8L341.1,286.8zM345.3,271.9L348.1,277.0L342.4,277.0zM346.6,261.9L349.4,267.0L343.7,267.0zM347.9,251.6L350.7,256.7L345.0,256.7zM349.2,241.1L352.0,246.2L346.3,246.2zM350.5,229.9L353.3,235.0L347.6,235.0zM351.8,218.2L354.6,223.3L348.9,223.3zM353.1,206.3L355.9,211.4L350.2,211.4zM354.4,194.7L357.2,199.8L351.5,199.8zM355.7,183.6L358.5,188.7L352.8,188.7zM357.0,173.5L359.8,178.6L354.1,178.6zM358.3,163.5L361.1,168.6L355.4,168.6zM359.6,153.9L362.5,159.0L356.8,159.0zM360.9,145.3L363.8,150.4L358.1,150.4zM362.2,138.3L365.1,143.4L359.4,143.4zM363.5,132.5L366.4,137.6L360.7,137.6zM364.8,126.8L367.7,131.9L362.0,131.9zM366.1,121.5L369.0,126.6L363.3,126.6zM367.4,117.2L370.3,122.3L364.6,122.3zM368.7,114.2L371.6,119.3L365.9,119.3zM370.0,112.9L372.9,118.0L367.2,118.0zM371.3,113.6L374.2,118.7L368.5,118.7zM372.6,116.0L375.5,121.1L369.8,121.1zM373.9,119.8L376.8,124.9L371.1,124.9zM375.2,124.6L378.1,129.7L372.4,129.7zM376.5,130.2L379.4,135.3L373.7,135.3zM377.9,136.3L380.7,141.4L375.0,141.4zM379.2,143.4L382.0,148.5L376.3,148.5zM380.5,153.5L383.3,158.6L377.6,158.6zM381.8,165.8L384.6,170.9L378.9,170.9zM383.1,179.2L385.9,184.3L380.2,184.3zM384.4,193.0L387.2,198.1L381.5,198.1zM385.7,208.7L388.5,213.8L382.8,213.8zM387.0,225.6L389.8,230.7L384.1,230.7zM388.3,242.3L391.1,247.4L385.4,247.4zM389.6,258.3L392.4,263.4L386.7,263.4zM390.9,274.5L393.7,279.6L388.0,279.6zM392.2,290.5L395.0,295.6L389.3,295.6zM393.5,305.7L396.3,310.8L390.6,310.8zM394.8,319.7L397.6,324.8L391.9,324.8zM396.1,332.0L399.0,337.1L393.3,337.1zM397.4,343.1L400.3,348.2L394.6,348.2zM398.7,353.3L401.6,358.4L395.9,358.4zM400.0,362.9L402.9,368.0L397.2,368.0zM401.3,372.2L404.2,377.3L398.5,377.3zM402.6,381.4L405.5,386.5L399.8,386.5zM403.9,390.8L406.8,395.9L401.1,395.9zM405.2,400.5L408.1,405.6L402.4,405.6zM406.5,410.3L409.4,415.4L403.7,415.4zM407.8,420.3L410.7,425.4L405.0,425.4zM409.1,430.1L412.0,435.2L406.3,435.2zM410.4,439.9L413.3,445.0L407.6,445.0zM411.7,449.4L414.6,454.5L408.9,454.5zM413.0,458.6L415.9,463.7L410.2,463.7zM414.4,467.3L417.2,472.4L411.5,472.4zM415.7,475.9L418.5,481.0L412.8,481.0zM417.0,484.2L419.8,489.3L414.1,489.3zM418.3,492.3L421.1,497.4L415.4,497.4zM419.6,500.2L422.4,505.3L416.7,505.3zM420.9,507.9L423.7,513.0L418.0,513.0zM422.2,515.3L425.0,520.4L419.3,520.4zM423.5,522.5L426.3,527.6L420.6,527.6zM424.8,515.4L427.6,520.5L421.9,520.5zM426.1,506.8L428.9,511.9L423.2,511.9zM427.4,498.1L430.2,503.2L424.5,503.2zM428.7,489.4L431.5,494.5L425.8,494.5zM430.0,480.6L432.8,485.7L427.1,485.7zM431.3,471.8L434.1,476.9L428.4,476.9zM432.6,462.9L435.5,468.0L429.8,468.0zM433.9,454.2L436.8,459.3L431.1,459.3zM435.2,445.6L438.1,450.7L432.4,450.7zM436.5,437.0L439.4,442.1L433.7,442.1zM437.8,428.3L440.7,433.4L435.0,433.4zM439.1,419.3L442.0,424.4L436.3,424.4zM440.4,410.0L443.3,415.1L437.6,415.1zM441.7,400.2L444.6,405.3L438.9,405.3zM443.0,389.8L445.9,394.9L440.2,394.9zM444.3,378.6L447.2,383.7L441.5,383.7zM445.6,366.9L448.5,372.0L442.8,372.0zM446.9,354.8L449.8,359.9L444.1,359.9zM448.2,342.3L451.1,347.4L445.4,347.4zM449.5,329.8L452.4,334.9L446.7,334.9zM450.9,317.4L453.7,322.5L448.0,322.5zM452.2,305.1L455.0,310.2L449.3,310.2zM453.5,293.2L456.3,298.3L450.6,298.3zM454.8,281.5L457.6,286.6L451.9,286.6zM456.1,269.6L458.9,274.7L453.2,274.7zM457.4,257.2L460.2,262.3L454.5,262.3zM458.7,243.9L461.5,249.0L455.8,249.0zM460.0,229.5L462.8,234.6L457.1,234.6zM461.3,216.1L464.1,221.2L458.4,221.2zM462.6,204.4L465.4,209.5L459.7,209.5zM463.9,193.1L466.7,198.2L461.0,198.2zM465.2,181.0L468.0,186.1L462.3,186.1zM466.5,167.9L469.3,173.0L463.6,173.0zM467.8,152.8L470.7,157.9L465.0,157.9zM469.1,135.5L472.0,140.6L466.3,140.6zM470.4,120.2L473.3,125.3L467.6,125.3zM471.7,108.5L474.6,113.6L468.9,113.6zM473.0,98.3L475.9,103.4L470.2,103.4zM474.3,89.4L477.2,94.5L471.5,94.5zM475.6,81.6L478.5,86.7L472.8,86.7zM476.9,74.4L479.8,79.5L474.1,79.5zM478.2,67.8L481.1,72.9L475.4,72.9zM479.5,61.8L482.4,66.9L476.7,66.9zM480.8,56.7L483.7,61.8L478.0,61.8zM482.1,52.3L485.0,57.4L479.3,57.4zM483.4,48.1L486.3,53.2L480.6,53.2zM484.7,44.0L487.6,49.1L481.9,49.1zM486.1,40.3L488.9,45.4L483.2,45.4zM487.4,37.2L490.2,42.3L484.5,42.3zM488.7,35.0L491.5,40.1L485.8,40.1zM490.0,34.0L492.8,39.1L487.1,39.1zM491.3,34.4L494.1,39.5L488.4,39.5zM492.6,36.0L495.4,41.1L489.7,41.1zM493.9,38.5L496.7,43.6L491.0,43.6zM495.2,41.9L498.0,47.0L492.3,47.0zM496.5,45.8L499.3,50.9L493.6,50.9zM497.8,50.1L500.6,55.2L494.9,55.2zM499.1,54.7L501.9,59.8L496.2,59.8zM500.4,59.4L503.2,64.5L497.5,64.5zM501.7,65.5L504.5,70.6L498.8,70.6zM503.0,73.1L505.8,78.2L500.1,78.2zM504.3,81.4L507.2,86.5L501.5,86.5zM505.6,89.6L508.5,94.7L502.8,94.7zM506.9,97.1L509.8,102.2L504.1,102.2zM508.2,103.7L511.1,108.8L505.4,108.8zM509.5,110.1L512.4,115.2L506.7,115.2zM510.8,116.3L513.7,121.4L508.0,121.4zM512.1,122.8L515.0,127.9L509.3,127.9zM513.4,129.6L516.3,134.7L510.6,134.7zM514.7,137.0L517.6,142.1L511.9,142.1zM516.0,144.8L518.9,149.9L513.2,149.9zM517.3,153.0L520.2,158.1L514.5,158.1zM518.6,161.5L521.5,166.6L515.8,166.6zM519.9,170.4L522.8,175.5L517.1,175.5zM521.2,180.3L524.1,185.4L518.4,185.4zM522.6,190.2L525.4,195.3L519.7,195.3zM523.9,199.1L526.7,204.2L521.0,204.2zM525.2,207.5L528.0,212.6L522.3,212.6zM526.5,215.5L529.3,220.6L523.6,220.6zM527.8,223.3L530.6,228.4L524.9,228.4zM529.1,230.8L531.9,235.9L526.2,235.9zM530.4,238.1L533.2,243.2L527.5,243.2zM531.7,245.2L534.5,250.3L528.8,250.3zM533.0,252.1L535.8,257.2L530.1,257.2zM534.3,258.7L537.1,263.8L531.4,263.8zM535.6,265.0L538.4,270.1L532.7,270.1zM536.9,271.4L539.7,276.5L534.0,276.5zM538.2,277.9L541.0,283.0L535.3,283.0zM539.5,284.5L542.3,289.6L536.6,289.6zM540.8,291.1L543.7,296.2L538.0,296.2zM542.1,297.6L545.0,302.7L539.3,302.7zM543.4,304.2L546.3,309.3L540.6,309.3zM544.7,310.8L547.6,315.9L541.9,315.9zM546.0,317.2L548.9,322.3L543.2,322.3zM547.3,323.2L550.2,328.3L544.5,328.3zM548.6,328.6L551.5,333.7L545.8,333.7zM549.9,333.7L552.8,338.8L547.1,338.8zM551.2,338.7L554.1,343.8L548.4,343.8zM552.5,344.1L555.4,349.2L549.7,349.2zM553.8,350.0L556.7,355.1L551.0,355.1zM555.1,356.5L558.0,361.6L552.3,361.6zM556.4,363.2L559.3,368.3L553.6,368.3zM557.7,369.6L560.6,374.7L554.9,374.7zM559.1,375.5L561.9,380.6L556.2,380.6zM560.4,381.2L563.2,386.3L557.5,386.3zM561.7,386.8L564.5,391.9L558.8,391.9zM563.0,392.3L565.8,397.4L560.1,397.4zM564.3,397.7L567.1,402.8L561.4,402.8zM565.6,403.0L568.4,408.1L562.7,408.1zM566.9,408.3L569.7,413.4L564.0,413.4zM568.2,413.5L571.0,418.6L565.3,418.6zM569.5,418.7L572.3,423.8L566.6,423.8zM570.8,423.9L573.6,429.0L567.9,429.0zM572.1,429.0L574.9,434.1L569.2,434.1zM573.4,434.1L576.2,439.2L570.5,439.2zM574.7,439.1L577.5,444.2L571.8,444.2zM576.0,444.2L578.8,449.3L573.1,449.3zM577.3,449.2L580.2,454.3L574.5,454.3zM578.6,454.2L581.5,459.3L575.8,459.3zM579.9,459.2L582.8,464.3L577.1,464.3zM581.2,464.3L584.1,469.4L578.4,469.4zM582.5,469.3L585.4,474.4L579.7,474.4zM583.8,474.3L586.7,479.4L581.0,479.4zM585.1,479.4L588.0,484.5L582.3,484.5zM586.4,484.4L589.3,489.5L583.6,489.5zM587.7,489.4L590.6,494.5L584.9,494.5zM589.0,494.4L591.9,499.5L586.2,499.5zM590.3,499.3L593.2,504.4L587.5,504.4zM591.6,504.3L594.5,509.4L588.8,509.4zM592.9,509.2L595.8,514.3L590.1,514.3zM594.2,514.2L597.1,519.3L591.4,519.3zM595.6,519.1L598.4,524.2L592.7,524.2zM596.9,524.0L599.7,529.1L594.0,529.1zM598.2,528.9L601.0,534.0L595.3,534.0zM599.5,533.8L602.3,538.9L596.6,538.9zM600.8,538.2L603.6,543.3L597.9,543.3zM602.1,533.9L604.9,539.0L599.2,539.0zM603.4,529.2L606.2,534.3L600.5,534.3zM604.7,524.1L607.5,529.2L601.8,529.2zM606.0,518.8L608.8,523.9L603.1,523.9zM607.3,513.1L610.1,518.2L604.4,518.2zM608.6,507.2L611.4,512.3L605.7,512.3zM609.9,501.0L612.7,506.1L607.0,506.1zM611.2,494.6L614.0,499.7L608.3,499.7zM612.5,488.0L615.3,493.1L609.6,493.1zM613.8,481.1L616.7,486.2L611.0,486.2zM615.1,474.1L618.0,479.2L612.3,479.2zM616.4,466.9L619.3,472.0L613.6,472.0zM617.7,459.4L620.6,464.5L614.9,464.5zM619.0,451.4L621.9,456.5L616.2,456.5zM620.3,443.0L623.2,448.1L617.5,448.1zM621.6,434.3L624.5,439.4L618.8,439.4zM622.9,425.0L625.8,430.1L620.1,430.1zM624.2,415.3L627.1,420.4L621.4,420.4zM625.5,405.2L628.4,410.3L622.7,410.3zM626.8,394.5L629.7,399.6L624.0,399.6zM628.1,382.9L631.0,388.0L625.3,388.0zM629.4,370.2L632.3,375.3L626.6,375.3zM630.7,356.7L633.6,361.8L627.9,361.8zM632.1,342.6L634.9,347.7L629.2,347.7zM633.4,328.0L636.2,333.1L630.5,333.1zM634.7,313.3L637.5,318.4L631.8,318.4zM636.0,298.6L638.8,303.7L633.1,303.7zM637.3,284.1L640.1,289.2L634.4,289.2zM638.6,268.7L641.4,273.8L635.7,273.8zM639.9,251.3L642.7,256.4L637.0,256.4zM641.2,228.2L644.0,233.3L638.3,233.3zM642.5,205.8L645.3,210.9L639.6,210.9zM643.8,189.2L646.6,194.3L640.9,194.3zM645.1,175.4L647.9,180.5L642.2,180.5zM646.4,161.9L649.2,167.0L643.5,167.0zM647.7,150.1L650.5,155.2L644.8,155.2zM649.0,146.7L651.9,151.8L646.1,151.8zM650.3,152.7L653.2,157.8L647.5,157.8zM651.6,164.3L654.5,169.4L648.8,169.4zM652.9,179.0L655.8,184.1L650.1,184.1zM654.2,204.2L657.1,209.3L651.4,209.3zM655.5,233.1L658.4,238.2L652.7,238.2zM656.8,259.6L659.7,264.7L654.0,264.7zM658.1,281.5L661.0,286.6L655.3,286.6zM659.4,306.8L662.3,311.9L656.6,311.9zM660.7,337.0L663.6,342.1L657.9,342.1zM662.0,357.1L664.9,362.2L659.2,362.2zM663.3,377.1L666.2,382.2L660.5,382.2zM664.6,396.7L667.5,401.8L661.8,401.8zM665.9,417.0L668.8,422.1L663.1,422.1zM667.3,431.7L670.1,436.8L664.4,436.8zM668.6,441.1L671.4,446.2L665.7,446.2zM669.9,457.5L672.7,462.6L667.0,462.6zM671.2,471.0L674.0,476.1L668.3,476.1zM672.5,480.5L675.3,485.6L669.6,485.6zM673.8,490.7L676.6,495.8L670.9,495.8zM675.1,501.9L677.9,507.0L672.2,507.0zM676.4,510.9L679.2,516.0L673.5,516.0zM677.7,518.6L680.5,523.7L674.8,523.7zM679.0,524.5L681.8,529.6L676.1,529.6zM680.3,527.8L683.1,532.9L677.4,532.9zM681.6,526.4L684.4,531.5L678.7,531.5zM682.9,521.3L685.7,526.4L680.0,526.4zM684.2,516.2L687.0,521.3L681.3,521.3zM685.5,511.2L688.4,516.3L682.7,516.3zM686.8,506.2L689.7,511.3L684.0,511.3zM688.1,501.3L691.0,506.4L685.3,506.4zM689.4,496.4L692.3,501.5L686.6,501.5zM690.7,491.6L693.6,496.7L687.9,496.7zM692.0,486.9L694.9,492.0L689.2,492.0zM693.3,482.1L696.2,487.2L690.5,487.2zM694.6,477.5L697.5,482.6L691.8,482.6zM695.9,472.9L698.8,478.0L693.1,478.0zM697.2,468.3L700.1,473.4L694.4,473.4zM698.5,463.8L701.4,468.9L695.7,468.9zM699.8,459.4L702.7,464.5L697.0,464.5zM701.1,455.0L704.0,460.1L698.3,460.1zM702.4,450.6L705.3,455.7L699.6,455.7zM703.8,446.3L706.6,451.4L700.9,451.4zM705.1,442.1L707.9,447.2L702.2,447.2zM706.4,437.8L709.2,442.9L703.5,442.9zM707.7,433.7L710.5,438.8L704.8,438.8zM709.0,429.5L711.8,434.6L706.1,434.6zM710.3,425.5L713.1,430.6L707.4,430.6zM711.6,421.4L714.4,426.5L708.7,426.5zM712.9,417.4L715.7,422.5L710.0,422.5zM714.2,413.5L717.0,418.6L711.3,418.6zM715.5,409.6L718.3,414.7L712.6,414.7zM716.8,405.7L719.6,410.8L713.9,410.8zM718.1,401.8L720.9,406.9L715.2,406.9zM719.4,398.0L722.2,403.1L716.5,403.1zM720.7,394.3L723.5,399.4L717.8,399.4zM722.0,390.6L724.9,395.7L719.2,395.7zM723.3,386.9L726.2,392.0L720.5,392.0zM724.6,383.2L727.5,388.3L721.8,388.3zM725.9,379.6L728.8,384.7L723.1,384.7zM727.2,376.1L730.1,381.2L724.4,381.2zM728.5,372.5L731.4,377.6L725.7,377.6zM729.8,369.0L732.7,374.1L727.0,374.1zM731.1,365.5L734.0,370.6L728.3,370.6zM732.4,362.1L735.3,367.2L729.6,367.2zM733.7,358.7L736.6,363.8L730.9,363.8zM735.0,355.3L737.9,360.4L732.2,360.4zM736.3,352.0L739.2,357.1L733.5,357.1zM737.6,348.7L740.5,353.8L734.8,353.8zM738.9,345.4L741.8,350.5L736.1,350.5zM740.3,342.2L743.1,347.3L737.4,347.3zM741.6,338.9L744.4,344.0L738.7,344.0zM742.9,335.7L745.7,340.8L740.0,340.8zM744.2,332.6L747.0,337.7L741.3,337.7zM745.5,329.4L748.3,334.5L742.6,334.5zM746.8,326.3L749.6,331.4L743.9,331.4zM748.1,323.3L750.9,328.4L745.2,328.4zM749.4,320.2L752.2,325.3L746.5,325.3zM750.7,317.2L753.5,322.3L747.8,322.3zM752.0,314.2L754.8,319.3L749.1,319.3zM753.3,311.2L756.1,316.3L750.4,316.3zM754.6,308.2L757.4,313.3L751.7,313.3zM755.9,305.3L758.7,310.4L753.0,310.4zM757.2,302.4L760.0,307.5L754.3,307.5zM758.5,299.5L761.4,304.6L755.7,304.6zM759.8,296.7L762.7,301.8L757.0,301.8zM761.1,293.8L764.0,298.9L758.3,298.9zM762.4,291.0L765.3,296.1L759.6,296.1zM763.7,288.2L766.6,293.3L760.9,293.3zM765.0,285.5L767.9,290.6L762.2,290.6zM766.3,282.7L769.2,287.8L763.5,287.8zM767.6,280.0L770.5,285.1L764.8,285.1zM768.9,277.3L771.8,282.4L766.1,282.4zM770.2,274.6L773.1,279.7L767.4,279.7zM771.5,271.9L774.4,277.0L768.7,277.0zM772.8,269.3L775.7,274.4L770.0,274.4zM774.1,266.6L777.0,271.7L771.3,271.7zM775.4,264.0L778.3,269.1L772.6,269.1zM776.8,261.4L779.6,266.5L773.9,266.5zM778.1,258.8L780.9,263.9L775.2,263.9zM779.4,256.3L782.2,261.4L776.5,261.4zM780.7,253.7L783.5,258.8L777.8,258.8zM782.0,251.2L784.8,256.3L779.1,256.3zM783.3,248.7L786.1,253.8L780.4,253.8zM784.6,246.2L787.4,251.3L781.7,251.3zM785.9,243.7L788.7,248.8L783.0,248.8zM787.2,241.2L790.0,246.3L784.3,246.3zM788.5,238.8L791.3,243.9L785.6,243.9zM789.8,236.3L792.6,241.4L786.9,241.4zM791.1,233.9L793.9,239.0L788.2,239.0zM792.4,231.5L795.2,236.6L789.5,236.6zM793.7,229.1L796.5,234.2L790.8,234.2zM795.0,226.7L797.9,231.8L792.2,231.8zM796.3,224.3L799.2,229.4L793.5,229.4zM797.6,222.0L800.5,227.1L794.8,227.1zM798.9,219.6L801.8,224.7L796.1,224.7zM800.2,217.3L803.1,222.4L797.4,222.4zM801.5,215.0L804.4,220.1L798.7,220.1zM802.8,212.7L805.7,217.8L800.0,217.8zM804.1,210.4L807.0,215.5L801.3,215.5zM805.4,208.1L808.3,213.2L802.6,213.2zM806.7,205.8L809.6,210.9L803.9,210.9zM808.0,203.5L810.9,208.6L805.2,208.6zM809.3,201.3L812.2,206.4L806.5,206.4zM810.6,199.0L813.5,204.1L807.8,204.1zM811.9,196.8L814.8,201.9L809.1,201.9zM813.3,194.6L816.1,199.7L810.4,199.7zM814.6,192.4L817.4,197.5L811.7,197.5zM815.9,190.2L818.7,195.3L813.0,195.3zM817.2,188.0L820.0,193.1L814.3,193.1zM818.5,185.8L821.3,190.9L815.6,190.9zM819.8,183.6L822.6,188.7L816.9,188.7zM821.1,181.4L823.9,186.5L818.2,186.5zM822.4,179.3L825.2,184.4L819.5,184.4zM823.7,177.1L826.5,182.2L820.8,182.2zM825.0,175.0L827.8,180.1L822.1,180.1zM826.3,172.8L829.1,177.9L823.4,177.9zM827.6,170.7L830.4,175.8L824.7,175.8zM828.9,168.6L831.7,173.7L826.0,173.7zM830.2,166.5L833.1,171.6L827.4,171.6z" fill="#fff" stroke="#00f" stroke-width="0.3"/>
<path d="M103.8,305.8h5.8M106.7,302.9v5.8M104.7,303.8l4.1,4.1M104.7,307.8l4.1,-4.1M105.1,306.7h5.8M108.0,303.8v5.8M106.0,304.6l4.1,4.1M106.0,308.7l4.1,-4.1M106.4,307.5h5.8M109.3,304.6v5.8M107.3,305.5l4.1,4.1M107.3,309.6l4.1,-4.1M107.7,308.5h5.8M110.6,305.6v5.8M108.6,306.4l4.1,4.1M108.6,310.5l4.1,-4.1M109.0,309.4h5.8M111.9,306.5v5.8M109.9,307.4l4.1,4.1M109.9,311.5l4.1,-4.1M110.3,310.4h5.8M113.2,307.5v5.8M111.2,308.4l4.1,4.1M111.2,312.4l4.1,-4.1M111.6,311.4h5.8M114.5,308.5v5.8M112.5,309.4l4.1,4.1M112.5,313.4l4.1,-4.1M112.9,312.5h5.8M115.8,309.6v5.8M113.8,310.4l4.1,4.1M113.8,314.5l4.1,-4.1M114.2,313.5h5.8M117.1,310.6v5.8M115.1,311.5l4.1,4.1M115.1,315.5l4.1,-4.1M115.5,314.6h5.8M118.4,311.7v5.8M116.4,312.6l4.1,4.1M116.4,316.6l4.1,-4.1M116.8,315.7h5.8M119.7,312.8v5.8M117.7,313.7l4.1,4.1M117.7,317.7l4.1,-4.1M118.1,316.8h5.8M121.0,313.9v5.8M119.0,314.8l4.1,4.1M119.0,318.9l4.1,-4.1M119.4,318.0h5.8M122.3,315.1v5.8M120.3,315.9l4.1,4.1M120.3,320.0l4.1,-4.1M120.8,319.1h5.8M123.7,316.2v5.8M121.6,317.1l4.1,4.1M121.6,321.2l4.1,-4.1M122.1,320.3h5.8M125.0,317.4v5.8M122.9,318.3l4.1,4.1M122.9,322.4l4.1,-4.1M123.4,321.5h5.8M126.3,318.6v5.8M124.2,319.5l4.1,4.1M124.2,323.6l4.1,-4.1M124.7,322.8h5.8M127.6,319.9v5.8M125.5,320.7l4.1,4.1M125.5,324.8l4.1,-4.1M126.0,324.0h5.8M128.9,321.1v5.8M126.8,322.0l4.1,4.1M126.8,326.1l4.1,-4.1M127.3,325.3h5.8M130.2,322.4v5.8M128.1,323.3l4.1,4.1M128.1,327.3l4.1,-4.1M128.6,326.6h5.8M131.5,323.7v5.8M129.4,324.5l4.1,4.1M129.4,328.6l4.1,-4.1M129.9,327.9h5.8M132.8,325.0v5.8M130.7,325.8l4.1,4.1M130.7,329.9l4.1,-4.1M131.2,329.2h5.8M134.1,326.3v5.8M132.0,327.2l4.1,4.1M132.0,331.2l4.1,-4.1M132.5,330.5h5.8M135.4,327.6v5.8M133.4,328.5l4.1,4.1M133.4,332.5l4.1,-4.1M133.8,331.9h5.8M136.7,329.0v5.8M134.7,329.8l4.1,4.1M134.7,333.9l4.1,-4.1M135.1,333.2h5.8M138.0,330.3v5.8M136.0,331.2l4.1,4.1M136.0,335.2l4.1,-4.1M136.4,334.6h5.8M139.3,331.7v5.8M137.3,332.6l4.1,4.1M137.3,336.6l4.1,-4.1M137.7,336.0h5.8M140.6,333.1v5.8M138.6,333.9l4.1,4.1M138.6,338.0l4.1,-4.1M139.0,337.4h5.8M141.9,334.5v5.8M139.9,335.3l4.1,4.1M139.9,339.4l4.1,-4.1M140.3,338.8h5.8M143.2,335.9v5.8M141.2,336.7l4.1,4.1M141.2,340.8l4.1,-4.1M141.6,340.2h5.8M144.5,337.3v5.8M142.5,338.2l4.1,4.1M142.5,342.2l4.1,-4.1M142.9,341.6h5.8M145.8,338.7v5.8M143.8,339.6l4.1,4.1M143.8,343.7l4.1,-4.1M144.2,343.1h5.8M147.1,340.2v5.8M145.1,341.0l4.1,4.1M145.1,345.1l4.1,-4.1M145.5,344.5h5.8M148.4,341.6v5.8M146.4,342.5l4.1,4.1M146.4,346.6l4.1,-4.1M146.8,346.0h5.8M149.7,343.1v5.8M147.7,344.0l4.1,4.1M147.7,348.0l4.1,-4.1M148.1,347.5h5.8M151.0,344.6v5.8M149.0,345.5l4.1,4.1M149.0,349.5l4.1,-4.1M149.4,349.0h5.8M152.3,346.1v5.8M150.3,346.9l4.1,4.1M150.3,351.0l4.1,-4.1M150.7,350.5h5.8M153.6,347.6v5.8M151.6,348.4l4.1,4.1M151.6,352.5l4.1,-4.1M152.0,352.0h5.8M154.9,349.1v5.8M152.9,349.9l4.1,4.1M152.9,354.0l4.1,-4.1M153.3,353.5h5.8M156.2,350.6v5.8M154.2,351.5l4.1,4.1M154.2,355.5l4.1,-4.1M154.6,355.0h5.8M157.5,352.1v5.8M155.5,353.0l4.1,4.1M155.5,357.0l4.1,-4.1M155.9,356.6h5.8M158.8,353.7v5.8M156.8,354.5l4.1,4.1M156.8,358.6l4.1,-4.1M157.3,358.1h5.8M160.2,355.2v5.8M158.1,356.1l4.1,4.1M158.1,360.1l4.1,-4.1M158.6,359.7h5.8M161.5,356.8v5.8M159.4,357.6l4.1,4.1M159.4,361.7l4.1,-4.1M159.9,361.2h5.8M162.8,358.3v5.8M160.7,359.2l4.1,4.1M160.7,363.2l4.1,-4.1M161.2,362.8h5.8M164.1,359.9v5.8M162.0,360.8l4.1,4.1M162.0,364.8l4.1,-4.1M162.5,364.4h5.8M165.4,361.5v5.8M163.3,362.3l4.1,4.1M163.3,366.4l4.1,-4.1M163.8,366.0h5.8M166.7,363.1v5.8M164.6,363.9l4.1,4.1M164.6,368.0l4.1,-4.1M165.1,367.6h5.8M168.0,364.7v5.8M165.9,365.5l4.1,4.1M165.9,369.6l4.1,-4.1M166.4,369.2h5.8M169.3,366.3v5.8M167.2,367.1l4.1,4.1M167.2,371.2l4.1,-4.1M167.7,370.8h5.8M170.6,367.9v5.8M168.5,368.8l4.1,4.1M168.5,372.8l4.1,-4.1M169.0,372.4h5.8M171.9,369.5v5.8M169.9,370.4l4.1,4.1M169.9,374.4l4.1,-4.1M170.3,374.0h5.8M173.2,371.1v5.8M171.2,372.0l4.1,4.1M171.2,376.1l4.1,-4.1M171.6,375.7h5.8M174.5,372.8v5.8M172.5,373.7l4.1,4.1M172.5,377.7l4.1,-4.1M172.9,377.3h5.8M175.8,374.4v5.8M173.8,375.3l4.1,4.1M173.8,379.4l4.1,-4.1M174.2,379.0h5.8M177.1,376.1v5.8M175.1,377.0l4.1,4.1M175.1,381.0l4.1,-4.1M175.5,380.7h5.8M178.4,377.8v5.8M176.4,378.7l4.1,4.1M176.4,382.7l4.1,-4.1M176.8,382.4h5.8M179.7,379.5v5.8M177.7,380.3l4.1,4.1M177.7,384.4l4.1,-4.1M178.1,384.1h5.8M181.0,381.2v5.8M179.0,382.0l4.1,4.1M179.0,386.1l4.1,-4.1M179.4,385.8h5.8M182.3,382.9v5.8M180.3,383.7l4.1,4.1M180.3,387.8l4.1,-4.1M180.7,387.5h5.8M183.6,384.6v5.8M181.6,385.5l4.1,4.1M181.6,389.5l4.1,-4.1M182.0,389.2h5.8M184.9,386.3v5.8M182.9,387.2l4.1,4.1M182.9,391.2l4.1,-4.1M183.3,390.9h5.8M186.2,388.0v5.8M184.2,388.9l4.1,4.1M184.2,393.0l4.1,-4.1M184.6,392.7h5.8M187.5,389.8v5.8M185.5,390.7l4.1,4.1M185.5,394.7l4.1,-4.1M185.9,394.5h5.8M188.8,391.6v5.8M186.8,392.4l4.1,4.1M186.8,396.5l4.1,-4.1M187.2,396.2h5.8M190.1,393.3v5.8M188.1,394.2l4.1,4.1M188.1,398.3l4.1,-4.1M188.5,398.0h5.8M191.4,395.1v5.8M189.4,396.0l4.1,4.1M189.4,400.0l4.1,-4.1M189.8,399.8h5.8M192.7,396.9v5.8M190.7,397.8l4.1,4.1M190.7,401.8l4.1,-4.1M191.1,401.6h5.8M194.0,398.7v5.8M192.0,399.6l4.1,4.1M192.0,403.7l4.1,-4.1M192.4,403.5h5.8M195.3,400.6v5.8M193.3,401.4l4.1,4.1M193.3,405.5l4.1,-4.1M193.8,405.3h5.8M196.7,402.4v5.8M194.6,403.3l4.1,4.1M194.6,407.3l4.1,-4.1M195.1,407.1h5.8M198.0,404.2v5.8M195.9,405.1l4.1,4.1M195.9,409.2l4.1,-4.1M196.4,409.0h5.8M199.3,406.1v5.8M197.2,407.0l4.1,4.1M197.2,411.1l4.1,-4.1M197.7,410.9h5.8M200.6,408.0v5.8M198.5,408.9l4.1,4.1M198.5,412.9l4.1,-4.1M199.0,412.8h5.8M201.9,409.9v5.8M199.8,410.8l4.1,4.1M199.8,414.8l4.1,-4.1M200.3,414.7h5.8M203.2,411.8v5.8M201.1,412.7l4.1,4.1M201.1,416.8l4.1,-4.1M201.6,416.7h5.8M204.5,413.8v5.8M202.4,414.6l4.1,4.1M202.4,418.7l4.1,-4.1M202.9,418.6h5.8M205.8,415.7v5.8M203.7,416.6l4.1,4.1M203.7,420.7l4.1,-4.1M204.2,420.6h5.8M207.1,417.7v5.8M205.1,418.6l4.1,4.1M205.1,422.6l4.1,-4.1M205.5,422.6h5.8M208.4,419.7v5.8M206.4,420.6l4.1,4.1M206.4,424.6l4.1,-4.1M206.8,424.6h5.8M209.7,421.7v5.8M207.7,422.6l4.1,4.1M207.7,426.7l4.1,-4.1M208.1,426.7h5.8M211.0,423.8v5.8M209.0,424.6l4.1,4.1M209.0,428.7l4.1,-4.1M209.4,428.7h5.8M212.3,425.8v5.8M210.3,426.7l4.1,4.1M210.3,430.8l4.1,-4.1M210.7,430.8h5.8M213.6,427.9v5.8M211.6,428.8l4.1,4.1M211.6,432.9l4.1,-4.1M212.0,432.9h5.8M214.9,430.0v5.8M212.9,430.9l4.1,4.1M212.9,435.0l4.1,-4.1M213.3,435.1h5.8M216.2,432.2v5.8M214.2,433.0l4.1,4.1M214.2,437.1l4.1,-4.1M214.6,437.2h5.8M217.5,434.3v5.8M215.5,435.2l4.1,4.1M215.5,439.3l4.1,-4.1M215.9,439.4h5.8M218.8,436.5v5.8M216.8,437.4l4.1,4.1M216.8,441.4l4.1,-4.1M217.2,441.6h5.8M220.1,438.7v5.8M218.1,439.6l4.1,4.1M218.1,443.7l4.1,-4.1M218.5,443.9h5.8M221.4,441.0v5.8M219.4,441.8l4.1,4.1M219.4,445.9l4.1,-4.1M219.8,446.1h5.8M222.7,443.2v5.8M220.7,444.1l4.1,4.1M220.7,448.2l4.1,-4.1M221.1,448.4h5.8M224.0,445.5v5.8M222.0,446.4l4.1,4.1M222.0,450.5l4.1,-4.1M222.4,450.8h5.8M225.3,447.9v5.8M223.3,448.7l4.1,4.1M223.3,452.8l4.1,-4.1M223.7,453.1h5.8M226.6,450.2v5.8M224.6,451.1l4.1,4.1M224.6,455.2l4.1,-4.1M225.0,455.5h5.8M227.9,452.6v5.8M225.9,453.5l4.1,4.1M225.9,457.6l4.1,-4.1M226.3,458.0h5.8M229.2,455.1v5.8M227.2,455.9l4.1,4.1M227.2,460.0l4.1,-4.1M227.6,460.4h5.8M230.5,457.5v5.8M228.5,458.4l4.1,4.1M228.5,462.5l4.1,-4.1M228.9,462.9h5.8M231.8,460.0v5.8M229.8,460.9l4.1,4.1M229.8,465.0l4.1,-4.1M230.3,465.5h5.8M233.2,462.6v5.8M231.1,463.4l4.1,4.1M231.1,467.5l4.1,-4.1M231.6,468.1h5.8M234.5,465.2v5.8M232.4,466.0l4.1,4.1M232.4,470.1l4.1,-4.1M232.9,470.7h5.8M235.8,467.8v5.8M233.7,468.6l4.1,4.1M233.7,472.7l4.1,-4.1M234.2,473.3h5.8M237.1,470.4v5.8M235.0,471.3l4.1,4.1M235.0,475.4l4.1,-4.1M235.5,476.0h5.8M238.4,473.1v5.8M236.3,474.0l4.1,4.1M236.3,478.1l4.1,-4.1M236.8,478.8h5.8M239.7,475.9v5.8M237.6,476.7l4.1,4.1M237.6,480.8l4.1,-4.1M238.1,481.6h5.8M241.0,478.7v5.8M238.9,479.5l4.1,4.1M238.9,483.6l4.1,-4.1M239.4,484.4h5.8M242.3,481.5v5.8M240.2,482.4l4.1,4.1M240.2,486.4l4.1,-4.1M240.7,487.3h5.8M243.6,484.4v5.8M241.6,485.2l4.1,4.1M241.6,489.3l4.1,-4.1M242.0,490.2h5.8M244.9,487.3v5.8M242.9,488.2l4.1,4.1M242.9,492.2l4.1,-4.1M243.3,493.2h5.8M246.2,490.3v5.8M244.2,491.1l4.1,4.1M244.2,495.2l4.1,-4.1M244.6,496.2h5.8M247.5,493.3v5.8M245.5,494.2l4.1,4.1M245.5,498.2l4.1,-4.1M245.9,499.3h5.8M248.8,496.4v5.8M246.8,497.2l4.1,4.1M246.8,501.3l4.1,-4.1M247.2,502.4h5.8M250.1,499.5v5.8M248.1,500.4l4.1,4.1M248.1,504.4l4.1,-4.1M248.5,505.6h5.8M251.4,502.7v5.8M249.4,503.6l4.1,4.1M249.4,507.6l4.1,-4.1M249.8,508.8h5.8M252.7,505.9v5.8M250.7,506.8l4.1,4.1M250.7,510.9l4.1,-4.1M251.1,512.1h5.8M254.0,509.2v5.8M252.0,510.1l4.1,4.1M252.0,514.2l4.1,-4.1M252.4,515.5h5.8M255.3,512.6v5.8M253.3,513.5l4.1,4.1M253.3,517.5l4.1,-4.1M253.7,518.9h5.8M256.6,516.0v5.8M254.6,516.9l4.1,4.1M254.6,521.0l4.1,-4.1M255.0,522.4h5.8M257.9,519.5v5.8M255.9,520.4l4.1,4.1M255.9,524.4l4.1,-4.1M256.3,526.0h5.8M259.2,523.1v5.8M257.2,523.9l4.1,4.1M257.2,528.0l4.1,-4.1M257.6,529.6h5.8M260.5,526.7v5.8M258.5,527.5l4.1,4.1M258.5,531.6l4.1,-4.1M258.9,533.3h5.8M261.8,530.4v5.8M259.8,531.2l4.1,4.1M259.8,535.3l4.1,-4.1M260.2,537.0h5.8M263.1,534.1v5.8M261.1,535.0l4.1,4.1M261.1,539.0l4.1,-4.1M261.5,540.8h5.8M264.4,537.9v5.8M262.4,538.8l4.1,4.1M262.4,542.9l4.1,-4.1M262.8,537.9h5.8M265.7,535.0v5.8M263.7,535.9l4.1,4.1M263.7,539.9l4.1,-4.1M264.1,534.5h5.8M267.0,531.6v5.8M265.0,532.4l4.1,4.1M265.0,536.5l4.1,-4.1M265.4,530.9h5.8M268.3,528.0v5.8M266.3,528.8l4.1,4.1M266.3,532.9l4.1,-4.1M266.8,527.1h5.8M269.7,524.2v5.8M267.6,525.0l4.1,4.1M267.6,529.1l4.1,-4.1M268.1,523.1h5.8M271.0,520.2v5.8M268.9,521.0l4.1,4.1M268.9,525.1l4.1,-4.1M269.4,518.9h5.8M272.3,516.0v5.8M270.2,516.9l4.1,4.1M270.2,520.9l4.1,-4.1M270.7,514.6h5.8M273.6,511.7v5.8M271.5,512.5l4.1,4.1M271.5,516.6l4.1,-4.1M272.0,510.0h5.8M274.9,507.1v5.8M272.8,508.0l4.1,4.1M272.8,512.1l4.1,-4.1M273.3,505.3h5.8M276.2,502.4v5.8M274.1,503.3l4.1,4.1M274.1,507.4l4.1,-4.1M274.6,500.5h5.8M277.5,497.6v5.8M275.4,498.4l4.1,4.1M275.4,502.5l4.1,-4.1M275.9,495.4h5.8M278.8,492.5v5.8M276.7,493.4l4.1,4.1M276.7,497.4l4.1,-4.1M277.2,490.1h5.8M280.1,487.2v5.8M278.1,488.1l4.1,4.1M278.1,492.1l4.1,-4.1M278.5,484.6h5.8M281.4,481.7v5.8M279.4,482.6l4.1,4.1M279.4,486.6l4.1,-4.1M279.8,478.9h5.8M282.7,476.0v5.8M280.7,476.9l4.1,4.1M280.7,481.0l4.1,-4.1M281.1,473.1h5.8M284.0,470.2v5.8M282.0,471.0l4.1,4.1M282.0,475.1l4.1,-4.1M282.4,467.0h5.8M285.3,464.1v5.8M283.3,465.0l4.1,4.1M283.3,469.0l4.1,-4.1M283.7,460.7h5.8M286.6,457.8v5.8M284.6,458.7l4.1,4.1M284.6,462.8l4.1,-4.1M285.0,454.3h5.8M287.9,451.4v5.8M285.9,452.3l4.1,4.1M285.9,456.4l4.1,-4.1M286.3,447.7h5.8M289.2,444.8v5.8M287.2,445.7l4.1,4.1M287.2,449.7l4.1,-4.1M287.6,440.9h5.8M290.5,438.0v5.8M288.5,438.9l4.1,4.1M288.5,443.0l4.1,-4.1M288.9,434.0h5.8M291.8,431.1v5.8M289.8,432.0l4.1,4.1M289.8,436.0l4.1,-4.1M290.2,426.9h5.8M293.1,424.0v5.8M291.1,424.8l4.1,4.1M291.1,428.9l4.1,-4.1M291.5,419.6h5.8M294.4,416.7v5.8M292.4,417.6l4.1,4.1M292.4,421.6l4.1,-4.1M292.8,412.2h5.8M295.7,409.3v5.8M293.7,410.1l4.1,4.1M293.7,414.2l4.1,-4.1M294.1,404.6h5.8M297.0,401.7v5.8M295.0,402.5l4.1,4.1M295.0,406.6l4.1,-4.1M295.4,396.8h5.8M298.3,393.9v5.8M296.3,394.7l4.1,4.1M296.3,398.8l4.1,-4.1M296.7,388.5h5.8M299.6,385.6v5.8M297.6,386.5l4.1,4.1M297.6,390.5l4.1,-4.1M298.0,379.7h5.8M300.9,376.8v5.8M298.9,377.6l4.1,4.1M298.9,381.7l4.1,-4.1M299.3,370.4h5.8M302.2,367.5v5.8M300.2,368.4l4.1,4.1M300.2,372.5l4.1,-4.1M300.6,360.9h5.8M303.5,358.0v5.8M301.5,358.8l4.1,4.1M301.5,362.9l4.1,-4.1M302.0,351.0h5.8M304.9,348.1v5.8M302.8,349.0l4.1,4.1M302.8,353.0l4.1,-4.1M303.3,341.0h5.8M306.2,338.1v5.8M304.1,339.0l4.1,4.1M304.1,343.0l4.1,-4.1M304.6,330.9h5.8M307.5,328.0v5.8M305.4,328.9l4.1,4.1M305.4,332.9l4.1,-4.1M305.9,320.8h5.8M308.8,317.9v5.8M306.7,318.8l4.1,4.1M306.7,322.8l4.1,-4.1M307.2,310.8h5.8M310.1,307.9v5.8M308.0,308.8l4.1,4.1M308.0,312.9l4.1,-4.1M308.5,300.9h5.8M311.4,298.0v5.8M309.3,298.9l4.1,4.1M309.3,303.0l4.1,-4.1M309.8,290.9h5.8M312.7,288.0v5.8M310.6,288.9l4.1,4.1M310.6,293.0l4.1,-4.1M311.1,280.6h5.8M314.0,277.7v5.8M311.9,278.6l4.1,4.1M311.9,282.7l4.1,-4.1M312.4,269.8h5.8M315.3,266.9v5.8M313.2,267.8l4.1,4.1M313.2,271.8l4.1,-4.1M313.7,258.2h5.8M316.6,255.3v5.8M314.6,256.2l4.1,4.1M314.6,260.2l4.1,-4.1M315.0,245.5h5.8M317.9,242.6v5.8M315.9,243.5l4.1,4.1M315.9,247.6l4.1,-4.1M316.3,230.3h5.8M319.2,227.4v5.8M317.2,228.3l4.1,4.1M317.2,232.3l4.1,-4.1M317.6,213.8h5.8M320.5,210.9v5.8M318.5,211.7l4.1,4.1M318.5,215.8l4.1,-4.1M318.9,198.2h5.8M321.8,195.3v5.8M319.8,196.1l4.1,4.1M319.8,200.2l4.1,-4.1M320.2,185.2h5.8M323.1,182.3v5.8M321.1,183.1l4.1,4.1M321.1,187.2l4.1,-4.1M321.5,173.0h5.8M324.4,170.1v5.8M322.4,170.9l4.1,4.1M322.4,175.0l4.1,-4.1M322.8,161.7h5.8M325.7,158.8v5.8M323.7,159.6l4.1,4.1M323.7,163.7l4.1,-4.1M324.1,152.1h5.8M327.0,149.2v5.8M325.0,150.1l4.1,4.1M325.0,154.1l4.1,-4.1M325.4,145.0h5.8M328.3,142.1v5.8M326.3,143.0l4.1,4.1M326.3,147.0l4.1,-4.1M326.7,139.2h5.8M329.6,136.3v5.8M327.6,137.1l4.1,4.1M327.6,141.2l4.1,-4.1M328.0,133.6h5.8M330.9,130.7v5.8M328.9,131.6l4.1,4.1M328.9,135.6l4.1,-4.1M329.3,128.5h5.8M332.2,125.6v5.8M330.2,126.5l4.1,4.1M330.2,130.6l4.1,-4.1M330.6,124.2h5.8M333.5,121.3v5.8M331.5,122.2l4.1,4.1M331.5,126.3l4.1,-4.1M331.9,120.9h5.8M334.8,118.0v5.8M332.8,118.9l4.1,4.1M332.8,123.0l4.1,-4.1M333.2,118.8h5.8M336.1,115.9v5.8M334.1,116.8l4.1,4.1M334.1,120.9l4.1,-4.1M334.5,118.2h5.8M337.4,115.3v5.8M335.4,116.2l4.1,4.1M335.4,120.2l4.1,-4.1M335.8,119.5h5.8M338.7,116.6v5.8M336.7,117.5l4.1,4.1M336.7,121.6l4.1,-4.1M337.1,122.7h5.8M340.0,119.8v5.8M338.0,120.7l4.1,4.1M338.0,124.8l4.1,-4.1M338.5,127.4h5.8M341.4,124.5v5.8M339.3,125.4l4.1,4.1M339.3,129.4l4.1,-4.1M339.8,133.1h5.8M342.7,130.2v5.8M340.6,131.0l4.1,4.1M340.6,135.1l4.1,-4.1M341.1,139.3h5.8M344.0,136.4v5.8M341.9,137.3l4.1,4.1M341.9,141.4l4.1,-4.1M342.4,145.8h5.8M345.3,142.9v5.8M343.2,143.8l4.1,4.1M343.2,147.8l4.1,-4.1M343.7,153.4h5.8M346.6,150.5v5.8M344.5,151.3l4.1,4.1M344.5,155.4l4.1,-4.1M345.0,162.9h5.8M347.9,160.0v5.8M345.8,160.8l4.1,4.1M345.8,164.9l4.1,-4.1M346.3,174.0h5.8M349.2,171.1v5.8M347.1,172.0l4.1,4.1M347.1,176.0l4.1,-4.1M347.6,186.6h5.8M350.5,183.7v5.8M348.4,184.5l4.1,4.1M348.4,188.6l4.1,-4.1M348.9,201.8h5.8M351.8,198.9v5.8M349.7,199.8l4.1,4.1M349.7,203.8l4.1,-4.1M350.2,221.9h5.8M353.1,219.0v5.8M351.1,219.9l4.1,4.1M351.1,224.0l4.1,-4.1M351.5,241.8h5.8M354.4,238.9v5.8M352.4,239.8l4.1,4.1M352.4,243.8l4.1,-4.1M352.8,256.9h5.8M355.7,254.0v5.8M353.7,254.9l4.1,4.1M353.7,258.9l4.1,-4.1M354.1,269.5h5.8M357.0,266.6v5.8M355.0,267.4l4.1,4.1M355.0,271.5l4.1,-4.1M355.4,280.7h5.8M358.3,277.8v5.8M356.3,278.7l4.1,4.1M356.3,282.8l4.1,-4.1M356.7,291.5h5.8M359.6,288.6v5.8M357.6,289.5l4.1,4.1M357.6,293.5l4.1,-4.1M358.0,302.4h5.8M360.9,299.5v5.8M358.9,300.4l4.1,4.1M358.9,304.5l4.1,-4.1M359.3,314.1h5.8M362.2,311.2v5.8M360.2,312.1l4.1,4.1M360.2,316.2l4.1,-4.1M360.6,326.2h5.8M363.5,323.3v5.8M361.5,324.2l4.1,4.1M361.5,328.2l4.1,-4.1M361.9,338.4h5.8M364.8,335.5v5.8M362.8,336.4l4.1,4.1M362.8,340.5l4.1,-4.1M363.2,350.7h5.8M366.1,347.8v5.8M364.1,348.6l4.1,4.1M364.1,352.7l4.1,-4.1M364.5,362.8h5.8M367.4,359.9v5.8M365.4,360.7l4.1,4.1M365.4,364.8l4.1,-4.1M365.8,374.6h5.8M368.7,371.7v5.8M366.7,372.5l4.1,4.1M366.7,376.6l4.1,-4.1M367.1,385.9h5.8M370.0,383.0v5.8M368.0,383.9l4.1,4.1M368.0,387.9l4.1,-4.1M368.4,396.6h5.8M371.3,393.7v5.8M369.3,394.6l4.1,4.1M369.3,398.7l4.1,-4.1M369.7,406.7h5.8M372.6,403.8v5.8M370.6,404.6l4.1,4.1M370.6,408.7l4.1,-4.1M371.0,416.2h5.8M373.9,413.3v5.8M371.9,414.2l4.1,4.1M371.9,418.2l4.1,-4.1M372.3,425.4h5.8M375.2,422.5v5.8M373.2,423.3l4.1,4.1M373.2,427.4l4.1,-4.1M373.6,434.2h5.8M376.5,431.3v5.8M374.5,432.2l4.1,4.1M374.5,436.3l4.1,-4.1M375.0,442.9h5.8M377.9,440.0v5.8M375.8,440.8l4.1,4.1M375.8,444.9l4.1,-4.1M376.3,451.3h5.8M379.2,448.4v5.8M377.1,449.3l4.1,4.1M377.1,453.4l4.1,-4.1M377.6,459.8h5.8M380.5,456.9v5.8M378.4,457.7l4.1,4.1M378.4,461.8l4.1,-4.1M378.9,468.1h5.8M381.8,465.2v5.8M379.7,466.1l4.1,4.1M379.7,470.1l4.1,-4.1M380.2,476.3h5.8M383.1,473.4v5.8M381.0,474.3l4.1,4.1M381.0,478.3l4.1,-4.1M381.5,484.4h5.8M384.4,481.5v5.8M382.3,482.4l4.1,4.1M382.3,486.4l4.1,-4.1M382.8,492.3h5.8M385.7,489.4v5.8M383.6,490.3l4.1,4.1M383.6,494.4l4.1,-4.1M384.1,500.2h5.8M387.0,497.3v5.8M384.9,498.1l4.1,4.1M384.9,502.2l4.1,-4.1M385.4,507.8h5.8M388.3,504.9v5.8M386.3,505.8l4.1,4.1M386.3,509.9l4.1,-4.1M386.7,515.4h5.8M389.6,512.5v5.8M387.6,513.3l4.1,4.1M387.6,517.4l4.1,-4.1M388.0,522.7h5.8M390.9,519.8v5.8M388.9,520.7l4.1,4.1M388.9,524.8l4.1,-4.1M389.3,525.1h5.8M392.2,522.2v5.8M390.2,523.1l4.1,4.1M390.2,527.1l4.1,-4.1M390.6,516.1h5.8M393.5,513.2v5.8M391.5,514.1l4.1,4.1M391.5,518.2l4.1,-4.1M391.9,507.2h5.8M394.8,504.3v5.8M392.8,505.1l4.1,4.1M392.8,509.2l4.1,-4.1M393.2,498.2h5.8M396.1,495.3v5.8M394.1,496.2l4.1,4.1M394.1,500.2l4.1,-4.1M394.5,489.2h5.8M397.4,486.3v5.8M395.4,487.2l4.1,4.1M395.4,491.3l4.1,-4.1M395.8,480.3h5.8M398.7,477.4v5.8M396.7,478.3l4.1,4.1M396.7,482.3l4.1,-4.1M397.1,471.3h5.8M400.0,468.4v5.8M398.0,469.3l4.1,4.1M398.0,473.4l4.1,-4.1M398.4,462.5h5.8M401.3,459.6v5.8M399.3,460.5l4.1,4.1M399.3,464.5l4.1,-4.1M399.7,454.0h5.8M402.6,451.1v5.8M400.6,452.0l4.1,4.1M400.6,456.0l4.1,-4.1M401.0,445.7h5.8M403.9,442.8v5.8M401.9,443.7l4.1,4.1M401.9,447.7l4.1,-4.1M402.3,437.4h5.8M405.2,434.5v5.8M403.2,435.4l4.1,4.1M403.2,439.4l4.1,-4.1M403.6,428.9h5.8M406.5,426.0v5.8M404.5,426.9l4.1,4.1M404.5,430.9l4.1,-4.1M404.9,420.0h5.8M407.8,417.1v5.8M405.8,417.9l4.1,4.1M405.8,422.0l4.1,-4.1M406.2,410.4h5.8M409.1,407.5v5.8M407.1,408.4l4.1,4.1M407.1,412.4l4.1,-4.1M407.5,400.0h5.8M410.4,397.1v5.8M408.4,398.0l4.1,4.1M408.4,402.0l4.1,-4.1M408.8,388.0h5.8M411.7,385.1v5.8M409.7,386.0l4.1,4.1M409.7,390.0l4.1,-4.1M410.1,374.2h5.8M413.0,371.3v5.8M411.0,372.2l4.1,4.1M411.0,376.3l4.1,-4.1M411.5,359.5h5.8M414.4,356.6v5.8M412.3,357.5l4.1,4.1M412.3,361.5l4.1,-4.1M412.8,344.6h5.8M415.7,341.7v5.8M413.6,342.6l4.1,4.1M413.6,346.7l4.1,-4.1M414.1,330.4h5.8M417.0,327.5v5.8M414.9,328.4l4.1,4.1M414.9,332.4l4.1,-4.1M415.4,317.6h5.8M418.3,314.7v5.8M416.2,315.6l4.1,4.1M416.2,319.7l4.1,-4.1M416.7,306.4h5.8M419.6,303.5v5.8M417.5,304.3l4.1,4.1M417.5,308.4l4.1,-4.1M418.0,295.9h5.8M420.9,293.0v5.8M418.8,293.9l4.1,4.1M418.8,298.0l4.1,-4.1M419.3,286.0h5.8M422.2,283.1v5.8M420.1,283.9l4.1,4.1M420.1,288.0l4.1,-4.1M420.6,276.1h5.8M423.5,273.2v5.8M421.4,274.1l4.1,4.1M421.4,278.1l4.1,-4.1M421.9,265.9h5.8M424.8,263.0v5.8M422.8,263.9l4.1,4.1M422.8,268.0l4.1,-4.1M423.2,255.1h5.8M426.1,252.2v5.8M424.1,253.1l4.1,4.1M424.1,257.2l4.1,-4.1M424.5,244.1h5.8M427.4,241.2v5.8M425.4,242.1l4.1,4.1M425.4,246.2l4.1,-4.1M425.8,233.2h5.8M428.7,230.3v5.8M426.7,231.1l4.1,4.1M426.7,235.2l4.1,-4.1M427.1,221.3h5.8M430.0,218.4v5.8M428.0,219.2l4.1,4.1M428.0,223.3l4.1,-4.1M428.4,207.6h5.8M431.3,204.7v5.8M429.3,205.6l4.1,4.1M429.3,209.6l4.1,-4.1M429.7,189.1h5.8M432.6,186.2v5.8M430.6,187.1l4.1,4.1M430.6,191.2l4.1,-4.1M431.0,167.8h5.8M433.9,164.9v5.8M431.9,165.8l4.1,4.1M431.9,169.9l4.1,-4.1M432.3,154.1h5.8M435.2,151.2v5.8M433.2,152.1l4.1,4.1M433.2,156.1l4.1,-4.1M433.6,142.8h5.8M436.5,139.9v5.8M434.5,140.8l4.1,4.1M434.5,144.9l4.1,-4.1M434.9,133.0h5.8M437.8,130.1v5.8M435.8,131.0l4.1,4.1M435.8,135.1l4.1,-4.1M436.2,123.9h5.8M439.1,121.0v5.8M437.1,121.8l4.1,4.1M437.1,125.9l4.1,-4.1M437.5,114.5h5.8M440.4,111.6v5.8M438.4,112.5l4.1,4.1M438.4,116.6l4.1,-4.1M438.8,104.2h5.8M441.7,101.3v5.8M439.7,102.2l4.1,4.1M439.7,106.2l4.1,-4.1M440.1,93.2h5.8M443.0,90.3v5.8M441.0,91.1l4.1,4.1M441.0,95.2l4.1,-4.1M441.4,82.3h5.8M444.3,79.4v5.8M442.3,80.3l4.1,4.1M442.3,84.4l4.1,-4.1M442.7,72.7h5.8M445.6,69.8v5.8M443.6,70.7l4.1,4.1M443.6,74.7l4.1,-4.1M444.0,65.3h5.8M446.9,62.4v5.8M444.9,63.3l4.1,4.1M444.9,67.3l4.1,-4.1M445.3,59.2h5.8M448.2,56.3v5.8M446.2,57.2l4.1,4.1M446.2,61.2l4.1,-4.1M446.6,53.3h5.8M449.5,50.4v5.8M447.5,51.2l4.1,4.1M447.5,55.3l4.1,-4.1M448.0,47.9h5.8M450.9,45.0v5.8M448.8,45.9l4.1,4.1M448.8,49.9l4.1,-4.1M449.3,43.5h5.8M452.2,40.6v5.8M450.1,41.5l4.1,4.1M450.1,45.5l4.1,-4.1M450.6,40.4h5.8M453.5,37.5v5.8M451.4,38.4l4.1,4.1M451.4,42.4l4.1,-4.1M451.9,39.0h5.8M454.8,36.1v5.8M452.7,37.0l4.1,4.1M452.7,41.1l4.1,-4.1M453.2,39.5h5.8M456.1,36.6v5.8M454.0,37.5l4.1,4.1M454.0,41.6l4.1,-4.1M454.5,41.5h5.8M457.4,38.6v5.8M455.3,39.5l4.1,4.1M455.3,43.5l4.1,-4.1M455.8,44.6h5.8M458.7,41.7v5.8M456.6,42.6l4.1,4.1M456.6,46.7l4.1,-4.1M457.1,48.7h5.8M460.0,45.8v5.8M457.9,46.6l4.1,4.1M457.9,50.7l4.1,-4.1M458.4,53.3h5.8M461.3,50.4v5.8M459.3,51.3l4.1,4.1M459.3,55.4l4.1,-4.1M459.7,58.4h5.8M462.6,55.5v5.8M460.6,56.4l4.1,4.1M460.6,60.4l4.1,-4.1M461.0,63.5h5.8M463.9,60.6v5.8M461.9,61.5l4.1,4.1M461.9,65.6l4.1,-4.1M462.3,68.9h5.8M465.2,66.0v5.8M463.2,66.8l4.1,4.1M463.2,70.9l4.1,-4.1M463.6,75.5h5.8M466.5,72.6v5.8M464.5,73.5l4.1,4.1M464.5,77.6l4.1,-4.1M464.9,83.1h5.8M467.8,80.2v5.8M465.8,81.1l4.1,4.1M465.8,85.2l4.1,-4.1M466.2,91.1h5.8M469.1,88.2v5.8M467.1,89.1l4.1,4.1M467.1,93.2l4.1,-4.1M467.5,99.0h5.8M470.4,96.1v5.8M468.4,96.9l4.1,4.1M468.4,101.0l4.1,-4.1M468.8,106.5h5.8M471.7,103.6v5.8M469.7,104.5l4.1,4.1M469.7,108.5l4.1,-4.1M470.1,114.1h5.8M473.0,111.2v5.8M471.0,112.1l4.1,4.1M471.0,116.1l4.1,-4.1M471.4,121.8h5.8M474.3,118.9v5.8M472.3,119.7l4.1,4.1M472.3,123.8l4.1,-4.1M472.7,129.5h5.8M475.6,126.6v5.8M473.6,127.5l4.1,4.1M473.6,131.6l4.1,-4.1M474.0,137.5h5.8M476.9,134.6v5.8M474.9,135.4l4.1,4.1M474.9,139.5l4.1,-4.1M475.3,145.5h5.8M478.2,142.6v5.8M476.2,143.5l4.1,4.1M476.2,147.6l4.1,-4.1M476.6,153.9h5.8M479.5,151.0v5.8M477.5,151.8l4.1,4.1M477.5,155.9l4.1,-4.1M477.9,162.6h5.8M480.8,159.7v5.8M478.8,160.5l4.1,4.1M478.8,164.6l4.1,-4.1M479.2,171.1h5.8M482.1,168.2v5.8M480.1,169.1l4.1,4.1M480.1,173.1l4.1,-4.1M480.5,179.5h5.8M483.4,176.6v5.8M481.4,177.4l4.1,4.1M481.4,181.5l4.1,-4.1M481.8,187.8h5.8M484.7,184.9v5.8M482.7,185.7l4.1,4.1M482.7,189.8l4.1,-4.1M483.2,195.9h5.8M486.1,193.0v5.8M484.0,193.9l4.1,4.1M484.0,197.9l4.1,-4.1M484.5,203.9h5.8M487.4,201.0v5.8M485.3,201.9l4.1,4.1M485.3,205.9l4.1,-4.1M485.8,211.8h5.8M488.7,208.9v5.8M486.6,209.7l4.1,4.1M486.6,213.8l4.1,-4.1M487.1,219.6h5.8M490.0,216.7v5.8M487.9,217.5l4.1,4.1M487.9,221.6l4.1,-4.1M488.4,227.3h5.8M491.3,224.4v5.8M489.2,225.2l4.1,4.1M489.2,229.3l4.1,-4.1M489.7,234.9h5.8M492.6,232.0v5.8M490.5,232.8l4.1,4.1M490.5,236.9l4.1,-4.1M491.0,242.3h5.8M493.9,239.4v5.8M491.8,240.2l4.1,4.1M491.8,244.3l4.1,-4.1M492.3,249.5h5.8M495.2,246.6v5.8M493.1,247.5l4.1,4.1M493.1,251.5l4.1,-4.1M493.6,256.5h5.8M496.5,253.6v5.8M494.4,254.4l4.1,4.1M494.4,258.5l4.1,-4.1M494.9,263.2h5.8M497.8,260.3v5.8M495.8,261.2l4.1,4.1M495.8,265.2l4.1,-4.1M496.2,269.7h5.8M499.1,266.8v5.8M497.1,267.7l4.1,4.1M497.1,271.8l4.1,-4.1M497.5,276.1h5.8M500.4,273.2v5.8M498.4,274.1l4.1,4.1M498.4,278.2l4.1,-4.1M498.8,282.4h5.8M501.7,279.5v5.8M499.7,280.4l4.1,4.1M499.7,284.4l4.1,-4.1M500.1,288.6h5.8M503.0,285.7v5.8M501.0,286.6l4.1,4.1M501.0,290.6l4.1,-4.1M501.4,294.8h5.8M504.3,291.9v5.8M502.3,292.8l4.1,4.1M502.3,296.8l4.1,-4.1M502.7,301.0h5.8M505.6,298.1v5.8M503.6,299.0l4.1,4.1M503.6,303.0l4.1,-4.1M504.0,307.3h5.8M506.9,304.4v5.8M504.9,305.3l4.1,4.1M504.9,309.4l4.1,-4.1M505.3,313.7h5.8M508.2,310.8v5.8M506.2,311.7l4.1,4.1M506.2,315.8l4.1,-4.1M506.6,320.2h5.8M509.5,317.3v5.8M507.5,318.2l4.1,4.1M507.5,322.3l4.1,-4.1M507.9,326.8h5.8M510.8,323.9v5.8M508.8,324.8l4.1,4.1M508.8,328.8l4.1,-4.1M509.2,333.4h5.8M512.1,330.5v5.8M510.1,331.4l4.1,4.1M510.1,335.4l4.1,-4.1M510.5,340.0h5.8M513.4,337.1v5.8M511.4,338.0l4.1,4.1M511.4,342.0l4.1,-4.1M511.8,346.6h5.8M514.7,343.7v5.8M512.7,344.6l4.1,4.1M512.7,348.7l4.1,-4.1M513.1,353.2h5.8M516.0,350.3v5.8M514.0,351.2l4.1,4.1M514.0,355.2l4.1,-4.1M514.4,359.7h5.8M517.3,356.8v5.8M515.3,357.7l4.1,4.1M515.3,361.8l4.1,-4.1M515.7,366.2h5.8M518.6,363.3v5.8M516.6,364.2l4.1,4.1M516.6,368.2l4.1,-4.1M517.0,372.6h5.8M519.9,369.7v5.8M517.9,370.5l4.1,4.1M517.9,374.6l4.1,-4.1M518.3,378.8h5.8M521.2,375.9v5.8M519.2,376.8l4.1,4.1M519.2,380.9l4.1,-4.1M519.7,385.0h5.8M522.6,382.1v5.8M520.5,382.9l4.1,4.1M520.5,387.0l4.1,-4.1M521.0,390.9h5.8M523.9,388.0v5.8M521.8,388.9l4.1,4.1M521.8,393.0l4.1,-4.1M522.3,396.7h5.8M525.2,393.8v5.8M523.1,394.7l4.1,4.1M523.1,398.7l4.1,-4.1M523.6,402.3h5.8M526.5,399.4v5.8M524.4,400.3l4.1,4.1M524.4,404.3l4.1,-4.1M524.9,407.7h5.8M527.8,404.8v5.8M525.7,405.7l4.1,4.1M525.7,409.7l4.1,-4.1M526.2,412.9h5.8M529.1,410.0v5.8M527.0,410.9l4.1,4.1M527.0,414.9l4.1,-4.1M527.5,418.0h5.8M530.4,415.1v5.8M528.3,415.9l4.1,4.1M528.3,420.0l4.1,-4.1M528.8,422.9h5.8M531.7,420.0v5.8M529.6,420.9l4.1,4.1M529.6,425.0l4.1,-4.1M530.1,427.8h5.8M533.0,424.9v5.8M530.9,425.8l4.1,4.1M530.9,429.8l4.1,-4.1M531.4,432.7h5.8M534.3,429.8v5.8M532.3,430.6l4.1,4.1M532.3,434.7l4.1,-4.1M532.7,437.5h5.8M535.6,434.6v5.8M533.6,435.5l4.1,4.1M533.6,439.6l4.1,-4.1M534.0,442.4h5.8M536.9,439.5v5.8M534.9,440.4l4.1,4.1M534.9,444.5l4.1,-4.1M535.3,447.4h5.8M538.2,444.5v5.8M536.2,445.4l4.1,4.1M536.2,449.4l4.1,-4.1M536.6,452.5h5.8M539.5,449.6v5.8M537.5,450.5l4.1,4.1M537.5,454.5l4.1,-4.1M537.9,457.7h5.8M540.8,454.8v5.8M538.8,455.7l4.1,4.1M538.8,459.8l4.1,-4.1M539.2,463.2h5.8M542.1,460.3v5.8M540.1,461.1l4.1,4.1M540.1,465.2l4.1,-4.1M540.5,468.6h5.8M543.4,465.7v5.8M541.4,466.5l4.1,4.1M541.4,470.6l4.1,-4.1M541.8,473.9h5.8M544.7,471.0v5.8M542.7,471.8l4.1,4.1M542.7,475.9l4.1,-4.1M543.1,479.0h5.8M546.0,476.1v5.8M544.0,476.9l4.1,4.1M544.0,481.0l4.1,-4.1M544.4,484.0h5.8M547.3,481.1v5.8M545.3,482.0l4.1,4.1M545.3,486.1l4.1,-4.1M545.7,489.1h5.8M548.6,486.2v5.8M546.6,487.1l4.1,4.1M546.6,491.1l4.1,-4.1M547.0,494.1h5.8M549.9,491.2v5.8M547.9,492.0l4.1,4.1M547.9,496.1l4.1,-4.1M548.3,499.0h5.8M551.2,496.1v5.8M549.2,497.0l4.1,4.1M549.2,501.1l4.1,-4.1M549.6,504.0h5.8M552.5,501.1v5.8M550.5,501.9l4.1,4.1M550.5,506.0l4.1,-4.1M550.9,508.8h5.8M553.8,505.9v5.8M551.8,506.8l4.1,4.1M551.8,510.8l4.1,-4.1M552.2,513.6h5.8M555.1,510.7v5.8M553.1,511.6l4.1,4.1M553.1,515.7l4.1,-4.1M553.5,518.4h5.8M556.4,515.5v5.8M554.4,516.4l4.1,4.1M554.4,520.4l4.1,-4.1M554.8,523.1h5.8M557.7,520.2v5.8M555.7,521.1l4.1,4.1M555.7,525.1l4.1,-4.1M556.2,527.7h5.8M559.1,524.8v5.8M557.0,525.7l4.1,4.1M557.0,529.7l4.1,-4.1M557.5,532.3h5.8M560.4,529.4v5.8M558.3,530.3l4.1,4.1M558.3,534.3l4.1,-4.1M558.8,536.8h5.8M561.7,533.9v5.8M559.6,534.7l4.1,4.1M559.6,538.8l4.1,-4.1M560.1,541.2h5.8M563.0,538.3v5.8M560.9,539.2l4.1,4.1M560.9,543.2l4.1,-4.1M561.4,536.7h5.8M564.3,533.8v5.8M562.2,534.6l4.1,4.1M562.2,538.7l4.1,-4.1M562.7,530.0h5.8M565.6,527.1v5.8M563.5,528.0l4.1,4.1M563.5,532.1l4.1,-4.1M564.0,523.3h5.8M566.9,520.4v5.8M564.8,521.3l4.1,4.1M564.8,525.3l4.1,-4.1M565.3,516.5h5.8M568.2,513.6v5.8M566.1,514.4l4.1,4.1M566.1,518.5l4.1,-4.1M566.6,509.5h5.8M569.5,506.6v5.8M567.5,507.5l4.1,4.1M567.5,511.5l4.1,-4.1M567.9,502.5h5.8M570.8,499.6v5.8M568.8,500.4l4.1,4.1M568.8,504.5l4.1,-4.1M569.2,495.3h5.8M572.1,492.4v5.8M570.1,493.3l4.1,4.1M570.1,497.3l4.1,-4.1M570.5,488.1h5.8M573.4,485.2v5.8M571.4,486.0l4.1,4.1M571.4,490.1l4.1,-4.1M571.8,480.7h5.8M574.7,477.8v5.8M572.7,478.7l4.1,4.1M572.7,482.8l4.1,-4.1M573.1,473.3h5.8M576.0,470.4v5.8M574.0,471.3l4.1,4.1M574.0,475.3l4.1,-4.1M574.4,466.0h5.8M577.3,463.1v5.8M575.3,464.0l4.1,4.1M575.3,468.0l4.1,-4.1M575.7,458.8h5.8M578.6,455.9v5.8M576.6,456.8l4.1,4.1M576.6,460.8l4.1,-4.1M577.0,451.6h5.8M579.9,448.7v5.8M577.9,449.6l4.1,4.1M577.9,453.6l4.1,-4.1M578.3,444.3h5.8M581.2,441.4v5.8M579.2,442.3l4.1,4.1M579.2,446.3l4.1,-4.1M579.6,436.7h5.8M582.5,433.8v5.8M580.5,434.7l4.1,4.1M580.5,438.8l4.1,-4.1M580.9,428.8h5.8M583.8,425.9v5.8M581.8,426.8l4.1,4.1M581.8,430.8l4.1,-4.1M582.2,420.4h5.8M585.1,417.5v5.8M583.1,418.4l4.1,4.1M583.1,422.4l4.1,-4.1M583.5,411.4h5.8M586.4,408.5v5.8M584.4,409.3l4.1,4.1M584.4,413.4l4.1,-4.1M584.8,401.6h5.8M587.7,398.7v5.8M585.7,399.6l4.1,4.1M585.7,403.6l4.1,-4.1M586.1,390.8h5.8M589.0,387.9v5.8M587.0,388.8l4.1,4.1M587.0,392.9l4.1,-4.1M587.4,378.7h5.8M590.3,375.8v5.8M588.3,376.7l4.1,4.1M588.3,380.8l4.1,-4.1M588.7,365.4h5.8M591.6,362.5v5.8M589.6,363.4l4.1,4.1M589.6,367.5l4.1,-4.1M590.0,351.1h5.8M592.9,348.2v5.8M590.9,349.1l4.1,4.1M590.9,353.1l4.1,-4.1M591.3,335.9h5.8M594.2,333.0v5.8M592.2,333.9l4.1,4.1M592.2,338.0l4.1,-4.1M592.7,320.0h5.8M595.6,317.1v5.8M593.5,318.0l4.1,4.1M593.5,322.1l4.1,-4.1M594.0,303.0h5.8M596.9,300.1v5.8M594.8,300.9l4.1,4.1M594.8,305.0l4.1,-4.1M595.3,284.1h5.8M598.2,281.2v5.8M596.1,282.1l4.1,4.1M596.1,286.1l4.1,-4.1M596.6,264.0h5.8M599.5,261.1v5.8M597.4,261.9l4.1,4.1M597.4,266.0l4.1,-4.1M597.9,242.7h5.8M600.8,239.8v5.8M598.7,240.7l4.1,4.1M598.7,244.7l4.1,-4.1M599.2,217.1h5.8M602.1,214.2v5.8M600.0,215.0l4.1,4.1M600.0,219.1l4.1,-4.1M600.5,194.2h5.8M603.4,191.3v5.8M601.3,192.2l4.1,4.1M601.3,196.2l4.1,-4.1M601.8,180.3h5.8M604.7,177.4v5.8M602.6,178.3l4.1,4.1M602.6,182.3l4.1,-4.1M603.1,168.6h5.8M606.0,165.7v5.8M604.0,166.6l4.1,4.1M604.0,170.7l4.1,-4.1M604.4,161.0h5.8M607.3,158.1v5.8M605.3,159.0l4.1,4.1M605.3,163.1l4.1,-4.1M605.7,160.3h5.8M608.6,157.4v5.8M606.6,158.2l4.1,4.1M606.6,162.3l4.1,-4.1M607.0,168.6h5.8M609.9,165.7v5.8M607.9,166.5l4.1,4.1M607.9,170.6l4.1,-4.1M608.3,182.8h5.8M611.2,179.9v5.8M609.2,180.8l4.1,4.1M609.2,184.8l4.1,-4.1M609.6,204.2h5.8M612.5,201.3v5.8M610.5,202.2l4.1,4.1M610.5,206.2l4.1,-4.1M610.9,239.1h5.8M613.8,236.2v5.8M611.8,237.1l4.1,4.1M611.8,241.1l4.1,-4.1M612.2,270.7h5.8M615.1,267.8v5.8M613.1,268.7l4.1,4.1M613.1,272.7l4.1,-4.1M613.5,301.1h5.8M616.4,298.2v5.8M614.4,299.0l4.1,4.1M614.4,303.1l4.1,-4.1M614.8,324.9h5.8M617.7,322.0v5.8M615.7,322.9l4.1,4.1M615.7,326.9l4.1,-4.1M616.1,344.4h5.8M619.0,341.5v5.8M617.0,342.4l4.1,4.1M617.0,346.4l4.1,-4.1M617.4,361.6h5.8M620.3,358.7v5.8M618.3,359.5l4.1,4.1M618.3,363.6l4.1,-4.1M618.7,376.9h5.8M621.6,374.0v5.8M619.6,374.9l4.1,4.1M619.6,378.9l4.1,-4.1M620.0,390.8h5.8M622.9,387.9v5.8M620.9,388.8l4.1,4.1M620.9,392.8l4.1,-4.1M621.3,403.6h5.8M624.2,400.7v5.8M622.2,401.6l4.1,4.1M622.2,405.7l4.1,-4.1M622.6,415.3h5.8M625.5,412.4v5.8M623.5,413.3l4.1,4.1M623.5,417.4l4.1,-4.1M623.9,426.0h5.8M626.8,423.1v5.8M624.8,424.0l4.1,4.1M624.8,428.1l4.1,-4.1M625.2,436.0h5.8M628.1,433.1v5.8M626.1,434.0l4.1,4.1M626.1,438.0l4.1,-4.1M626.5,445.6h5.8M629.4,442.7v5.8M627.4,443.5l4.1,4.1M627.4,447.6l4.1,-4.1M627.8,455.0h5.8M630.7,452.1v5.8M628.7,453.0l4.1,4.1M628.7,457.0l4.1,-4.1M629.2,464.6h5.8M632.1,461.7v5.8M630.0,462.6l4.1,4.1M630.0,466.6l4.1,-4.1M630.5,474.5h5.8M633.4,471.6v5.8M631.3,472.5l4.1,4.1M631.3,476.6l4.1,-4.1M631.8,484.4h5.8M634.7,481.5v5.8M632.6,482.4l4.1,4.1M632.6,486.4l4.1,-4.1M633.1,494.2h5.8M636.0,491.3v5.8M633.9,492.2l4.1,4.1M633.9,496.2l4.1,-4.1M634.4,503.9h5.8M637.3,501.0v5.8M635.2,501.9l4.1,4.1M635.2,506.0l4.1,-4.1M635.7,513.5h5.8M638.6,510.6v5.8M636.5,511.5l4.1,4.1M636.5,515.6l4.1,-4.1M637.0,523.1h5.8M639.9,520.2v5.8M637.8,521.1l4.1,4.1M637.8,525.1l4.1,-4.1M638.3,532.5h5.8M641.2,529.6v5.8M639.1,530.5l4.1,4.1M639.1,534.6l4.1,-4.1M639.6,527.4h5.8M642.5,524.5v5.8M640.5,525.4l4.1,4.1M640.5,529.5l4.1,-4.1M640.9,522.2h5.8M643.8,519.3v5.8M641.8,520.1l4.1,4.1M641.8,524.2l4.1,-4.1M642.2,516.9h5.8M645.1,514.0v5.8M643.1,514.9l4.1,4.1M643.1,519.0l4.1,-4.1M643.5,511.8h5.8M646.4,508.9v5.8M644.4,509.8l4.1,4.1M644.4,513.8l4.1,-4.1M644.8,506.7h5.8M647.7,503.8v5.8M645.7,504.7l4.1,4.1M645.7,508.8l4.1,-4.1M646.1,501.8h5.8M649.0,498.9v5.8M647.0,499.7l4.1,4.1M647.0,503.8l4.1,-4.1M647.4,496.8h5.8M650.3,493.9v5.8M648.3,494.8l4.1,4.1M648.3,498.9l4.1,-4.1M648.7,492.0h5.8M651.6,489.1v5.8M649.6,489.9l4.1,4.1M649.6,494.0l4.1,-4.1M650.0,487.2h5.8M652.9,484.3v5.8M650.9,485.1l4.1,4.1M650.9,489.2l4.1,-4.1M651.3,482.4h5.8M654.2,479.5v5.8M652.2,480.4l4.1,4.1M652.2,484.5l4.1,-4.1M652.6,477.8h5.8M655.5,474.9v5.8M653.5,475.7l4.1,4.1M653.5,479.8l4.1,-4.1M653.9,473.1h5.8M656.8,470.2v5.8M654.8,471.1l4.1,4.1M654.8,475.2l4.1,-4.1M655.2,468.6h5.8M658.1,465.7v5.8M656.1,466.6l4.1,4.1M656.1,470.6l4.1,-4.1M656.5,464.1h5.8M659.4,461.2v5.8M657.4,462.1l4.1,4.1M657.4,466.1l4.1,-4.1M657.8,459.7h5.8M660.7,456.8v5.8M658.7,457.6l4.1,4.1M658.7,461.7l4.1,-4.1M659.1,455.3h5.8M662.0,452.4v5.8M660.0,453.3l4.1,4.1M660.0,457.3l4.1,-4.1M660.4,451.0h5.8M663.3,448.1v5.8M661.3,449.0l4.1,4.1M661.3,453.0l4.1,-4.1M661.7,446.7h5.8M664.6,443.8v5.8M662.6,444.7l4.1,4.1M662.6,448.8l4.1,-4.1M663.0,442.5h5.8M665.9,439.6v5.8M663.9,440.5l4.1,4.1M663.9,444.5l4.1,-4.1M664.4,438.4h5.8M667.3,435.5v5.8M665.2,436.3l4.1,4.1M665.2,440.4l4.1,-4.1M665.7,434.3h5.8M668.6,431.4v5.8M666.5,432.2l4.1,4.1M666.5,436.3l4.1,-4.1M667.0,430.2h5.8M669.9,427.3v5.8M667.8,428.2l4.1,4.1M667.8,432.2l4.1,-4.1M668.3,426.2h5.8M671.2,423.3v5.8M669.1,424.2l4.1,4.1M669.1,428.2l4.1,-4.1M669.6,422.2h5.8M672.5,419.3v5.8M670.4,420.2l4.1,4.1M670.4,424.3l4.1,-4.1M670.9,418.3h5.8M673.8,415.4v5.8M671.7,416.3l4.1,4.1M671.7,420.4l4.1,-4.1M672.2,414.5h5.8M675.1,411.6v5.8M673.0,412.4l4.1,4.1M673.0,416.5l4.1,-4.1M673.5,410.7h5.8M676.4,407.8v5.8M674.3,408.6l4.1,4.1M674.3,412.7l4.1,-4.1M674.8,406.9h5.8M677.7,404.0v5.8M675.6,404.9l4.1,4.1M675.6,408.9l4.1,-4.1M676.1,403.2h5.8M679.0,400.3v5.8M677.0,401.1l4.1,4.1M677.0,405.2l4.1,-4.1M677.4,399.5h5.8M680.3,396.6v5.8M678.3,397.4l4.1,4.1M678.3,401.5l4.1,-4.1M678.7,395.8h5.8M681.6,392.9v5.8M679.6,393.8l4.1,4.1M679.6,397.9l4.1,-4.1M680.0,392.2h5.8M682.9,389.3v5.8M680.9,390.2l4.1,4.1M680.9,394.3l4.1,-4.1M681.3,388.7h5.8M684.2,385.8v5.8M682.2,386.6l4.1,4.1M682.2,390.7l4.1,-4.1M682.6,385.2h5.8M685.5,382.3v5.8M683.5,383.1l4.1,4.1M683.5,387.2l4.1,-4.1M683.9,381.7h5.8M686.8,378.8v5.8M684.8,379.6l4.1,4.1M684.8,383.7l4.1,-4.1M685.2,378.2h5.8M688.1,375.3v5.8M686.1,376.2l4.1,4.1M686.1,380.3l4.1,-4.1M686.5,374.8h5.8M689.4,371.9v5.8M687.4,372.8l4.1,4.1M687.4,376.8l4.1,-4.1M687.8,371.4h5.8M690.7,368.5v5.8M688.7,369.4l4.1,4.1M688.7,373.5l4.1,-4.1M689.1,368.1h5.8M692.0,365.2v5.8M690.0,366.1l4.1,4.1M690.0,370.1l4.1,-4.1M690.4,364.8h5.8M693.3,361.9v5.8M691.3,362.8l4.1,4.1M691.3,366.8l4.1,-4.1M691.7,361.5h5.8M694.6,358.6v5.8M692.6,359.5l4.1,4.1M692.6,363.6l4.1,-4.1M693.0,358.3h5.8M695.9,355.4v5.8M693.9,356.3l4.1,4.1M693.9,360.3l4.1,-4.1M694.3,355.1h5.8M697.2,352.2v5.8M695.2,353.1l4.1,4.1M695.2,357.1l4.1,-4.1M695.6,351.9h5.8M698.5,349.0v5.8M696.5,349.9l4.1,4.1M696.5,353.9l4.1,-4.1M696.9,348.8h5.8M699.8,345.9v5.8M697.8,346.7l4.1,4.1M697.8,350.8l4.1,-4.1M698.2,345.6h5.8M701.1,342.7v5.8M699.1,343.6l4.1,4.1M699.1,347.7l4.1,-4.1M699.5,342.6h5.8M702.4,339.7v5.8M700.4,340.5l4.1,4.1M700.4,344.6l4.1,-4.1M700.9,339.5h5.8M703.8,336.6v5.8M701.7,337.5l4.1,4.1M701.7,341.5l4.1,-4.1M702.2,336.5h5.8M705.1,333.6v5.8M703.0,334.4l4.1,4.1M703.0,338.5l4.1,-4.1M703.5,333.5h5.8M706.4,330.6v5.8M704.3,331.4l4.1,4.1M704.3,335.5l4.1,-4.1M704.8,330.5h5.8M707.7,327.6v5.8M705.6,328.4l4.1,4.1M705.6,332.5l4.1,-4.1M706.1,327.5h5.8M709.0,324.6v5.8M706.9,325.5l4.1,4.1M706.9,329.5l4.1,-4.1M707.4,324.6h5.8M710.3,321.7v5.8M708.2,322.5l4.1,4.1M708.2,326.6l4.1,-4.1M708.7,321.7h5.8M711.6,318.8v5.8M709.5,319.6l4.1,4.1M709.5,323.7l4.1,-4.1M710.0,318.8h5.8M712.9,315.9v5.8M710.8,316.8l4.1,4.1M710.8,320.8l4.1,-4.1M711.3,315.9h5.8M714.2,313.0v5.8M712.1,313.9l4.1,4.1M712.1,317.9l4.1,-4.1M712.6,313.1h5.8M715.5,310.2v5.8M713.5,311.0l4.1,4.1M713.5,315.1l4.1,-4.1M713.9,310.2h5.8M716.8,307.3v5.8M714.8,308.2l4.1,4.1M714.8,312.3l4.1,-4.1M715.2,307.4h5.8M718.1,304.5v5.8M716.1,305.4l4.1,4.1M716.1,309.5l4.1,-4.1M716.5,304.7h5.8M719.4,301.8v5.8M717.4,302.6l4.1,4.1M717.4,306.7l4.1,-4.1M717.8,301.9h5.8M720.7,299.0v5.8M718.7,299.9l4.1,4.1M718.7,303.9l4.1,-4.1M719.1,299.2h5.8M722.0,296.3v5.8M720.0,297.1l4.1,4.1M720.0,301.2l4.1,-4.1M720.4,296.4h5.8M723.3,293.5v5.8M721.3,294.4l4.1,4.1M721.3,298.5l4.1,-4.1M721.7,293.7h5.8M724.6,290.8v5.8M722.6,291.7l4.1,4.1M722.6,295.7l4.1,-4.1M723.0,291.0h5.8M725.9,288.1v5.8M723.9,289.0l4.1,4.1M723.9,293.1l4.1,-4.1M724.3,288.4h5.8M727.2,285.5v5.8M725.2,286.3l4.1,4.1M725.2,290.4l4.1,-4.1M725.6,285.7h5.8M728.5,282.8v5.8M726.5,283.7l4.1,4.1M726.5,287.7l4.1,-4.1M726.9,283.0h5.8M729.8,280.1v5.8M727.8,281.0l4.1,4.1M727.8,285.1l4.1,-4.1M728.2,280.4h5.8M731.1,277.5v5.8M729.1,278.4l4.1,4.1M729.1,282.4l4.1,-4.1M729.5,277.8h5.8M732.4,274.9v5.8M730.4,275.8l4.1,4.1M730.4,279.8l4.1,-4.1M730.8,275.2h5.8M733.7,272.3v5.8M731.7,273.2l4.1,4.1M731.7,277.2l4.1,-4.1M732.1,272.6h5.8M735.0,269.7v5.8M733.0,270.6l4.1,4.1M733.0,274.6l4.1,-4.1M733.4,270.0h5.8M736.3,267.1v5.8M734.3,268.0l4.1,4.1M734.3,272.1l4.1,-4.1M734.7,267.5h5.8M737.6,264.6v5.8M735.6,265.4l4.1,4.1M735.6,269.5l4.1,-4.1M736.0,264.9h5.8M738.9,262.0v5.8M736.9,262.9l4.1,4.1M736.9,266.9l4.1,-4.1M737.4,262.4h5.8M740.3,259.5v5.8M738.2,260.3l4.1,4.1M738.2,264.4l4.1,-4.1M738.7,259.8h5.8M741.6,256.9v5.8M739.5,257.8l4.1,4.1M739.5,261.9l4.1,-4.1M740.0,257.3h5.8M742.9,254.4v5.8M740.8,255.3l4.1,4.1M740.8,259.3l4.1,-4.1M741.3,254.8h5.8M744.2,251.9v5.8M742.1,252.8l4.1,4.1M742.1,256.8l4.1,-4.1M742.6,252.3h5.8M745.5,249.4v5.8M743.4,250.3l4.1,4.1M743.4,254.3l4.1,-4.1M743.9,249.8h5.8M746.8,246.9v5.8M744.7,247.8l4.1,4.1M744.7,251.9l4.1,-4.1M745.2,247.3h5.8M748.1,244.4v5.8M746.0,245.3l4.1,4.1M746.0,249.4l4.1,-4.1M746.5,244.9h5.8M749.4,242.0v5.8M747.3,242.8l4.1,4.1M747.3,246.9l4.1,-4.1M747.8,242.4h5.8M750.7,239.5v5.8M748.7,240.4l4.1,4.1M748.7,244.4l4.1,-4.1M749.1,240.0h5.8M752.0,237.1v5.8M750.0,237.9l4.1,4.1M750.0,242.0l4.1,-4.1M750.4,237.5h5.8M753.3,234.6v5.8M751.3,235.5l4.1,4.1M751.3,239.5l4.1,-4.1M751.7,235.1h5.8M754.6,232.2v5.8M752.6,233.0l4.1,4.1M752.6,237.1l4.1,-4.1M753.0,232.6h5.8M755.9,229.7v5.8M753.9,230.6l4.1,4.1M753.9,234.7l4.1,-4.1M754.3,230.2h5.8M757.2,227.3v5.8M755.2,228.2l4.1,4.1M755.2,232.2l4.1,-4.1M755.6,227.8h5.8M758.5,224.9v5.8M756.5,225.8l4.1,4.1M756.5,229.8l4.1,-4.1M756.9,225.4h5.8M759.8,222.5v5.8M757.8,223.3l4.1,4.1M757.8,227.4l4.1,-4.1M758.2,223.0h5.8M761.1,220.1v5.8M759.1,220.9l4.1,4.1M759.1,225.0l4.1,-4.1M759.5,220.6h5.8M762.4,217.7v5.8M760.4,218.5l4.1,4.1M760.4,222.6l4.1,-4.1M760.8,218.2h5.8M763.7,215.3v5.8M761.7,216.1l4.1,4.1M761.7,220.2l4.1,-4.1M762.1,215.8h5.8M765.0,212.9v5.8M763.0,213.8l4.1,4.1M763.0,217.8l4.1,-4.1M763.4,213.4h5.8M766.3,210.5v5.8M764.3,211.4l4.1,4.1M764.3,215.4l4.1,-4.1M764.7,211.0h5.8M767.6,208.1v5.8M765.6,209.0l4.1,4.1M765.6,213.1l4.1,-4.1M766.0,208.7h5.8M768.9,205.8v5.8M766.9,206.6l4.1,4.1M766.9,210.7l4.1,-4.1M767.3,206.3h5.8M770.2,203.4v5.8M768.2,204.3l4.1,4.1M768.2,208.3l4.1,-4.1M768.6,203.9h5.8M771.5,201.0v5.8M769.5,201.9l4.1,4.1M769.5,206.0l4.1,-4.1M769.9,201.6h5.8M772.8,198.7v5.8M770.8,199.5l4.1,4.1M770.8,203.6l4.1,-4.1M771.2,199.2h5.8M774.1,196.3v5.8M772.1,197.2l4.1,4.1M772.1,201.2l4.1,-4.1M772.5,196.9h5.8M775.4,194.0v5.8M773.4,194.8l4.1,4.1M773.4,198.9l4.1,-4.1M773.9,194.5h5.8M776.8,191.6v5.8M774.7,192.5l4.1,4.1M774.7,196.5l4.1,-4.1M775.2,192.2h5.8M778.1,189.3v5.8M776.0,190.1l4.1,4.1M776.0,194.2l4.1,-4.1M776.5,189.8h5.8M779.4,186.9v5.8M777.3,187.8l4.1,4.1M777.3,191.9l4.1,-4.1M777.8,187.5h5.8M780.7,184.6v5.8M778.6,185.5l4.1,4.1M778.6,189.5l4.1,-4.1M779.1,185.2h5.8M782.0,182.3v5.8M779.9,183.1l4.1,4.1M779.9,187.2l4.1,-4.1M780.4,182.8h5.8M783.3,179.9v5.8M781.2,180.8l4.1,4.1M781.2,184.9l4.1,-4.1M781.7,180.5h5.8M784.6,177.6v5.8M782.5,178.5l4.1,4.1M782.5,182.6l4.1,-4.1M783.0,178.2h5.8M785.9,175.3v5.8M783.8,176.2l4.1,4.1M783.8,180.2l4.1,-4.1M784.3,175.9h5.8M787.2,173.0v5.8M785.2,173.9l4.1,4.1M785.2,177.9l4.1,-4.1M785.6,173.6h5.8M788.5,170.7v5.8M786.5,171.5l4.1,4.1M786.5,175.6l4.1,-4.1M786.9,171.3h5.8M789.8,168.4v5.8M787.8,169.2l4.1,4.1M787.8,173.3l4.1,-4.1M788.2,169.0h5.8M791.1,166.1v5.8M789.1,166.9l4.1,4.1M789.1,171.0l4.1,-4.1M789.5,166.7h5.8M792.4,163.8v5.8M790.4,164.6l4.1,4.1M790.4,168.7l4.1,-4.1M790.8,164.4h5.8M793.7,161.5v5.8M791.7,162.3l4.1,4.1M791.7,166.4l4.1,-4.1M792.1,162.1h5.8M795.0,159.2v5.8M793.0,160.0l4.1,4.1M793.0,164.1l4.1,-4.1M793.4,159.8h5.8M796.3,156.9v5.8M794.3,157.8l4.1,4.1M794.3,161.8l4.1,-4.1M794.7,157.5h5.8M797.6,154.6v5.8M795.6,155.5l4.1,4.1M795.6,159.5l4.1,-4.1M796.0,155.2h5.8M798.9,152.3v5.8M796.9,153.2l4.1,4.1M796.9,157.3l4.1,-4.1M797.3,152.9h5.8M800.2,150.0v5.8M798.2,150.9l4.1,4.1M798.2,155.0l4.1,-4.1M798.6,150.7h5.8M801.5,147.8v5.8M799.5,148.6l4.1,4.1M799.5,152.7l4.1,-4.1M799.9,148.4h5.8M802.8,145.5v5.8M800.8,146.4l4.1,4.1M800.8,150.4l4.1,-4.1M801.2,146.1h5.8M804.1,143.2v5.8M802.1,144.1l4.1,4.1M802.1,148.2l4.1,-4.1M802.5,143.9h5.8M805.4,141.0v5.8M803.4,141.9l4.1,4.1M803.4,145.9l4.1,-4.1M803.8,141.6h5.8M806.7,138.7v5.8M804.7,139.6l4.1,4.1M804.7,143.7l4.1,-4.1M805.1,139.4h5.8M808.0,136.5v5.8M806.0,137.4l4.1,4.1M806.0,141.4l4.1,-4.1M806.4,137.1h5.8M809.3,134.2v5.8M807.3,135.1l4.1,4.1M807.3,139.2l4.1,-4.1M807.7,134.9h5.8M810.6,132.0v5.8M808.6,132.9l4.1,4.1M808.6,136.9l4.1,-4.1M809.0,132.7h5.8M811.9,129.8v5.8M809.9,130.6l4.1,4.1M809.9,134.7l4.1,-4.1M810.4,130.4h5.8M813.3,127.5v5.8M811.2,128.4l4.1,4.1M811.2,132.5l4.1,-4.1M811.7,128.2h5.8M814.6,125.3v5.8M812.5,126.2l4.1,4.1M812.5,130.3l4.1,-4.1M813.0,126.0h5.8M815.9,123.1v5.8M813.8,124.0l4.1,4.1M813.8,128.0l4.1,-4.1M814.3,123.8h5.8M817.2,120.9v5.8M815.1,121.8l4.1,4.1M815.1,125.8l4.1,-4.1M815.6,121.6h5.8M818.5,118.7v5.8M816.4,119.6l4.1,4.1M816.4,123.6l4.1,-4.1M816.9,119.4h5.8M819.8,116.5v5.8M817.7,117.4l4.1,4.1M817.7,121.4l4.1,-4.1M818.2,117.2h5.8M821.1,114.3v5.8M819.0,115.2l4.1,4.1M819.0,119.2l4.1,-4.1M819.5,115.0h5.8M822.4,112.1v5.8M820.3,113.0l4.1,4.1M820.3,117.1l4.1,-4.1M820.8,112.9h5.8M823.7,110.0v5.8M821.7,110.8l4.1,4.1M821.7,114.9l4.1,-4.1M822.1,110.7h5.8M825.0,107.8v5.8M823.0,108.7l4.1,4.1M823.0,112.7l4.1,-4.1M823.4,108.5h5.8M826.3,105.6v5.8M824.3,106.5l4.1,4.1M824.3,110.6l4.1,-4.1M824.7,106.4h5.8M827.6,103.5v5.8M825.6,104.4l4.1,4.1M825.6,108.4l4.1,-4.1M826.0,104.3h5.8M828.9,101.4v5.8M826.9,102.2l4.1,4.1M826.9,106.3l4.1,-4.1M827.3,102.1h5.8M830.2,99.2v5.8M828.2,100.1l4.1,4.1M828.2,104.2l4.1,-4.1" fill="none" stroke="#ff90ff" stroke-width="0.6" stroke-opacity="0.55"/>
<path d="M105.5,305.0 L106.0,305.3 L106.5,305.7 L107.0,306.0 L107.5,306.3 L108.0,306.7 L108.5,307.0 L109.0,307.3 L109.5,307.7 L110.0,308.0 L110.5,308.4 L111.0,308.8 L111.5,309.1 L112.0,309.5 L112.5,309.9 L113.0,310.3 L113.5,310.6 L114.0,311.0 L114.5,311.4 L115.0,311.8 L115.5,312.2 L116.0,312.6 L116.5,313.0 L117.0,313.4 L117.5,313.8 L118.0,314.3 L118.5,314.7 L119.0,315.1 L119.5,315.5 L120.0,316.0 L120.5,316.4 L121.0,316.8 L121.6,317.3 L122.1,317.7 L122.6,318.2 L123.1,318.6 L123.6,319.1 L124.1,319.5 L124.6,320.0 L125.1,320.4 L125.6,320.9 L126.1,321.4 L126.6,321.8 L127.1,322.3 L127.6,322.8 L128.1,323.3 L128.6,323.7 L129.1,324.2 L129.6,324.7 L130.1,325.2 L130.6,325.7 L131.1,326.2 L131.6,326.7 L132.1,327.2 L132.6,327.7 L133.1,328.2 L133.6,328.7 L134.1,329.2 L134.6,329.7 L135.1,330.2 L135.6,330.7 L136.1,331.2 L136.6,331.8 L137.1,332.3 L137.6,332.8 L138.1,333.3 L138.6,333.9 L139.1,334.4 L139.6,334.9 L140.1,335.4 L140.6,336.0 L141.1,336.5 L141.6,337.1 L142.1,337.6 L142.6,338.1 L143.1,338.7 L143.6,339.2 L144.1,339.8 L144.6,340.3 L145.1,340.9 L145.6,341.4 L146.1,342.0 L146.6,342.5 L147.1,343.1 L147.6,343.7 L148.1,344.2 L148.6,344.8 L149.1,345.3 L149.6,345.9 L150.1,346.5 L150.6,347.0 L151.1,347.6 L151.6,348.2 L152.1,348.8 L152.6,349.3 L153.1,349.9 L153.7,350.5 L154.2,351.1 L154.7,351.6 L155.2,352.2 L155.7,352.8 L156.2,353.4 L156.7,354.0 L157.2,354.6 L157.7,355.2 L158.2,355.8 L158.7,356.3 L159.2,356.9 L159.7,357.5 L160.2,358.1 L160.7,358.7 L161.2,359.3 L161.7,359.9 L162.2,360.5 L162.7,361.1 L163.2,361.7 L163.7,362.3 L164.2,362.9 L164.7,363.5 L165.2,364.2 L165.7,364.8 L166.2,365.4 L166.7,366.0 L167.2,366.6 L167.7,367.2 L168.2,367.8 L168.7,368.5 L169.2,369.1 L169.7,369.7 L170.2,370.3 L170.7,370.9 L171.2,371.6 L171.7,372.2 L172.2,372.8 L172.7,373.5 L173.2,374.1 L173.7,374.7 L174.2,375.3 L174.7,376.0 L175.2,376.6 L175.7,377.3 L176.2,377.9 L176.7,378.5 L177.2,379.2 L177.7,379.8 L178.2,380.5 L178.7,381.1 L179.2,381.8 L179.7,382.4 L180.2,383.1 L180.7,383.7 L181.2,384.4 L181.7,385.0 L182.2,385.7 L182.7,386.3 L183.2,387.0 L183.7,387.7 L184.2,388.3 L184.7,389.0 L185.3,389.6 L185.8,390.3 L186.3,391.0 L186.8,391.7 L187.3,392.3 L187.8,393.0 L188.3,393.7 L188.8,394.4 L189.3,395.0 L189.8,395.7 L190.3,396.4 L190.8,397.1 L191.3,397.8 L191.8,398.5 L192.3,399.2 L192.8,399.9 L193.3,400.6 L193.8,401.3 L194.3,402.0 L194.8,402.7 L195.3,403.4 L195.8,404.1 L196.3,404.8 L196.8,405.5 L197.3,406.2 L197.8,406.9 L198.3,407.6 L198.8,408.4 L199.3,409.1 L199.8,409.8 L200.3,410.5 L200.8,411.3 L201.3,412.0 L201.8,412.7 L202.3,413.5 L202.8,414.2 L203.3,414.9 L203.8,415.7 L204.3,416.4 L204.8,417.2 L205.3,417.9 L205.8,418.7 L206.3,419.5 L206.8,420.2 L207.3,421.0 L207.8,421.8 L208.3,422.5 L208.8,423.3 L209.3,424.1 L209.8,424.9 L210.3,425.6 L210.8,426.4 L211.3,427.2 L211.8,428.0 L212.3,428.8 L212.8,429.6 L213.3,430.4 L213.8,431.2 L214.3,432.0 L214.8,432.8 L215.3,433.7 L215.8,434.5 L216.3,435.3 L216.9,436.1 L217.4,437.0 L217.9,437.8 L218.4,438.6 L218.9,439.5 L219.4,440.3 L219.9,441.2 L220.4,442.1 L220.9,442.9 L221.4,443.8 L221.9,444.6 L222.4,445.5 L222.9,446.4 L223.4,447.3 L223.9,448.2 L224.4,449.1 L224.9,450.0 L225.4,450.9 L225.9,451.8 L226.4,452.7 L226.9,453.6 L227.4,454.5 L227.9,455.4 L228.4,456.4 L228.9,457.3 L229.4,458.2 L229.9,459.2 L230.4,460.1 L230.9,461.1 L231.4,462.1 L231.9,463.0 L232.4,464.0 L232.9,465.0 L233.4,466.0 L233.9,467.0 L234.4,467.9 L234.9,469.0 L235.4,470.0 L235.9,471.0 L236.4,472.0 L236.9,473.0 L237.4,474.0 L237.9,475.1 L238.4,476.1 L238.9,477.2 L239.4,478.2 L239.9,479.3 L240.4,480.4 L240.9,481.4 L241.4,482.5 L241.9,483.6 L242.4,484.7 L242.9,485.8 L243.4,486.9 L243.9,488.1 L244.4,489.2 L244.9,490.3 L245.4,491.5 L245.9,492.6 L246.4,493.8 L246.9,494.9 L247.4,496.1 L247.9,497.3 L248.4,498.5 L249.0,499.6 L249.5,500.8 L250.0,502.1 L250.5,503.3 L251.0,504.5 L251.5,505.7 L252.0,507.0 L252.5,508.2 L253.0,509.5 L253.5,510.8 L254.0,512.0 L254.5,513.3 L255.0,514.6 L255.5,515.9 L256.0,517.2 L256.5,518.5 L257.0,519.9 L257.5,521.2 L258.0,522.6 L258.5,523.9 L259.0,525.3 L259.5,526.7 L260.0,528.1 L260.5,529.5 L261.0,530.9 L261.5,532.3 L262.0,533.7 L262.5,535.1 L263.0,536.6 L263.5,538.1 L264.0,539.5 L264.5,541.0 L265.0,539.8 L265.5,538.5 L266.0,537.2 L266.5,535.9 L267.0,534.6 L267.5,533.2 L268.0,531.8 L268.5,530.4 L269.0,528.9 L269.5,527.4 L270.0,525.9 L270.5,524.4 L271.0,522.8 L271.5,521.2 L272.0,519.6 L272.6,517.9 L273.1,516.3 L273.6,514.6 L274.1,512.9 L274.6,511.1 L275.1,509.3 L275.6,507.5 L276.1,505.7 L276.6,503.8 L277.1,502.0 L277.6,500.1 L278.1,498.1 L278.6,496.1 L279.1,494.1 L279.6,492.1 L280.1,490.0 L280.6,487.9 L281.1,485.8 L281.6,483.7 L282.1,481.5 L282.6,479.3 L283.1,477.0 L283.6,474.8 L284.1,472.5 L284.6,470.1 L285.1,467.8 L285.6,465.4 L286.1,463.0 L286.6,460.6 L287.1,458.1 L287.6,455.6 L288.1,453.1 L288.7,450.6 L289.2,448.0 L289.7,445.4 L290.2,442.8 L290.7,440.1 L291.2,437.5 L291.7,434.8 L292.2,432.0 L292.7,429.3 L293.2,426.5 L293.7,423.7 L294.2,420.9 L294.7,418.1 L295.2,415.2 L295.7,412.3 L296.2,409.4 L296.7,406.5 L297.2,403.5 L297.7,400.5 L298.2,397.5 L298.7,394.4 L299.2,391.2 L299.7,387.9 L300.2,384.6 L300.7,381.1 L301.2,377.6 L301.7,374.1 L302.2,370.5 L302.7,366.8 L303.2,363.1 L303.7,359.4 L304.2,355.6 L304.8,351.8 L305.3,347.9 L305.8,344.0 L306.3,340.2 L306.8,336.3 L307.3,332.4 L307.8,328.5 L308.3,324.6 L308.8,320.7 L309.3,316.8 L309.8,313.0 L310.3,309.1 L310.8,305.3 L311.3,301.5 L311.8,297.7 L312.3,293.8 L312.8,289.9 L313.3,286.0 L313.8,282.0 L314.3,277.9 L314.8,273.7 L315.3,269.4 L315.8,265.1 L316.3,260.6 L316.8,255.9 L317.3,251.1 L317.8,246.1 L318.3,240.5 L318.8,234.6 L319.3,228.4 L319.8,222.0 L320.4,215.6 L320.9,209.3 L321.4,203.2 L321.9,197.5 L322.4,192.2 L322.9,187.4 L323.4,182.6 L323.9,177.9 L324.4,173.2 L324.9,168.7 L325.4,164.4 L325.9,160.2 L326.4,156.4 L326.9,152.9 L327.4,149.7 L327.9,146.9 L328.4,144.6 L328.9,142.3 L329.4,140.1 L329.9,137.9 L330.4,135.7 L330.9,133.6 L331.4,131.6 L331.9,129.7 L332.4,127.8 L332.9,126.1 L333.4,124.5 L333.9,123.1 L334.4,121.8 L334.9,120.7 L335.4,119.8 L335.9,119.1 L336.5,118.5 L337.0,118.3 L337.5,118.2 L338.0,118.5 L338.5,119.1 L339.0,120.0 L339.5,121.1 L340.0,122.5 L340.5,124.1 L341.0,125.9 L341.5,127.9 L342.0,130.1 L342.5,132.3 L343.0,134.7 L343.5,137.1 L344.0,139.5 L344.5,142.0 L345.0,144.5 L345.5,147.1 L346.0,149.9 L346.5,153.0 L347.0,156.5 L347.5,160.2 L348.0,164.1 L348.5,168.3 L349.0,172.7 L349.5,177.4 L350.0,182.2 L350.5,187.2 L351.0,192.4 L351.5,198.6 L352.1,205.7 L352.6,213.5 L353.1,221.5 L353.6,229.5 L354.1,237.2 L354.6,244.2 L355.1,250.3 L355.6,255.7 L356.1,260.8 L356.6,265.6 L357.1,270.3 L357.6,274.7 L358.1,279.0 L358.6,283.2 L359.1,287.3 L359.6,291.5 L360.1,295.6 L360.6,299.9 L361.1,304.2 L361.6,308.7 L362.1,313.3 L362.6,317.9 L363.1,322.5 L363.6,327.2 L364.1,331.9 L364.6,336.7 L365.1,341.4 L365.6,346.1 L366.1,350.9 L366.6,355.5 L367.1,360.2 L367.6,364.8 L368.2,369.4 L368.7,373.9 L369.2,378.4 L369.7,382.7 L370.2,387.0 L370.7,391.2 L371.2,395.3 L371.7,399.3 L372.2,403.2 L372.7,407.0 L373.2,410.7 L373.7,414.4 L374.2,418.0 L374.7,421.5 L375.2,425.0 L375.7,428.5 L376.2,431.9 L376.7,435.3 L377.2,438.6 L377.7,441.9 L378.2,445.2 L378.7,448.5 L379.2,451.8 L379.7,455.0 L380.2,458.3 L380.7,461.5 L381.2,464.7 L381.7,467.9 L382.2,471.1 L382.7,474.3 L383.2,477.4 L383.7,480.5 L384.3,483.7 L384.8,486.8 L385.3,489.8 L385.8,492.9 L386.3,495.9 L386.8,498.9 L387.3,501.9 L387.8,504.9 L388.3,507.8 L388.8,510.8 L389.3,513.7 L389.8,516.5 L390.3,519.4 L390.8,522.2 L391.3,525.0 L391.8,527.8 L392.3,524.3 L392.8,520.9 L393.3,517.4 L393.8,514.0 L394.3,510.5 L394.8,507.0 L395.3,503.6 L395.8,500.1 L396.3,496.7 L396.8,493.2 L397.3,489.8 L397.8,486.3 L398.3,482.9 L398.8,479.4 L399.3,476.0 L399.8,472.5 L400.3,469.1 L400.8,465.6 L401.4,462.3 L401.9,459.0 L402.4,455.7 L402.9,452.5 L403.4,449.3 L403.9,446.1 L404.4,442.9 L404.9,439.7 L405.4,436.5 L405.9,433.2 L406.4,429.9 L406.9,426.6 L407.4,423.1 L407.9,419.6 L408.4,416.0 L408.9,412.3 L409.4,408.4 L409.9,404.5 L410.4,400.4 L410.9,396.0 L411.4,391.4 L411.9,386.4 L412.4,381.2 L412.9,375.8 L413.4,370.2 L413.9,364.5 L414.4,358.8 L414.9,353.0 L415.4,347.3 L415.9,341.6 L416.4,336.1 L416.9,330.7 L417.4,325.5 L417.9,320.6 L418.4,316.0 L418.9,311.6 L419.4,307.4 L419.9,303.2 L420.5,299.2 L421.0,295.3 L421.5,291.4 L422.0,287.6 L422.5,283.8 L423.0,280.0 L423.5,276.2 L424.0,272.3 L424.5,268.4 L425.0,264.4 L425.5,260.3 L426.0,256.0 L426.5,251.7 L427.0,247.5 L427.5,243.3 L428.0,239.1 L428.5,234.9 L429.0,230.5 L429.5,226.0 L430.0,221.2 L430.5,216.2 L431.0,210.9 L431.5,205.2 L432.0,198.7 L432.5,190.7 L433.0,181.9 L433.5,173.5 L434.0,166.4 L434.5,160.9 L435.0,155.9 L435.5,151.2 L436.0,146.8 L436.5,142.7 L437.0,138.8 L437.5,135.0 L438.0,131.4 L438.5,127.9 L439.0,124.4 L439.6,120.8 L440.1,117.3 L440.6,113.5 L441.1,109.7 L441.6,105.6 L442.1,101.4 L442.6,97.1 L443.1,92.8 L443.6,88.6 L444.1,84.4 L444.6,80.4 L445.1,76.6 L445.6,73.1 L446.1,69.9 L446.6,67.0 L447.1,64.6 L447.6,62.3 L448.1,59.9 L448.6,57.6 L449.1,55.3 L449.6,53.0 L450.1,50.9 L450.6,48.8 L451.1,46.9 L451.6,45.2 L452.1,43.6 L452.6,42.2 L453.1,41.1 L453.6,40.1 L454.1,39.5 L454.6,39.1 L455.1,39.0 L455.6,39.2 L456.1,39.6 L456.6,40.2 L457.1,41.1 L457.6,42.1 L458.1,43.2 L458.7,44.6 L459.2,46.0 L459.7,47.6 L460.2,49.3 L460.7,51.1 L461.2,52.9 L461.7,54.8 L462.2,56.8 L462.7,58.7 L463.2,60.7 L463.7,62.7 L464.2,64.7 L464.7,66.6 L465.2,68.8 L465.7,71.2 L466.2,73.9 L466.7,76.6 L467.2,79.5 L467.7,82.5 L468.2,85.6 L468.7,88.7 L469.2,91.8 L469.7,94.8 L470.2,97.8 L470.7,100.7 L471.2,103.6 L471.7,106.5 L472.2,109.5 L472.7,112.4 L473.2,115.3 L473.7,118.3 L474.2,121.3 L474.7,124.2 L475.2,127.2 L475.7,130.3 L476.2,133.3 L476.7,136.4 L477.2,139.5 L477.8,142.6 L478.3,145.7 L478.8,148.9 L479.3,152.1 L479.8,155.4 L480.3,158.7 L480.8,162.1 L481.3,165.4 L481.8,168.7 L482.3,172.0 L482.8,175.2 L483.3,178.4 L483.8,181.6 L484.3,184.8 L484.8,188.0 L485.3,191.2 L485.8,194.3 L486.3,197.4 L486.8,200.5 L487.3,203.6 L487.8,206.6 L488.3,209.7 L488.8,212.7 L489.3,215.7 L489.8,218.7 L490.3,221.7 L490.8,224.7 L491.3,227.6 L491.8,230.6 L492.3,233.5 L492.8,236.4 L493.3,239.2 L493.8,242.1 L494.3,244.9 L494.8,247.7 L495.3,250.4 L495.8,253.1 L496.3,255.8 L496.9,258.4 L497.4,261.0 L497.9,263.6 L498.4,266.1 L498.9,268.6 L499.4,271.1 L499.9,273.6 L500.4,276.0 L500.9,278.5 L501.4,280.9 L501.9,283.3 L502.4,285.7 L502.9,288.0 L503.4,290.4 L503.9,292.8 L504.4,295.2 L504.9,297.6 L505.4,300.0 L505.9,302.4 L506.4,304.9 L506.9,307.3 L507.4,309.8 L507.9,312.3 L508.4,314.7 L508.9,317.2 L509.4,319.8 L509.9,322.3 L510.4,324.8 L510.9,327.3 L511.4,329.9 L511.9,332.4 L512.4,335.0 L512.9,337.5 L513.4,340.1 L513.9,342.6 L514.4,345.2 L514.9,347.7 L515.4,350.3 L516.0,352.8 L516.5,355.3 L517.0,357.8 L517.5,360.4 L518.0,362.9 L518.5,365.3 L519.0,367.8 L519.5,370.3 L520.0,372.7 L520.5,375.1 L521.0,377.5 L521.5,379.9 L522.0,382.3 L522.5,384.7 L523.0,387.0 L523.5,389.3 L524.0,391.6 L524.5,393.8 L525.0,396.0 L525.5,398.2 L526.0,400.4 L526.5,402.5 L527.0,404.6 L527.5,406.7 L528.0,408.7 L528.5,410.7 L529.0,412.7 L529.5,414.7 L530.0,416.6 L530.5,418.6 L531.0,420.5 L531.5,422.4 L532.0,424.3 L532.5,426.2 L533.0,428.0 L533.5,429.9 L534.0,431.8 L534.5,433.7 L535.1,435.5 L535.6,437.4 L536.1,439.3 L536.6,441.2 L537.1,443.1 L537.6,445.0 L538.1,446.9 L538.6,448.9 L539.1,450.8 L539.6,452.8 L540.1,454.8 L540.6,456.8 L541.1,458.9 L541.6,461.0 L542.1,463.1 L542.6,465.2 L543.1,467.3 L543.6,469.4 L544.1,471.4 L544.6,473.4 L545.1,475.4 L545.6,477.4 L546.1,479.3 L546.6,481.3 L547.1,483.3 L547.6,485.2 L548.1,487.1 L548.6,489.1 L549.1,491.0 L549.6,492.9 L550.1,494.9 L550.6,496.8 L551.1,498.7 L551.6,500.6 L552.1,502.5 L552.6,504.4 L553.1,506.2 L553.6,508.1 L554.2,510.0 L554.7,511.8 L555.2,513.7 L555.7,515.5 L556.2,517.4 L556.7,519.2 L557.2,521.0 L557.7,522.8 L558.2,524.6 L558.7,526.4 L559.2,528.2 L559.7,529.9 L560.2,531.7 L560.7,533.4 L561.2,535.2 L561.7,536.9 L562.2,538.6 L562.7,540.3 L563.2,542.0 L563.7,539.5 L564.2,537.0 L564.7,534.4 L565.2,531.9 L565.7,529.3 L566.2,526.7 L566.7,524.1 L567.2,521.5 L567.7,518.8 L568.2,516.2 L568.7,513.5 L569.2,510.8 L569.7,508.1 L570.2,505.4 L570.7,502.7 L571.3,499.9 L571.8,497.2 L572.3,494.4 L572.8,491.6 L573.3,488.8 L573.8,486.0 L574.3,483.1 L574.8,480.3 L575.3,477.4 L575.8,474.5 L576.3,471.7 L576.8,468.9 L577.3,466.1 L577.8,463.3 L578.3,460.5 L578.8,457.7 L579.3,455.0 L579.8,452.2 L580.3,449.4 L580.8,446.6 L581.3,443.7 L581.8,440.8 L582.3,437.9 L582.8,434.9 L583.3,431.8 L583.8,428.7 L584.3,425.5 L584.8,422.3 L585.3,418.9 L585.8,415.5 L586.3,411.9 L586.9,408.3 L587.4,404.5 L587.9,400.6 L588.4,396.6 L588.9,392.3 L589.4,387.9 L589.9,383.2 L590.4,378.4 L590.9,373.4 L591.4,368.2 L591.9,362.9 L592.4,357.4 L592.9,351.7 L593.4,346.0 L593.9,340.1 L594.4,334.1 L594.9,328.0 L595.4,321.8 L595.9,315.6 L596.4,309.0 L596.9,302.1 L597.4,295.0 L597.9,287.6 L598.4,280.1 L598.9,272.3 L599.4,264.5 L599.9,256.5 L600.4,248.4 L600.9,239.5 L601.4,229.7 L601.9,219.5 L602.5,209.6 L603.0,200.6 L603.5,193.1 L604.0,187.5 L604.5,182.4 L605.0,177.5 L605.5,172.9 L606.0,168.7 L606.5,165.1 L607.0,162.3 L607.5,160.4 L608.0,159.5 L608.5,160.0 L609.0,162.0 L609.5,165.2 L610.0,169.6 L610.5,174.7 L611.0,180.5 L611.5,186.7 L612.0,193.9 L612.5,204.6 L613.0,217.6 L613.5,231.5 L614.0,244.8 L614.5,256.7 L615.0,268.9 L615.5,281.0 L616.0,292.8 L616.5,303.9 L617.0,313.8 L617.5,322.3 L618.1,330.2 L618.6,337.8 L619.1,345.0 L619.6,351.8 L620.1,358.3 L620.6,364.6 L621.1,370.6 L621.6,376.3 L622.1,381.9 L622.6,387.2 L623.1,392.4 L623.6,397.4 L624.1,402.3 L624.6,407.0 L625.1,411.5 L625.6,415.9 L626.1,420.1 L626.6,424.2 L627.1,428.1 L627.6,432.0 L628.1,435.8 L628.6,439.5 L629.1,443.2 L629.6,446.9 L630.1,450.5 L630.6,454.2 L631.1,457.8 L631.6,461.5 L632.1,465.3 L632.6,469.1 L633.1,472.9 L633.7,476.8 L634.2,480.6 L634.7,484.4 L635.2,488.2 L635.7,492.0 L636.2,495.7 L636.7,499.5 L637.2,503.2 L637.7,507.0 L638.2,510.7 L638.7,514.4 L639.2,518.1 L639.7,521.7 L640.2,525.4 L640.7,529.1 L641.2,532.7 L641.7,530.6 L642.2,528.6 L642.7,526.5 L643.2,524.5 L643.7,522.5 L644.2,520.4 L644.7,518.4 L645.2,516.4 L645.7,514.5 L646.2,512.5 L646.7,510.5 L647.2,508.6 L647.7,506.6 L648.2,504.7 L648.7,502.8 L649.2,500.9 L649.7,499.0 L650.2,497.1 L650.7,495.2 L651.2,493.3 L651.7,491.5 L652.2,489.6 L652.7,487.8 L653.3,485.9 L653.8,484.1 L654.3,482.3 L654.8,480.5 L655.3,478.7 L655.8,476.9 L656.3,475.1 L656.8,473.3 L657.3,471.6 L657.8,469.8 L658.3,468.1 L658.8,466.4 L659.3,464.6 L659.8,462.9 L660.3,461.2 L660.8,459.5 L661.3,457.8 L661.8,456.1 L662.3,454.5 L662.8,452.8 L663.3,451.1 L663.8,449.5 L664.3,447.8 L664.8,446.2 L665.3,444.6 L665.8,443.0 L666.3,441.4 L666.8,439.8 L667.3,438.2 L667.8,436.6 L668.3,435.0 L668.8,433.4 L669.3,431.9 L669.8,430.3 L670.3,428.8 L670.8,427.2 L671.3,425.7 L671.8,424.2 L672.3,422.6 L672.8,421.1 L673.3,419.6 L673.8,418.1 L674.3,416.6 L674.8,415.2 L675.3,413.7 L675.8,412.2 L676.3,410.7 L676.9,409.3 L677.4,407.8 L677.9,406.4 L678.4,404.9 L678.9,403.5 L679.4,402.1 L679.9,400.7 L680.4,399.3 L680.9,397.9 L681.4,396.5 L681.9,395.1 L682.4,393.7 L682.9,392.3 L683.4,390.9 L683.9,389.5 L684.4,388.2 L684.9,386.8 L685.4,385.5 L685.9,384.1 L686.4,382.8 L686.9,381.4 L687.4,380.1 L687.9,378.8 L688.4,377.5 L688.9,376.1 L689.4,374.8 L689.9,373.5 L690.4,372.2 L690.9,370.9 L691.4,369.7 L691.9,368.4 L692.4,367.1 L692.9,365.8 L693.4,364.6 L693.9,363.3 L694.4,362.0 L694.9,360.8 L695.4,359.5 L695.9,358.3 L696.4,357.0 L696.9,355.8 L697.4,354.6 L697.9,353.4 L698.4,352.1 L698.9,350.9 L699.4,349.7 L699.9,348.5 L700.5,347.3 L701.0,346.1 L701.5,344.9 L702.0,343.7 L702.5,342.5 L703.0,341.3 L703.5,340.2 L704.0,339.0 L704.5,337.8 L705.0,336.7 L705.5,335.5 L706.0,334.3 L706.5,333.2 L707.0,332.0 L707.5,330.9 L708.0,329.7 L708.5,328.6 L709.0,327.5 L709.5,326.3 L710.0,325.2 L710.5,324.1 L711.0,323.0 L711.5,321.8 L712.0,320.7 L712.5,319.6 L713.0,318.5 L713.5,317.4 L714.0,316.3 L714.5,315.2 L715.0,314.1 L715.5,313.0 L716.0,311.9 L716.5,310.8 L717.0,309.7 L717.5,308.7 L718.0,307.6 L718.5,306.5 L719.0,305.4 L719.5,304.4 L720.0,303.3 L720.5,302.2 L721.0,301.2 L721.5,300.1 L722.0,299.1 L722.5,298.0 L723.0,297.0 L723.5,295.9 L724.1,294.9 L724.6,293.8 L725.1,292.8 L725.6,291.8 L726.1,290.7 L726.6,289.7 L727.1,288.7 L727.6,287.6 L728.1,286.6 L728.6,285.6 L729.1,284.6 L729.6,283.5 L730.1,282.5 L730.6,281.5 L731.1,280.5 L731.6,279.5 L732.1,278.5 L732.6,277.5 L733.1,276.5 L733.6,275.5 L734.1,274.5 L734.6,273.5 L735.1,272.5 L735.6,271.5 L736.1,270.5 L736.6,269.5 L737.1,268.5 L737.6,267.5 L738.1,266.6 L738.6,265.6 L739.1,264.6 L739.6,263.6 L740.1,262.6 L740.6,261.7 L741.1,260.7 L741.6,259.7 L742.1,258.7 L742.6,257.8 L743.1,256.8 L743.6,255.8 L744.1,254.9 L744.6,253.9 L745.1,252.9 L745.6,252.0 L746.1,251.0 L746.6,250.1 L747.1,249.1 L747.6,248.1 L748.2,247.2 L748.7,246.2 L749.2,245.3 L749.7,244.3 L750.2,243.4 L750.7,242.4 L751.2,241.5 L751.7,240.5 L752.2,239.6 L752.7,238.7 L753.2,237.7 L753.7,236.8 L754.2,235.8 L754.7,234.9 L755.2,234.0 L755.7,233.0 L756.2,232.1 L756.7,231.2 L757.2,230.2 L757.7,229.3 L758.2,228.4 L758.7,227.4 L759.2,226.5 L759.7,225.6 L760.2,224.6 L760.7,223.7 L761.2,222.8 L761.7,221.9 L762.2,220.9 L762.7,220.0 L763.2,219.1 L763.7,218.2 L764.2,217.3 L764.7,216.3 L765.2,215.4 L765.7,214.5 L766.2,213.6 L766.7,212.7 L767.2,211.7 L767.7,210.8 L768.2,209.9 L768.7,209.0 L769.2,208.1 L769.7,207.2 L770.2,206.3 L770.7,205.4 L771.2,204.4 L771.8,203.5 L772.3,202.6 L772.8,201.7 L773.3,200.8 L773.8,199.9 L774.3,199.0 L774.8,198.1 L775.3,197.2 L775.8,196.3 L776.3,195.4 L776.8,194.5 L777.3,193.6 L777.8,192.7 L778.3,191.8 L778.8,190.9 L779.3,190.0 L779.8,189.1 L780.3,188.2 L780.8,187.3 L781.3,186.4 L781.8,185.5 L782.3,184.6 L782.8,183.7 L783.3,182.8 L783.8,181.9 L784.3,181.0 L784.8,180.1 L785.3,179.2 L785.8,178.3 L786.3,177.4 L786.8,176.5 L787.3,175.6 L787.8,174.8 L788.3,173.9 L788.8,173.0 L789.3,172.1 L789.8,171.2 L790.3,170.3 L790.8,169.4 L791.3,168.5 L791.8,167.7 L792.3,166.8 L792.8,165.9 L793.3,165.0 L793.8,164.1 L794.3,163.2 L794.8,162.3 L795.4,161.5 L795.9,160.6 L796.4,159.7 L796.9,158.8 L797.4,157.9 L797.9,157.1 L798.4,156.2 L798.9,155.3 L799.4,154.4 L799.9,153.6 L800.4,152.7 L800.9,151.8 L801.4,150.9 L801.9,150.1 L802.4,149.2 L802.9,148.3 L803.4,147.4 L803.9,146.6 L804.4,145.7 L804.9,144.8 L805.4,144.0 L805.9,143.1 L806.4,142.2 L806.9,141.3 L807.4,140.5 L807.9,139.6 L808.4,138.7 L808.9,137.9 L809.4,137.0 L809.9,136.2 L810.4,135.3 L810.9,134.4 L811.4,133.6 L811.9,132.7 L812.4,131.9 L812.9,131.0 L813.4,130.1 L813.9,129.3 L814.4,128.4 L814.9,127.6 L815.4,126.7 L815.9,125.9 L816.4,125.0 L816.9,124.2 L817.4,123.3 L817.9,122.5 L818.4,121.6 L819.0,120.8 L819.5,119.9 L820.0,119.1 L820.5,118.3 L821.0,117.4 L821.5,116.6 L822.0,115.7 L822.5,114.9 L823.0,114.1 L823.5,113.2 L824.0,112.4 L824.5,111.6 L825.0,110.7 L825.5,109.9 L826.0,109.1 L826.5,108.2 L827.0,107.4 L827.5,106.6 L828.0,105.8 L828.5,104.9 L829.0,104.1 L829.5,103.3 L830.0,102.5 L830.2,101.7" fill="none" stroke="#f0f" stroke-width="2.3"/>
</g>
<rect x="111.5" y="17.4" width="152.8" height="143.2" fill="#fff" stroke="#3a3a3a" stroke-width="1.3"/>
<path d="M122,38.2H187" stroke="#000" stroke-width="2.1" stroke-linecap="round"/>
<rect x="152.4" y="36.400000000000006" width="3.6" height="3.6" fill="#000"/>
<text x="192.6" y="47.6" font-family="Liberation Serif" font-size="29.5">ε=2.0</text>
<path d="M122,73.4H187" stroke="#f00" stroke-width="2.1" stroke-linecap="round"/>
<circle cx="154.3" cy="73.4" r="1.8" fill="#fff" stroke="#f00" stroke-width="0.3"/>
<text x="192.6" y="82.8" font-family="Liberation Serif" font-size="29.5">ε=2.2</text>
<path d="M122,108.8H187" stroke="#00f" stroke-width="2.1" stroke-linecap="round"/>
<path d="M154.3,106.39999999999999l2.3,4.1h-4.6z" fill="#fff" stroke="#00f" stroke-width="0.3"/>
<text x="192.6" y="118.2" font-family="Liberation Serif" font-size="29.5">ε=2.4</text>
<path d="M122,144.2H187" stroke="#f0f" stroke-width="2.1" stroke-linecap="round"/>
<text x="192.6" y="153.6" font-family="Liberation Serif" font-size="29.5">ε=2.6</text>
<rect x="105.4" y="13.2" width="724.8" height="533.0" fill="none" stroke="#000" stroke-width="2.4"/>
<path d="M105.4,546.2v12 M165.8,546.2v6.5 M226.2,546.2v12 M286.6,546.2v6.5 M347.0,546.2v12 M407.4,546.2v6.5 M467.8,546.2v12 M528.2,546.2v6.5 M588.6,546.2v12 M649.0,546.2v6.5 M709.4,546.2v12 M769.8,546.2v6.5 M830.2,546.2v12 M177.9,13.2v5.5 M250.4,13.2v10 M322.8,13.2v5.5 M395.3,13.2v10 M467.8,13.2v5.5 M540.3,13.2v10 M612.8,13.2v5.5 M685.2,13.2v10 M757.7,13.2v5.5 M105.4,546.2h-11.5 M830.2,546.2h-11 M105.4,492.9h-6.2 M830.2,492.9h-6 M105.4,439.6h-11.5 M830.2,439.6h-11 M105.4,386.3h-6.2 M830.2,386.3h-6 M105.4,333.0h-11.5 M830.2,333.0h-11 M105.4,279.7h-6.2 M830.2,279.7h-6 M105.4,226.4h-11.5 M830.2,226.4h-11 M105.4,173.1h-6.2 M830.2,173.1h-6 M105.4,119.8h-11.5 M830.2,119.8h-11 M105.4,66.5h-6.2 M830.2,66.5h-6 M105.4,13.2h-11.5 M830.2,13.2h-11" stroke="#000" stroke-width="2" fill="none"/>
<g font-family="Liberation Serif" font-weight="bold" font-size="29.5" fill="#000"><text transform="translate(105.4,598) scale(1,1.05)" text-anchor="middle">4.0</text><text transform="translate(226.2,598) scale(1,1.05)" text-anchor="middle">4.5</text><text transform="translate(347.0,598) scale(1,1.05)" text-anchor="middle">5.0</text><text transform="translate(467.8,598) scale(1,1.05)" text-anchor="middle">5.5</text><text transform="translate(588.6,598) scale(1,1.05)" text-anchor="middle">6.0</text><text transform="translate(709.4,598) scale(1,1.05)" text-anchor="middle">6.5</text><text transform="translate(830.2,598) scale(1,1.05)" text-anchor="middle">7.0</text><text transform="translate(72.5,553.5) scale(1,1.05)" text-anchor="end">0.0</text><text transform="translate(72.5,446.9) scale(1,1.05)" text-anchor="end">0.2</text><text transform="translate(72.5,340.3) scale(1,1.05)" text-anchor="end">0.4</text><text transform="translate(72.5,233.7) scale(1,1.05)" text-anchor="end">0.6</text><text transform="translate(72.5,127.1) scale(1,1.05)" text-anchor="end">0.8</text><text transform="translate(72.5,20.5) scale(1,1.05)" text-anchor="end">1.0</text></g>
<text x="493" y="653" text-anchor="middle" font-family="Liberation Serif" font-weight="bold" font-size="34">Frequency (GHz)</text>
<text transform="translate(24,301) rotate(-90)" text-anchor="middle" font-family="Liberation Serif" font-weight="bold" font-size="34">Transmission (dB)</text>
</svg>
</body></html>
